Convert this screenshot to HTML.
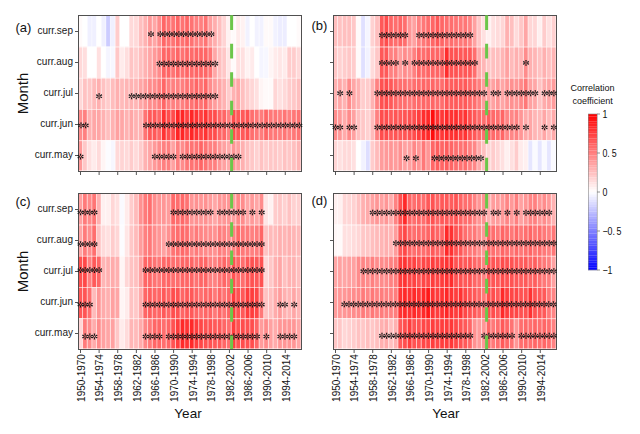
<!DOCTYPE html>
<html><head><meta charset="utf-8"><style>
html,body{margin:0;padding:0;background:#fff;width:640px;height:434px;overflow:hidden}
svg{display:block;font-family:"Liberation Sans",sans-serif}
</style></head><body>
<svg width="640" height="434" viewBox="0 0 640 434">
<rect x="0" y="0" width="640" height="434" fill="#fff"/>
<rect x="78.00" y="15.5" width="4.70" height="31.2" fill="#fffafa"/>
<rect x="82.65" y="15.5" width="4.70" height="31.2" fill="#ffffff"/>
<rect x="87.29" y="15.5" width="4.70" height="31.2" fill="#f0f0ff"/>
<rect x="91.94" y="15.5" width="4.70" height="31.2" fill="#f0f0ff"/>
<rect x="96.58" y="15.5" width="4.70" height="31.2" fill="#ffffff"/>
<rect x="101.23" y="15.5" width="4.70" height="31.2" fill="#f0f0ff"/>
<rect x="105.88" y="15.5" width="4.70" height="31.2" fill="#ccccff"/>
<rect x="110.52" y="15.5" width="4.70" height="31.2" fill="#f0f0ff"/>
<rect x="115.17" y="15.5" width="4.70" height="31.2" fill="#ffcccc"/>
<rect x="119.81" y="15.5" width="4.70" height="31.2" fill="#ffffff"/>
<rect x="124.46" y="15.5" width="4.70" height="31.2" fill="#ffffff"/>
<rect x="129.10" y="15.5" width="4.70" height="31.2" fill="#ffd9d9"/>
<rect x="133.75" y="15.5" width="4.70" height="31.2" fill="#ffd9d9"/>
<rect x="138.40" y="15.5" width="4.70" height="31.2" fill="#ffbfbf"/>
<rect x="143.04" y="15.5" width="4.70" height="31.2" fill="#ffb2b2"/>
<rect x="147.69" y="15.5" width="4.70" height="31.2" fill="#ff9999"/>
<rect x="152.33" y="15.5" width="4.70" height="31.2" fill="#ffa6a6"/>
<rect x="156.98" y="15.5" width="4.70" height="31.2" fill="#ff8c8c"/>
<rect x="161.62" y="15.5" width="4.70" height="31.2" fill="#ff6666"/>
<rect x="166.27" y="15.5" width="4.70" height="31.2" fill="#ff7373"/>
<rect x="170.92" y="15.5" width="4.70" height="31.2" fill="#ff7373"/>
<rect x="175.56" y="15.5" width="4.70" height="31.2" fill="#ff6666"/>
<rect x="180.21" y="15.5" width="4.70" height="31.2" fill="#ff7373"/>
<rect x="184.85" y="15.5" width="4.70" height="31.2" fill="#ff6666"/>
<rect x="189.50" y="15.5" width="4.70" height="31.2" fill="#ff7373"/>
<rect x="194.15" y="15.5" width="4.70" height="31.2" fill="#ff8080"/>
<rect x="198.79" y="15.5" width="4.70" height="31.2" fill="#ff8080"/>
<rect x="203.44" y="15.5" width="4.70" height="31.2" fill="#ff7373"/>
<rect x="208.08" y="15.5" width="4.70" height="31.2" fill="#ff9e9e"/>
<rect x="212.73" y="15.5" width="4.70" height="31.2" fill="#ffadad"/>
<rect x="217.38" y="15.5" width="4.70" height="31.2" fill="#ffbfbf"/>
<rect x="222.02" y="15.5" width="4.70" height="31.2" fill="#ffd4d4"/>
<rect x="226.67" y="15.5" width="4.70" height="31.2" fill="#fff2f2"/>
<rect x="231.31" y="15.5" width="4.70" height="31.2" fill="#fffafa"/>
<rect x="235.96" y="15.5" width="4.70" height="31.2" fill="#ffebeb"/>
<rect x="240.60" y="15.5" width="4.70" height="31.2" fill="#fff2f2"/>
<rect x="245.25" y="15.5" width="4.70" height="31.2" fill="#f2f2ff"/>
<rect x="249.90" y="15.5" width="4.70" height="31.2" fill="#ffffff"/>
<rect x="254.54" y="15.5" width="4.70" height="31.2" fill="#f2f2ff"/>
<rect x="259.19" y="15.5" width="4.70" height="31.2" fill="#f2f2ff"/>
<rect x="263.83" y="15.5" width="4.70" height="31.2" fill="#fffafa"/>
<rect x="268.48" y="15.5" width="4.70" height="31.2" fill="#fffafa"/>
<rect x="273.12" y="15.5" width="4.70" height="31.2" fill="#f2f2ff"/>
<rect x="277.77" y="15.5" width="4.70" height="31.2" fill="#ededff"/>
<rect x="282.42" y="15.5" width="4.70" height="31.2" fill="#ededff"/>
<rect x="287.06" y="15.5" width="4.70" height="31.2" fill="#ffffff"/>
<rect x="291.71" y="15.5" width="4.70" height="31.2" fill="#ffffff"/>
<rect x="296.35" y="15.5" width="4.70" height="31.2" fill="#fffafa"/>
<rect x="78.00" y="46.7" width="4.70" height="31.2" fill="#ffd9d9"/>
<rect x="82.65" y="46.7" width="4.70" height="31.2" fill="#ffdede"/>
<rect x="87.29" y="46.7" width="4.70" height="31.2" fill="#ffffff"/>
<rect x="91.94" y="46.7" width="4.70" height="31.2" fill="#ffffff"/>
<rect x="96.58" y="46.7" width="4.70" height="31.2" fill="#ffe0e0"/>
<rect x="101.23" y="46.7" width="4.70" height="31.2" fill="#ffffff"/>
<rect x="105.88" y="46.7" width="4.70" height="31.2" fill="#f5f5ff"/>
<rect x="110.52" y="46.7" width="4.70" height="31.2" fill="#f7f7ff"/>
<rect x="115.17" y="46.7" width="4.70" height="31.2" fill="#ffc7c7"/>
<rect x="119.81" y="46.7" width="4.70" height="31.2" fill="#ffebeb"/>
<rect x="124.46" y="46.7" width="4.70" height="31.2" fill="#ffdede"/>
<rect x="129.10" y="46.7" width="4.70" height="31.2" fill="#ffc4c4"/>
<rect x="133.75" y="46.7" width="4.70" height="31.2" fill="#ffcccc"/>
<rect x="138.40" y="46.7" width="4.70" height="31.2" fill="#ffbfbf"/>
<rect x="143.04" y="46.7" width="4.70" height="31.2" fill="#ffb2b2"/>
<rect x="147.69" y="46.7" width="4.70" height="31.2" fill="#ffa6a6"/>
<rect x="152.33" y="46.7" width="4.70" height="31.2" fill="#ff9999"/>
<rect x="156.98" y="46.7" width="4.70" height="31.2" fill="#ff8c8c"/>
<rect x="161.62" y="46.7" width="4.70" height="31.2" fill="#ff6666"/>
<rect x="166.27" y="46.7" width="4.70" height="31.2" fill="#ff6666"/>
<rect x="170.92" y="46.7" width="4.70" height="31.2" fill="#ff7373"/>
<rect x="175.56" y="46.7" width="4.70" height="31.2" fill="#ff6666"/>
<rect x="180.21" y="46.7" width="4.70" height="31.2" fill="#ff7373"/>
<rect x="184.85" y="46.7" width="4.70" height="31.2" fill="#ff6666"/>
<rect x="189.50" y="46.7" width="4.70" height="31.2" fill="#ff6b6b"/>
<rect x="194.15" y="46.7" width="4.70" height="31.2" fill="#ff6666"/>
<rect x="198.79" y="46.7" width="4.70" height="31.2" fill="#ff6666"/>
<rect x="203.44" y="46.7" width="4.70" height="31.2" fill="#ff6666"/>
<rect x="208.08" y="46.7" width="4.70" height="31.2" fill="#ff7575"/>
<rect x="212.73" y="46.7" width="4.70" height="31.2" fill="#ffa6a6"/>
<rect x="217.38" y="46.7" width="4.70" height="31.2" fill="#ffbfbf"/>
<rect x="222.02" y="46.7" width="4.70" height="31.2" fill="#ffc7c7"/>
<rect x="226.67" y="46.7" width="4.70" height="31.2" fill="#ffe6e6"/>
<rect x="231.31" y="46.7" width="4.70" height="31.2" fill="#fffafa"/>
<rect x="235.96" y="46.7" width="4.70" height="31.2" fill="#ffe0e0"/>
<rect x="240.60" y="46.7" width="4.70" height="31.2" fill="#ffe0e0"/>
<rect x="245.25" y="46.7" width="4.70" height="31.2" fill="#fff2f2"/>
<rect x="249.90" y="46.7" width="4.70" height="31.2" fill="#ffebeb"/>
<rect x="254.54" y="46.7" width="4.70" height="31.2" fill="#ffffff"/>
<rect x="259.19" y="46.7" width="4.70" height="31.2" fill="#f5f5ff"/>
<rect x="263.83" y="46.7" width="4.70" height="31.2" fill="#f7f7ff"/>
<rect x="268.48" y="46.7" width="4.70" height="31.2" fill="#fff5f5"/>
<rect x="273.12" y="46.7" width="4.70" height="31.2" fill="#ffebeb"/>
<rect x="277.77" y="46.7" width="4.70" height="31.2" fill="#ffe6e6"/>
<rect x="282.42" y="46.7" width="4.70" height="31.2" fill="#ffebeb"/>
<rect x="287.06" y="46.7" width="4.70" height="31.2" fill="#ffcccc"/>
<rect x="291.71" y="46.7" width="4.70" height="31.2" fill="#ffcccc"/>
<rect x="296.35" y="46.7" width="4.70" height="31.2" fill="#ffd9d9"/>
<rect x="78.00" y="77.9" width="4.70" height="31.2" fill="#ffd9d9"/>
<rect x="82.65" y="77.9" width="4.70" height="31.2" fill="#ffc2c2"/>
<rect x="87.29" y="77.9" width="4.70" height="31.2" fill="#ffc7c7"/>
<rect x="91.94" y="77.9" width="4.70" height="31.2" fill="#ffbaba"/>
<rect x="96.58" y="77.9" width="4.70" height="31.2" fill="#ffb0b0"/>
<rect x="101.23" y="77.9" width="4.70" height="31.2" fill="#ffc2c2"/>
<rect x="105.88" y="77.9" width="4.70" height="31.2" fill="#ffcccc"/>
<rect x="110.52" y="77.9" width="4.70" height="31.2" fill="#ffbdbd"/>
<rect x="115.17" y="77.9" width="4.70" height="31.2" fill="#ffb0b0"/>
<rect x="119.81" y="77.9" width="4.70" height="31.2" fill="#ffbaba"/>
<rect x="124.46" y="77.9" width="4.70" height="31.2" fill="#ffb5b5"/>
<rect x="129.10" y="77.9" width="4.70" height="31.2" fill="#ffb2b2"/>
<rect x="133.75" y="77.9" width="4.70" height="31.2" fill="#ffb5b5"/>
<rect x="138.40" y="77.9" width="4.70" height="31.2" fill="#ffa6a6"/>
<rect x="143.04" y="77.9" width="4.70" height="31.2" fill="#ff9c9c"/>
<rect x="147.69" y="77.9" width="4.70" height="31.2" fill="#ff8c8c"/>
<rect x="152.33" y="77.9" width="4.70" height="31.2" fill="#ff8c8c"/>
<rect x="156.98" y="77.9" width="4.70" height="31.2" fill="#ff8080"/>
<rect x="161.62" y="77.9" width="4.70" height="31.2" fill="#ff6666"/>
<rect x="166.27" y="77.9" width="4.70" height="31.2" fill="#ff8080"/>
<rect x="170.92" y="77.9" width="4.70" height="31.2" fill="#ff8080"/>
<rect x="175.56" y="77.9" width="4.70" height="31.2" fill="#ff8080"/>
<rect x="180.21" y="77.9" width="4.70" height="31.2" fill="#ff8080"/>
<rect x="184.85" y="77.9" width="4.70" height="31.2" fill="#ff7373"/>
<rect x="189.50" y="77.9" width="4.70" height="31.2" fill="#ff7373"/>
<rect x="194.15" y="77.9" width="4.70" height="31.2" fill="#ff6666"/>
<rect x="198.79" y="77.9" width="4.70" height="31.2" fill="#ff7373"/>
<rect x="203.44" y="77.9" width="4.70" height="31.2" fill="#ff6666"/>
<rect x="208.08" y="77.9" width="4.70" height="31.2" fill="#ff8c8c"/>
<rect x="212.73" y="77.9" width="4.70" height="31.2" fill="#ff9c9c"/>
<rect x="217.38" y="77.9" width="4.70" height="31.2" fill="#ffa6a6"/>
<rect x="222.02" y="77.9" width="4.70" height="31.2" fill="#ffb2b2"/>
<rect x="226.67" y="77.9" width="4.70" height="31.2" fill="#ffcccc"/>
<rect x="231.31" y="77.9" width="4.70" height="31.2" fill="#ffb2b2"/>
<rect x="235.96" y="77.9" width="4.70" height="31.2" fill="#ffa6a6"/>
<rect x="240.60" y="77.9" width="4.70" height="31.2" fill="#ffbfbf"/>
<rect x="245.25" y="77.9" width="4.70" height="31.2" fill="#ffcccc"/>
<rect x="249.90" y="77.9" width="4.70" height="31.2" fill="#ffd6d6"/>
<rect x="254.54" y="77.9" width="4.70" height="31.2" fill="#ffe0e0"/>
<rect x="259.19" y="77.9" width="4.70" height="31.2" fill="#fff5f5"/>
<rect x="263.83" y="77.9" width="4.70" height="31.2" fill="#fffafa"/>
<rect x="268.48" y="77.9" width="4.70" height="31.2" fill="#fffafa"/>
<rect x="273.12" y="77.9" width="4.70" height="31.2" fill="#ffd6d6"/>
<rect x="277.77" y="77.9" width="4.70" height="31.2" fill="#ffe0e0"/>
<rect x="282.42" y="77.9" width="4.70" height="31.2" fill="#ffd9d9"/>
<rect x="287.06" y="77.9" width="4.70" height="31.2" fill="#ffcccc"/>
<rect x="291.71" y="77.9" width="4.70" height="31.2" fill="#ffc7c7"/>
<rect x="296.35" y="77.9" width="4.70" height="31.2" fill="#ffbfbf"/>
<rect x="78.00" y="109.1" width="4.70" height="31.2" fill="#ff8c8c"/>
<rect x="82.65" y="109.1" width="4.70" height="31.2" fill="#ff8080"/>
<rect x="87.29" y="109.1" width="4.70" height="31.2" fill="#ffb2b2"/>
<rect x="91.94" y="109.1" width="4.70" height="31.2" fill="#ffa6a6"/>
<rect x="96.58" y="109.1" width="4.70" height="31.2" fill="#ffa6a6"/>
<rect x="101.23" y="109.1" width="4.70" height="31.2" fill="#ffb2b2"/>
<rect x="105.88" y="109.1" width="4.70" height="31.2" fill="#ffbfbf"/>
<rect x="110.52" y="109.1" width="4.70" height="31.2" fill="#ffb2b2"/>
<rect x="115.17" y="109.1" width="4.70" height="31.2" fill="#ffa1a1"/>
<rect x="119.81" y="109.1" width="4.70" height="31.2" fill="#ffa6a6"/>
<rect x="124.46" y="109.1" width="4.70" height="31.2" fill="#ffb2b2"/>
<rect x="129.10" y="109.1" width="4.70" height="31.2" fill="#ffa6a6"/>
<rect x="133.75" y="109.1" width="4.70" height="31.2" fill="#ffb2b2"/>
<rect x="138.40" y="109.1" width="4.70" height="31.2" fill="#ffb2b2"/>
<rect x="143.04" y="109.1" width="4.70" height="31.2" fill="#ff7373"/>
<rect x="147.69" y="109.1" width="4.70" height="31.2" fill="#ff5959"/>
<rect x="152.33" y="109.1" width="4.70" height="31.2" fill="#ff5959"/>
<rect x="156.98" y="109.1" width="4.70" height="31.2" fill="#ff6666"/>
<rect x="161.62" y="109.1" width="4.70" height="31.2" fill="#ff3333"/>
<rect x="166.27" y="109.1" width="4.70" height="31.2" fill="#ff4d4d"/>
<rect x="170.92" y="109.1" width="4.70" height="31.2" fill="#ff4d4d"/>
<rect x="175.56" y="109.1" width="4.70" height="31.2" fill="#ff2626"/>
<rect x="180.21" y="109.1" width="4.70" height="31.2" fill="#ff2626"/>
<rect x="184.85" y="109.1" width="4.70" height="31.2" fill="#ff4040"/>
<rect x="189.50" y="109.1" width="4.70" height="31.2" fill="#ff2626"/>
<rect x="194.15" y="109.1" width="4.70" height="31.2" fill="#ff3333"/>
<rect x="198.79" y="109.1" width="4.70" height="31.2" fill="#ff4040"/>
<rect x="203.44" y="109.1" width="4.70" height="31.2" fill="#ff3333"/>
<rect x="208.08" y="109.1" width="4.70" height="31.2" fill="#ff4d4d"/>
<rect x="212.73" y="109.1" width="4.70" height="31.2" fill="#ff4d4d"/>
<rect x="217.38" y="109.1" width="4.70" height="31.2" fill="#ff6666"/>
<rect x="222.02" y="109.1" width="4.70" height="31.2" fill="#ff6666"/>
<rect x="226.67" y="109.1" width="4.70" height="31.2" fill="#ff8080"/>
<rect x="231.31" y="109.1" width="4.70" height="31.2" fill="#ff4d4d"/>
<rect x="235.96" y="109.1" width="4.70" height="31.2" fill="#ff5959"/>
<rect x="240.60" y="109.1" width="4.70" height="31.2" fill="#ff5959"/>
<rect x="245.25" y="109.1" width="4.70" height="31.2" fill="#ff5252"/>
<rect x="249.90" y="109.1" width="4.70" height="31.2" fill="#ff6e6e"/>
<rect x="254.54" y="109.1" width="4.70" height="31.2" fill="#ff7878"/>
<rect x="259.19" y="109.1" width="4.70" height="31.2" fill="#ff7d7d"/>
<rect x="263.83" y="109.1" width="4.70" height="31.2" fill="#ff6666"/>
<rect x="268.48" y="109.1" width="4.70" height="31.2" fill="#ff7878"/>
<rect x="273.12" y="109.1" width="4.70" height="31.2" fill="#ff7878"/>
<rect x="277.77" y="109.1" width="4.70" height="31.2" fill="#ff7d7d"/>
<rect x="282.42" y="109.1" width="4.70" height="31.2" fill="#ff7575"/>
<rect x="287.06" y="109.1" width="4.70" height="31.2" fill="#ff8080"/>
<rect x="291.71" y="109.1" width="4.70" height="31.2" fill="#ff7878"/>
<rect x="296.35" y="109.1" width="4.70" height="31.2" fill="#ff7373"/>
<rect x="78.00" y="140.3" width="4.70" height="31.2" fill="#ff9999"/>
<rect x="82.65" y="140.3" width="4.70" height="31.2" fill="#ffc7c7"/>
<rect x="87.29" y="140.3" width="4.70" height="31.2" fill="#ffe0e0"/>
<rect x="91.94" y="140.3" width="4.70" height="31.2" fill="#ffebeb"/>
<rect x="96.58" y="140.3" width="4.70" height="31.2" fill="#ffdbdb"/>
<rect x="101.23" y="140.3" width="4.70" height="31.2" fill="#fff5f5"/>
<rect x="105.88" y="140.3" width="4.70" height="31.2" fill="#fcfcff"/>
<rect x="110.52" y="140.3" width="4.70" height="31.2" fill="#f7f7ff"/>
<rect x="115.17" y="140.3" width="4.70" height="31.2" fill="#ffd9d9"/>
<rect x="119.81" y="140.3" width="4.70" height="31.2" fill="#ffd4d4"/>
<rect x="124.46" y="140.3" width="4.70" height="31.2" fill="#ffd9d9"/>
<rect x="129.10" y="140.3" width="4.70" height="31.2" fill="#ffcccc"/>
<rect x="133.75" y="140.3" width="4.70" height="31.2" fill="#ffd9d9"/>
<rect x="138.40" y="140.3" width="4.70" height="31.2" fill="#ffcccc"/>
<rect x="143.04" y="140.3" width="4.70" height="31.2" fill="#ffb2b2"/>
<rect x="147.69" y="140.3" width="4.70" height="31.2" fill="#ffa6a6"/>
<rect x="152.33" y="140.3" width="4.70" height="31.2" fill="#ff9999"/>
<rect x="156.98" y="140.3" width="4.70" height="31.2" fill="#ff8c8c"/>
<rect x="161.62" y="140.3" width="4.70" height="31.2" fill="#ff8080"/>
<rect x="166.27" y="140.3" width="4.70" height="31.2" fill="#ff8080"/>
<rect x="170.92" y="140.3" width="4.70" height="31.2" fill="#ffa1a1"/>
<rect x="175.56" y="140.3" width="4.70" height="31.2" fill="#ff8080"/>
<rect x="180.21" y="140.3" width="4.70" height="31.2" fill="#ff8c8c"/>
<rect x="184.85" y="140.3" width="4.70" height="31.2" fill="#ff7878"/>
<rect x="189.50" y="140.3" width="4.70" height="31.2" fill="#ff7373"/>
<rect x="194.15" y="140.3" width="4.70" height="31.2" fill="#ff7373"/>
<rect x="198.79" y="140.3" width="4.70" height="31.2" fill="#ff6666"/>
<rect x="203.44" y="140.3" width="4.70" height="31.2" fill="#ff7373"/>
<rect x="208.08" y="140.3" width="4.70" height="31.2" fill="#ff8080"/>
<rect x="212.73" y="140.3" width="4.70" height="31.2" fill="#ff8080"/>
<rect x="217.38" y="140.3" width="4.70" height="31.2" fill="#ff9696"/>
<rect x="222.02" y="140.3" width="4.70" height="31.2" fill="#ffa1a1"/>
<rect x="226.67" y="140.3" width="4.70" height="31.2" fill="#ffabab"/>
<rect x="231.31" y="140.3" width="4.70" height="31.2" fill="#ff9696"/>
<rect x="235.96" y="140.3" width="4.70" height="31.2" fill="#ffa1a1"/>
<rect x="240.60" y="140.3" width="4.70" height="31.2" fill="#ffb0b0"/>
<rect x="245.25" y="140.3" width="4.70" height="31.2" fill="#ffbfbf"/>
<rect x="249.90" y="140.3" width="4.70" height="31.2" fill="#ffc7c7"/>
<rect x="254.54" y="140.3" width="4.70" height="31.2" fill="#ffd1d1"/>
<rect x="259.19" y="140.3" width="4.70" height="31.2" fill="#ffc2c2"/>
<rect x="263.83" y="140.3" width="4.70" height="31.2" fill="#ffcccc"/>
<rect x="268.48" y="140.3" width="4.70" height="31.2" fill="#ffc7c7"/>
<rect x="273.12" y="140.3" width="4.70" height="31.2" fill="#ffc7c7"/>
<rect x="277.77" y="140.3" width="4.70" height="31.2" fill="#ffcccc"/>
<rect x="282.42" y="140.3" width="4.70" height="31.2" fill="#ffc2c2"/>
<rect x="287.06" y="140.3" width="4.70" height="31.2" fill="#ffc7c7"/>
<rect x="291.71" y="140.3" width="4.70" height="31.2" fill="#ffbfbf"/>
<rect x="296.35" y="140.3" width="4.70" height="31.2" fill="#ffb5b5"/>
<path d="M82.55 16 V171 M87.19 16 V171 M91.84 16 V171 M96.48 16 V171 M101.13 16 V171 M105.78 16 V171 M110.42 16 V171 M115.07 16 V171 M119.71 16 V171 M124.36 16 V171 M129.00 16 V171 M133.65 16 V171 M138.30 16 V171 M142.94 16 V171 M147.59 16 V171 M152.23 16 V171 M156.88 16 V171 M161.53 16 V171 M166.17 16 V171 M170.82 16 V171 M175.46 16 V171 M180.11 16 V171 M184.75 16 V171 M189.40 16 V171 M194.05 16 V171 M198.69 16 V171 M203.34 16 V171 M207.98 16 V171 M212.63 16 V171 M217.28 16 V171 M221.92 16 V171 M226.57 16 V171 M231.21 16 V171 M235.86 16 V171 M240.50 16 V171 M245.15 16 V171 M249.80 16 V171 M254.44 16 V171 M259.09 16 V171 M263.73 16 V171 M268.38 16 V171 M273.02 16 V171 M277.67 16 V171 M282.32 16 V171 M286.96 16 V171 M291.61 16 V171 M296.25 16 V171 M300.90 16 V171 M78 47.10 H301 M78 78.30 H301 M78 109.50 H301 M78 140.70 H301 M78 170.6 H301" stroke="#fff" stroke-opacity="0.62" stroke-width="0.9" fill="none"/>
<rect x="78.5" y="15.5" width="223" height="156" fill="none" stroke="#505050" stroke-width="1.0"/>
<path d="M75.0 31.5 H78.0 M75.0 62.5 H78.0 M75.0 93.5 H78.0 M75.0 124.5 H78.0 M75.0 155.5 H78.0 M80.50 172 V175 M99.12 172 V175 M117.73 172 V175 M136.35 172 V175 M154.96 172 V175 M173.58 172 V175 M192.20 172 V175 M210.81 172 V175 M229.43 172 V175 M248.04 172 V175 M266.66 172 V175 M285.28 172 V175" stroke="#555" stroke-width="1" fill="none"/>
<text x="73.0" y="34.0" text-anchor="end" font-size="10" fill="#1a1a1a">curr.sep</text>
<text x="73.0" y="65.0" text-anchor="end" font-size="10" fill="#1a1a1a">curr.aug</text>
<text x="73.0" y="96.0" text-anchor="end" font-size="10" fill="#1a1a1a">curr.jul</text>
<text x="73.0" y="127.0" text-anchor="end" font-size="10" fill="#1a1a1a">curr.jun</text>
<text x="73.0" y="158.0" text-anchor="end" font-size="10" fill="#1a1a1a">curr.may</text>
<text x="15.4" y="32.3" font-size="13" fill="#111">(a)</text>
<rect x="333.00" y="15.5" width="4.70" height="31.2" fill="#ffbfbf"/>
<rect x="337.65" y="15.5" width="4.70" height="31.2" fill="#ffc2c2"/>
<rect x="342.29" y="15.5" width="4.70" height="31.2" fill="#ffbfbf"/>
<rect x="346.94" y="15.5" width="4.70" height="31.2" fill="#ffbfbf"/>
<rect x="351.58" y="15.5" width="4.70" height="31.2" fill="#ffc7c7"/>
<rect x="356.23" y="15.5" width="4.70" height="31.2" fill="#fffafa"/>
<rect x="360.88" y="15.5" width="4.70" height="31.2" fill="#e0e0ff"/>
<rect x="365.52" y="15.5" width="4.70" height="31.2" fill="#f5f5ff"/>
<rect x="370.17" y="15.5" width="4.70" height="31.2" fill="#ffd1d1"/>
<rect x="374.81" y="15.5" width="4.70" height="31.2" fill="#ffbfbf"/>
<rect x="379.46" y="15.5" width="4.70" height="31.2" fill="#ff5959"/>
<rect x="384.10" y="15.5" width="4.70" height="31.2" fill="#ff4d4d"/>
<rect x="388.75" y="15.5" width="4.70" height="31.2" fill="#ff6666"/>
<rect x="393.40" y="15.5" width="4.70" height="31.2" fill="#ff6e6e"/>
<rect x="398.04" y="15.5" width="4.70" height="31.2" fill="#ff6666"/>
<rect x="402.69" y="15.5" width="4.70" height="31.2" fill="#ff6e6e"/>
<rect x="407.33" y="15.5" width="4.70" height="31.2" fill="#ff9696"/>
<rect x="411.98" y="15.5" width="4.70" height="31.2" fill="#ffa1a1"/>
<rect x="416.62" y="15.5" width="4.70" height="31.2" fill="#ff8282"/>
<rect x="421.27" y="15.5" width="4.70" height="31.2" fill="#ff7878"/>
<rect x="425.92" y="15.5" width="4.70" height="31.2" fill="#ff6e6e"/>
<rect x="430.56" y="15.5" width="4.70" height="31.2" fill="#ff6666"/>
<rect x="435.21" y="15.5" width="4.70" height="31.2" fill="#ff5959"/>
<rect x="439.85" y="15.5" width="4.70" height="31.2" fill="#ff6666"/>
<rect x="444.50" y="15.5" width="4.70" height="31.2" fill="#ff6e6e"/>
<rect x="449.15" y="15.5" width="4.70" height="31.2" fill="#ff6e6e"/>
<rect x="453.79" y="15.5" width="4.70" height="31.2" fill="#ff7373"/>
<rect x="458.44" y="15.5" width="4.70" height="31.2" fill="#ff7878"/>
<rect x="463.08" y="15.5" width="4.70" height="31.2" fill="#ff7575"/>
<rect x="467.73" y="15.5" width="4.70" height="31.2" fill="#ff8282"/>
<rect x="472.38" y="15.5" width="4.70" height="31.2" fill="#ffa1a1"/>
<rect x="477.02" y="15.5" width="4.70" height="31.2" fill="#ffc7c7"/>
<rect x="481.67" y="15.5" width="4.70" height="31.2" fill="#ffe0e0"/>
<rect x="486.31" y="15.5" width="4.70" height="31.2" fill="#fff0f0"/>
<rect x="490.96" y="15.5" width="4.70" height="31.2" fill="#ffe0e0"/>
<rect x="495.60" y="15.5" width="4.70" height="31.2" fill="#ffdbdb"/>
<rect x="500.25" y="15.5" width="4.70" height="31.2" fill="#ffd6d6"/>
<rect x="504.90" y="15.5" width="4.70" height="31.2" fill="#ffb0b0"/>
<rect x="509.54" y="15.5" width="4.70" height="31.2" fill="#ffbfbf"/>
<rect x="514.19" y="15.5" width="4.70" height="31.2" fill="#ffdbdb"/>
<rect x="518.83" y="15.5" width="4.70" height="31.2" fill="#ffc7c7"/>
<rect x="523.48" y="15.5" width="4.70" height="31.2" fill="#ffa6a6"/>
<rect x="528.12" y="15.5" width="4.70" height="31.2" fill="#ffd6d6"/>
<rect x="532.77" y="15.5" width="4.70" height="31.2" fill="#ffd6d6"/>
<rect x="537.42" y="15.5" width="4.70" height="31.2" fill="#fff0f0"/>
<rect x="542.06" y="15.5" width="4.70" height="31.2" fill="#ffcccc"/>
<rect x="546.71" y="15.5" width="4.70" height="31.2" fill="#ffe0e0"/>
<rect x="551.35" y="15.5" width="4.70" height="31.2" fill="#ffd1d1"/>
<rect x="333.00" y="46.7" width="4.70" height="31.2" fill="#ffc7c7"/>
<rect x="337.65" y="46.7" width="4.70" height="31.2" fill="#ffd1d1"/>
<rect x="342.29" y="46.7" width="4.70" height="31.2" fill="#ffcccc"/>
<rect x="346.94" y="46.7" width="4.70" height="31.2" fill="#ffc7c7"/>
<rect x="351.58" y="46.7" width="4.70" height="31.2" fill="#ffcccc"/>
<rect x="356.23" y="46.7" width="4.70" height="31.2" fill="#fffafa"/>
<rect x="360.88" y="46.7" width="4.70" height="31.2" fill="#e0e0ff"/>
<rect x="365.52" y="46.7" width="4.70" height="31.2" fill="#f2f2ff"/>
<rect x="370.17" y="46.7" width="4.70" height="31.2" fill="#ffdbdb"/>
<rect x="374.81" y="46.7" width="4.70" height="31.2" fill="#ffc7c7"/>
<rect x="379.46" y="46.7" width="4.70" height="31.2" fill="#ff5959"/>
<rect x="384.10" y="46.7" width="4.70" height="31.2" fill="#ff5959"/>
<rect x="388.75" y="46.7" width="4.70" height="31.2" fill="#ff8080"/>
<rect x="393.40" y="46.7" width="4.70" height="31.2" fill="#ff8080"/>
<rect x="398.04" y="46.7" width="4.70" height="31.2" fill="#ff9c9c"/>
<rect x="402.69" y="46.7" width="4.70" height="31.2" fill="#ff8c8c"/>
<rect x="407.33" y="46.7" width="4.70" height="31.2" fill="#ff9696"/>
<rect x="411.98" y="46.7" width="4.70" height="31.2" fill="#ff8080"/>
<rect x="416.62" y="46.7" width="4.70" height="31.2" fill="#ff6666"/>
<rect x="421.27" y="46.7" width="4.70" height="31.2" fill="#ff6e6e"/>
<rect x="425.92" y="46.7" width="4.70" height="31.2" fill="#ff6666"/>
<rect x="430.56" y="46.7" width="4.70" height="31.2" fill="#ff6666"/>
<rect x="435.21" y="46.7" width="4.70" height="31.2" fill="#ff6666"/>
<rect x="439.85" y="46.7" width="4.70" height="31.2" fill="#ff6666"/>
<rect x="444.50" y="46.7" width="4.70" height="31.2" fill="#ff2e2e"/>
<rect x="449.15" y="46.7" width="4.70" height="31.2" fill="#ff5454"/>
<rect x="453.79" y="46.7" width="4.70" height="31.2" fill="#ff5252"/>
<rect x="458.44" y="46.7" width="4.70" height="31.2" fill="#ff5959"/>
<rect x="463.08" y="46.7" width="4.70" height="31.2" fill="#ff5757"/>
<rect x="467.73" y="46.7" width="4.70" height="31.2" fill="#ff5959"/>
<rect x="472.38" y="46.7" width="4.70" height="31.2" fill="#ff6e6e"/>
<rect x="477.02" y="46.7" width="4.70" height="31.2" fill="#ffabab"/>
<rect x="481.67" y="46.7" width="4.70" height="31.2" fill="#ffb5b5"/>
<rect x="486.31" y="46.7" width="4.70" height="31.2" fill="#ffc7c7"/>
<rect x="490.96" y="46.7" width="4.70" height="31.2" fill="#ffbfbf"/>
<rect x="495.60" y="46.7" width="4.70" height="31.2" fill="#ffbfbf"/>
<rect x="500.25" y="46.7" width="4.70" height="31.2" fill="#ffb5b5"/>
<rect x="504.90" y="46.7" width="4.70" height="31.2" fill="#ffa1a1"/>
<rect x="509.54" y="46.7" width="4.70" height="31.2" fill="#ffbaba"/>
<rect x="514.19" y="46.7" width="4.70" height="31.2" fill="#ffb0b0"/>
<rect x="518.83" y="46.7" width="4.70" height="31.2" fill="#ffb5b5"/>
<rect x="523.48" y="46.7" width="4.70" height="31.2" fill="#ff8c8c"/>
<rect x="528.12" y="46.7" width="4.70" height="31.2" fill="#ffb0b0"/>
<rect x="532.77" y="46.7" width="4.70" height="31.2" fill="#ffb5b5"/>
<rect x="537.42" y="46.7" width="4.70" height="31.2" fill="#ffc2c2"/>
<rect x="542.06" y="46.7" width="4.70" height="31.2" fill="#ffb0b0"/>
<rect x="546.71" y="46.7" width="4.70" height="31.2" fill="#ffbfbf"/>
<rect x="551.35" y="46.7" width="4.70" height="31.2" fill="#ffb5b5"/>
<rect x="333.00" y="77.9" width="4.70" height="31.2" fill="#ffb0b0"/>
<rect x="337.65" y="77.9" width="4.70" height="31.2" fill="#ffa6a6"/>
<rect x="342.29" y="77.9" width="4.70" height="31.2" fill="#ffb2b2"/>
<rect x="346.94" y="77.9" width="4.70" height="31.2" fill="#ff8c8c"/>
<rect x="351.58" y="77.9" width="4.70" height="31.2" fill="#ffa6a6"/>
<rect x="356.23" y="77.9" width="4.70" height="31.2" fill="#ffb2b2"/>
<rect x="360.88" y="77.9" width="4.70" height="31.2" fill="#ffcccc"/>
<rect x="365.52" y="77.9" width="4.70" height="31.2" fill="#ffcccc"/>
<rect x="370.17" y="77.9" width="4.70" height="31.2" fill="#ffb2b2"/>
<rect x="374.81" y="77.9" width="4.70" height="31.2" fill="#ff8282"/>
<rect x="379.46" y="77.9" width="4.70" height="31.2" fill="#ff5252"/>
<rect x="384.10" y="77.9" width="4.70" height="31.2" fill="#ff4d4d"/>
<rect x="388.75" y="77.9" width="4.70" height="31.2" fill="#ff5959"/>
<rect x="393.40" y="77.9" width="4.70" height="31.2" fill="#ff6666"/>
<rect x="398.04" y="77.9" width="4.70" height="31.2" fill="#ff6e6e"/>
<rect x="402.69" y="77.9" width="4.70" height="31.2" fill="#ff6e6e"/>
<rect x="407.33" y="77.9" width="4.70" height="31.2" fill="#ff7878"/>
<rect x="411.98" y="77.9" width="4.70" height="31.2" fill="#ff6e6e"/>
<rect x="416.62" y="77.9" width="4.70" height="31.2" fill="#ff6969"/>
<rect x="421.27" y="77.9" width="4.70" height="31.2" fill="#ff6666"/>
<rect x="425.92" y="77.9" width="4.70" height="31.2" fill="#ff6969"/>
<rect x="430.56" y="77.9" width="4.70" height="31.2" fill="#ff6666"/>
<rect x="435.21" y="77.9" width="4.70" height="31.2" fill="#ff6e6e"/>
<rect x="439.85" y="77.9" width="4.70" height="31.2" fill="#ff6e6e"/>
<rect x="444.50" y="77.9" width="4.70" height="31.2" fill="#ff5959"/>
<rect x="449.15" y="77.9" width="4.70" height="31.2" fill="#ff5e5e"/>
<rect x="453.79" y="77.9" width="4.70" height="31.2" fill="#ff5959"/>
<rect x="458.44" y="77.9" width="4.70" height="31.2" fill="#ff5e5e"/>
<rect x="463.08" y="77.9" width="4.70" height="31.2" fill="#ff5959"/>
<rect x="467.73" y="77.9" width="4.70" height="31.2" fill="#ff6666"/>
<rect x="472.38" y="77.9" width="4.70" height="31.2" fill="#ff6e6e"/>
<rect x="477.02" y="77.9" width="4.70" height="31.2" fill="#ff8080"/>
<rect x="481.67" y="77.9" width="4.70" height="31.2" fill="#ff9c9c"/>
<rect x="486.31" y="77.9" width="4.70" height="31.2" fill="#ffa1a1"/>
<rect x="490.96" y="77.9" width="4.70" height="31.2" fill="#ffa1a1"/>
<rect x="495.60" y="77.9" width="4.70" height="31.2" fill="#ff9696"/>
<rect x="500.25" y="77.9" width="4.70" height="31.2" fill="#ffa6a6"/>
<rect x="504.90" y="77.9" width="4.70" height="31.2" fill="#ff9696"/>
<rect x="509.54" y="77.9" width="4.70" height="31.2" fill="#ff9191"/>
<rect x="514.19" y="77.9" width="4.70" height="31.2" fill="#ff9696"/>
<rect x="518.83" y="77.9" width="4.70" height="31.2" fill="#ff8a8a"/>
<rect x="523.48" y="77.9" width="4.70" height="31.2" fill="#ff7878"/>
<rect x="528.12" y="77.9" width="4.70" height="31.2" fill="#ffa1a1"/>
<rect x="532.77" y="77.9" width="4.70" height="31.2" fill="#ffa6a6"/>
<rect x="537.42" y="77.9" width="4.70" height="31.2" fill="#ffc2c2"/>
<rect x="542.06" y="77.9" width="4.70" height="31.2" fill="#ffabab"/>
<rect x="546.71" y="77.9" width="4.70" height="31.2" fill="#ffa6a6"/>
<rect x="551.35" y="77.9" width="4.70" height="31.2" fill="#ff9c9c"/>
<rect x="333.00" y="109.1" width="4.70" height="31.2" fill="#ff8c8c"/>
<rect x="337.65" y="109.1" width="4.70" height="31.2" fill="#ff9999"/>
<rect x="342.29" y="109.1" width="4.70" height="31.2" fill="#ffabab"/>
<rect x="346.94" y="109.1" width="4.70" height="31.2" fill="#ff8c8c"/>
<rect x="351.58" y="109.1" width="4.70" height="31.2" fill="#ffa1a1"/>
<rect x="356.23" y="109.1" width="4.70" height="31.2" fill="#ffbfbf"/>
<rect x="360.88" y="109.1" width="4.70" height="31.2" fill="#ffc7c7"/>
<rect x="365.52" y="109.1" width="4.70" height="31.2" fill="#ffd1d1"/>
<rect x="370.17" y="109.1" width="4.70" height="31.2" fill="#ffbaba"/>
<rect x="374.81" y="109.1" width="4.70" height="31.2" fill="#ff8080"/>
<rect x="379.46" y="109.1" width="4.70" height="31.2" fill="#ff4d4d"/>
<rect x="384.10" y="109.1" width="4.70" height="31.2" fill="#ff4d4d"/>
<rect x="388.75" y="109.1" width="4.70" height="31.2" fill="#ff5959"/>
<rect x="393.40" y="109.1" width="4.70" height="31.2" fill="#ff5454"/>
<rect x="398.04" y="109.1" width="4.70" height="31.2" fill="#ff5959"/>
<rect x="402.69" y="109.1" width="4.70" height="31.2" fill="#ff5454"/>
<rect x="407.33" y="109.1" width="4.70" height="31.2" fill="#ff5252"/>
<rect x="411.98" y="109.1" width="4.70" height="31.2" fill="#ff4d4d"/>
<rect x="416.62" y="109.1" width="4.70" height="31.2" fill="#ff3d3d"/>
<rect x="421.27" y="109.1" width="4.70" height="31.2" fill="#ff2e2e"/>
<rect x="425.92" y="109.1" width="4.70" height="31.2" fill="#ff2929"/>
<rect x="430.56" y="109.1" width="4.70" height="31.2" fill="#ff0d0d"/>
<rect x="435.21" y="109.1" width="4.70" height="31.2" fill="#ff3333"/>
<rect x="439.85" y="109.1" width="4.70" height="31.2" fill="#ff3838"/>
<rect x="444.50" y="109.1" width="4.70" height="31.2" fill="#ff2929"/>
<rect x="449.15" y="109.1" width="4.70" height="31.2" fill="#ff3333"/>
<rect x="453.79" y="109.1" width="4.70" height="31.2" fill="#ff2e2e"/>
<rect x="458.44" y="109.1" width="4.70" height="31.2" fill="#ff3d3d"/>
<rect x="463.08" y="109.1" width="4.70" height="31.2" fill="#ff3333"/>
<rect x="467.73" y="109.1" width="4.70" height="31.2" fill="#ff4d4d"/>
<rect x="472.38" y="109.1" width="4.70" height="31.2" fill="#ff5959"/>
<rect x="477.02" y="109.1" width="4.70" height="31.2" fill="#ff6969"/>
<rect x="481.67" y="109.1" width="4.70" height="31.2" fill="#ff6e6e"/>
<rect x="486.31" y="109.1" width="4.70" height="31.2" fill="#ff5e5e"/>
<rect x="490.96" y="109.1" width="4.70" height="31.2" fill="#ff6969"/>
<rect x="495.60" y="109.1" width="4.70" height="31.2" fill="#ff6e6e"/>
<rect x="500.25" y="109.1" width="4.70" height="31.2" fill="#ff6666"/>
<rect x="504.90" y="109.1" width="4.70" height="31.2" fill="#ff8585"/>
<rect x="509.54" y="109.1" width="4.70" height="31.2" fill="#ff8787"/>
<rect x="514.19" y="109.1" width="4.70" height="31.2" fill="#ff8282"/>
<rect x="518.83" y="109.1" width="4.70" height="31.2" fill="#ff9696"/>
<rect x="523.48" y="109.1" width="4.70" height="31.2" fill="#ffabab"/>
<rect x="528.12" y="109.1" width="4.70" height="31.2" fill="#ffa6a6"/>
<rect x="532.77" y="109.1" width="4.70" height="31.2" fill="#ffb5b5"/>
<rect x="537.42" y="109.1" width="4.70" height="31.2" fill="#ffbaba"/>
<rect x="542.06" y="109.1" width="4.70" height="31.2" fill="#ffa6a6"/>
<rect x="546.71" y="109.1" width="4.70" height="31.2" fill="#ffbaba"/>
<rect x="551.35" y="109.1" width="4.70" height="31.2" fill="#ffabab"/>
<rect x="333.00" y="140.3" width="4.70" height="31.2" fill="#ffd6d6"/>
<rect x="337.65" y="140.3" width="4.70" height="31.2" fill="#ffe0e0"/>
<rect x="342.29" y="140.3" width="4.70" height="31.2" fill="#ffd9d9"/>
<rect x="346.94" y="140.3" width="4.70" height="31.2" fill="#ffd9d9"/>
<rect x="351.58" y="140.3" width="4.70" height="31.2" fill="#ffe0e0"/>
<rect x="356.23" y="140.3" width="4.70" height="31.2" fill="#ffffff"/>
<rect x="360.88" y="140.3" width="4.70" height="31.2" fill="#f2f2ff"/>
<rect x="365.52" y="140.3" width="4.70" height="31.2" fill="#dedeff"/>
<rect x="370.17" y="140.3" width="4.70" height="31.2" fill="#ffcccc"/>
<rect x="374.81" y="140.3" width="4.70" height="31.2" fill="#ffbaba"/>
<rect x="379.46" y="140.3" width="4.70" height="31.2" fill="#ff9c9c"/>
<rect x="384.10" y="140.3" width="4.70" height="31.2" fill="#ff9999"/>
<rect x="388.75" y="140.3" width="4.70" height="31.2" fill="#ff9696"/>
<rect x="393.40" y="140.3" width="4.70" height="31.2" fill="#ff9c9c"/>
<rect x="398.04" y="140.3" width="4.70" height="31.2" fill="#ff9191"/>
<rect x="402.69" y="140.3" width="4.70" height="31.2" fill="#ffa1a1"/>
<rect x="407.33" y="140.3" width="4.70" height="31.2" fill="#ffa1a1"/>
<rect x="411.98" y="140.3" width="4.70" height="31.2" fill="#ff8787"/>
<rect x="416.62" y="140.3" width="4.70" height="31.2" fill="#ff9696"/>
<rect x="421.27" y="140.3" width="4.70" height="31.2" fill="#ff7878"/>
<rect x="425.92" y="140.3" width="4.70" height="31.2" fill="#ff9696"/>
<rect x="430.56" y="140.3" width="4.70" height="31.2" fill="#ff6666"/>
<rect x="435.21" y="140.3" width="4.70" height="31.2" fill="#ff5e5e"/>
<rect x="439.85" y="140.3" width="4.70" height="31.2" fill="#ff6666"/>
<rect x="444.50" y="140.3" width="4.70" height="31.2" fill="#ff5e5e"/>
<rect x="449.15" y="140.3" width="4.70" height="31.2" fill="#ff6666"/>
<rect x="453.79" y="140.3" width="4.70" height="31.2" fill="#ff6e6e"/>
<rect x="458.44" y="140.3" width="4.70" height="31.2" fill="#ff7373"/>
<rect x="463.08" y="140.3" width="4.70" height="31.2" fill="#ff6e6e"/>
<rect x="467.73" y="140.3" width="4.70" height="31.2" fill="#ff8080"/>
<rect x="472.38" y="140.3" width="4.70" height="31.2" fill="#ff8787"/>
<rect x="477.02" y="140.3" width="4.70" height="31.2" fill="#ffabab"/>
<rect x="481.67" y="140.3" width="4.70" height="31.2" fill="#ffbfbf"/>
<rect x="486.31" y="140.3" width="4.70" height="31.2" fill="#ffd6d6"/>
<rect x="490.96" y="140.3" width="4.70" height="31.2" fill="#ffcccc"/>
<rect x="495.60" y="140.3" width="4.70" height="31.2" fill="#ffd6d6"/>
<rect x="500.25" y="140.3" width="4.70" height="31.2" fill="#ffe0e0"/>
<rect x="504.90" y="140.3" width="4.70" height="31.2" fill="#fff0f0"/>
<rect x="509.54" y="140.3" width="4.70" height="31.2" fill="#ffe0e0"/>
<rect x="514.19" y="140.3" width="4.70" height="31.2" fill="#ffcccc"/>
<rect x="518.83" y="140.3" width="4.70" height="31.2" fill="#ffebeb"/>
<rect x="523.48" y="140.3" width="4.70" height="31.2" fill="#fff0f0"/>
<rect x="528.12" y="140.3" width="4.70" height="31.2" fill="#e6e6ff"/>
<rect x="532.77" y="140.3" width="4.70" height="31.2" fill="#fafaff"/>
<rect x="537.42" y="140.3" width="4.70" height="31.2" fill="#e6e6ff"/>
<rect x="542.06" y="140.3" width="4.70" height="31.2" fill="#fafaff"/>
<rect x="546.71" y="140.3" width="4.70" height="31.2" fill="#e6e6ff"/>
<rect x="551.35" y="140.3" width="4.70" height="31.2" fill="#fafaff"/>
<path d="M337.55 16 V171 M342.19 16 V171 M346.84 16 V171 M351.48 16 V171 M356.13 16 V171 M360.77 16 V171 M365.42 16 V171 M370.07 16 V171 M374.71 16 V171 M379.36 16 V171 M384.00 16 V171 M388.65 16 V171 M393.30 16 V171 M397.94 16 V171 M402.59 16 V171 M407.23 16 V171 M411.88 16 V171 M416.52 16 V171 M421.17 16 V171 M425.82 16 V171 M430.46 16 V171 M435.11 16 V171 M439.75 16 V171 M444.40 16 V171 M449.05 16 V171 M453.69 16 V171 M458.34 16 V171 M462.98 16 V171 M467.63 16 V171 M472.27 16 V171 M476.92 16 V171 M481.57 16 V171 M486.21 16 V171 M490.86 16 V171 M495.50 16 V171 M500.15 16 V171 M504.80 16 V171 M509.44 16 V171 M514.09 16 V171 M518.73 16 V171 M523.38 16 V171 M528.02 16 V171 M532.67 16 V171 M537.32 16 V171 M541.96 16 V171 M546.61 16 V171 M551.25 16 V171 M555.90 16 V171 M333 47.10 H556 M333 78.30 H556 M333 109.50 H556 M333 140.70 H556 M333 170.6 H556" stroke="#fff" stroke-opacity="0.62" stroke-width="0.9" fill="none"/>
<rect x="333.5" y="15.5" width="223" height="156" fill="none" stroke="#505050" stroke-width="1.0"/>
<path d="M330.0 31.5 H333.0 M330.0 62.5 H333.0 M330.0 93.5 H333.0 M330.0 124.5 H333.0 M330.0 155.5 H333.0 M335.50 172 V175 M354.12 172 V175 M372.73 172 V175 M391.35 172 V175 M409.96 172 V175 M428.58 172 V175 M447.20 172 V175 M465.81 172 V175 M484.43 172 V175 M503.04 172 V175 M521.66 172 V175 M540.28 172 V175" stroke="#555" stroke-width="1" fill="none"/>
<text x="311.4" y="30.0" font-size="13" fill="#111">(b)</text>
<rect x="78.00" y="193.5" width="4.70" height="31.2" fill="#ffa1a1"/>
<rect x="82.65" y="193.5" width="4.70" height="31.2" fill="#ff7a7a"/>
<rect x="87.29" y="193.5" width="4.70" height="31.2" fill="#ff8a8a"/>
<rect x="91.94" y="193.5" width="4.70" height="31.2" fill="#ff7575"/>
<rect x="96.58" y="193.5" width="4.70" height="31.2" fill="#ffb0b0"/>
<rect x="101.23" y="193.5" width="4.70" height="31.2" fill="#fff0f0"/>
<rect x="105.88" y="193.5" width="4.70" height="31.2" fill="#fff0f0"/>
<rect x="110.52" y="193.5" width="4.70" height="31.2" fill="#ffd6d6"/>
<rect x="115.17" y="193.5" width="4.70" height="31.2" fill="#ffe0e0"/>
<rect x="119.81" y="193.5" width="4.70" height="31.2" fill="#fafaff"/>
<rect x="124.46" y="193.5" width="4.70" height="31.2" fill="#ffebeb"/>
<rect x="129.10" y="193.5" width="4.70" height="31.2" fill="#ffcccc"/>
<rect x="133.75" y="193.5" width="4.70" height="31.2" fill="#ffbaba"/>
<rect x="138.40" y="193.5" width="4.70" height="31.2" fill="#ff9191"/>
<rect x="143.04" y="193.5" width="4.70" height="31.2" fill="#ff7a7a"/>
<rect x="147.69" y="193.5" width="4.70" height="31.2" fill="#ff6e6e"/>
<rect x="152.33" y="193.5" width="4.70" height="31.2" fill="#ff8c8c"/>
<rect x="156.98" y="193.5" width="4.70" height="31.2" fill="#ff9696"/>
<rect x="161.62" y="193.5" width="4.70" height="31.2" fill="#ff9696"/>
<rect x="166.27" y="193.5" width="4.70" height="31.2" fill="#ff9c9c"/>
<rect x="170.92" y="193.5" width="4.70" height="31.2" fill="#ff6969"/>
<rect x="175.56" y="193.5" width="4.70" height="31.2" fill="#ff6e6e"/>
<rect x="180.21" y="193.5" width="4.70" height="31.2" fill="#ff6969"/>
<rect x="184.85" y="193.5" width="4.70" height="31.2" fill="#ff7373"/>
<rect x="189.50" y="193.5" width="4.70" height="31.2" fill="#ff9696"/>
<rect x="194.15" y="193.5" width="4.70" height="31.2" fill="#ff9191"/>
<rect x="198.79" y="193.5" width="4.70" height="31.2" fill="#ff9696"/>
<rect x="203.44" y="193.5" width="4.70" height="31.2" fill="#ff9191"/>
<rect x="208.08" y="193.5" width="4.70" height="31.2" fill="#ff9c9c"/>
<rect x="212.73" y="193.5" width="4.70" height="31.2" fill="#ffa6a6"/>
<rect x="217.38" y="193.5" width="4.70" height="31.2" fill="#ff9696"/>
<rect x="222.02" y="193.5" width="4.70" height="31.2" fill="#ff9696"/>
<rect x="226.67" y="193.5" width="4.70" height="31.2" fill="#ff9696"/>
<rect x="231.31" y="193.5" width="4.70" height="31.2" fill="#ffa1a1"/>
<rect x="235.96" y="193.5" width="4.70" height="31.2" fill="#ff8787"/>
<rect x="240.60" y="193.5" width="4.70" height="31.2" fill="#ff8c8c"/>
<rect x="245.25" y="193.5" width="4.70" height="31.2" fill="#ffa6a6"/>
<rect x="249.90" y="193.5" width="4.70" height="31.2" fill="#ff9999"/>
<rect x="254.54" y="193.5" width="4.70" height="31.2" fill="#ffa6a6"/>
<rect x="259.19" y="193.5" width="4.70" height="31.2" fill="#ff8c8c"/>
<rect x="263.83" y="193.5" width="4.70" height="31.2" fill="#ffe6e6"/>
<rect x="268.48" y="193.5" width="4.70" height="31.2" fill="#fff2f2"/>
<rect x="273.12" y="193.5" width="4.70" height="31.2" fill="#ffcccc"/>
<rect x="277.77" y="193.5" width="4.70" height="31.2" fill="#ffc7c7"/>
<rect x="282.42" y="193.5" width="4.70" height="31.2" fill="#ffd1d1"/>
<rect x="287.06" y="193.5" width="4.70" height="31.2" fill="#ffc2c2"/>
<rect x="291.71" y="193.5" width="4.70" height="31.2" fill="#ffd1d1"/>
<rect x="296.35" y="193.5" width="4.70" height="31.2" fill="#ffd1d1"/>
<rect x="78.00" y="224.7" width="4.70" height="31.2" fill="#ffa6a6"/>
<rect x="82.65" y="224.7" width="4.70" height="31.2" fill="#ff7a7a"/>
<rect x="87.29" y="224.7" width="4.70" height="31.2" fill="#ff8f8f"/>
<rect x="91.94" y="224.7" width="4.70" height="31.2" fill="#ff6e6e"/>
<rect x="96.58" y="224.7" width="4.70" height="31.2" fill="#ffc2c2"/>
<rect x="101.23" y="224.7" width="4.70" height="31.2" fill="#ffdbdb"/>
<rect x="105.88" y="224.7" width="4.70" height="31.2" fill="#ffe0e0"/>
<rect x="110.52" y="224.7" width="4.70" height="31.2" fill="#ffcccc"/>
<rect x="115.17" y="224.7" width="4.70" height="31.2" fill="#ffd6d6"/>
<rect x="119.81" y="224.7" width="4.70" height="31.2" fill="#fcfcff"/>
<rect x="124.46" y="224.7" width="4.70" height="31.2" fill="#ffe6e6"/>
<rect x="129.10" y="224.7" width="4.70" height="31.2" fill="#ffc7c7"/>
<rect x="133.75" y="224.7" width="4.70" height="31.2" fill="#ffbaba"/>
<rect x="138.40" y="224.7" width="4.70" height="31.2" fill="#ff9c9c"/>
<rect x="143.04" y="224.7" width="4.70" height="31.2" fill="#ff8080"/>
<rect x="147.69" y="224.7" width="4.70" height="31.2" fill="#ff7878"/>
<rect x="152.33" y="224.7" width="4.70" height="31.2" fill="#ff8c8c"/>
<rect x="156.98" y="224.7" width="4.70" height="31.2" fill="#ff9696"/>
<rect x="161.62" y="224.7" width="4.70" height="31.2" fill="#ffa1a1"/>
<rect x="166.27" y="224.7" width="4.70" height="31.2" fill="#ff9191"/>
<rect x="170.92" y="224.7" width="4.70" height="31.2" fill="#ff7373"/>
<rect x="175.56" y="224.7" width="4.70" height="31.2" fill="#ff6e6e"/>
<rect x="180.21" y="224.7" width="4.70" height="31.2" fill="#ff6969"/>
<rect x="184.85" y="224.7" width="4.70" height="31.2" fill="#ff6e6e"/>
<rect x="189.50" y="224.7" width="4.70" height="31.2" fill="#ff8787"/>
<rect x="194.15" y="224.7" width="4.70" height="31.2" fill="#ff7a7a"/>
<rect x="198.79" y="224.7" width="4.70" height="31.2" fill="#ff8585"/>
<rect x="203.44" y="224.7" width="4.70" height="31.2" fill="#ff8a8a"/>
<rect x="208.08" y="224.7" width="4.70" height="31.2" fill="#ff8c8c"/>
<rect x="212.73" y="224.7" width="4.70" height="31.2" fill="#ff9191"/>
<rect x="217.38" y="224.7" width="4.70" height="31.2" fill="#ff7d7d"/>
<rect x="222.02" y="224.7" width="4.70" height="31.2" fill="#ff8282"/>
<rect x="226.67" y="224.7" width="4.70" height="31.2" fill="#ff8c8c"/>
<rect x="231.31" y="224.7" width="4.70" height="31.2" fill="#ff8282"/>
<rect x="235.96" y="224.7" width="4.70" height="31.2" fill="#ff6666"/>
<rect x="240.60" y="224.7" width="4.70" height="31.2" fill="#ff7878"/>
<rect x="245.25" y="224.7" width="4.70" height="31.2" fill="#ff7a7a"/>
<rect x="249.90" y="224.7" width="4.70" height="31.2" fill="#ff8080"/>
<rect x="254.54" y="224.7" width="4.70" height="31.2" fill="#ff7d7d"/>
<rect x="259.19" y="224.7" width="4.70" height="31.2" fill="#ff6666"/>
<rect x="263.83" y="224.7" width="4.70" height="31.2" fill="#ffc2c2"/>
<rect x="268.48" y="224.7" width="4.70" height="31.2" fill="#ffbaba"/>
<rect x="273.12" y="224.7" width="4.70" height="31.2" fill="#ffbaba"/>
<rect x="277.77" y="224.7" width="4.70" height="31.2" fill="#ffb0b0"/>
<rect x="282.42" y="224.7" width="4.70" height="31.2" fill="#ffb5b5"/>
<rect x="287.06" y="224.7" width="4.70" height="31.2" fill="#ffb0b0"/>
<rect x="291.71" y="224.7" width="4.70" height="31.2" fill="#ffb5b5"/>
<rect x="296.35" y="224.7" width="4.70" height="31.2" fill="#ffbaba"/>
<rect x="78.00" y="255.9" width="4.70" height="31.2" fill="#ff5252"/>
<rect x="82.65" y="255.9" width="4.70" height="31.2" fill="#ff4747"/>
<rect x="87.29" y="255.9" width="4.70" height="31.2" fill="#ff8080"/>
<rect x="91.94" y="255.9" width="4.70" height="31.2" fill="#ff5959"/>
<rect x="96.58" y="255.9" width="4.70" height="31.2" fill="#ff6666"/>
<rect x="101.23" y="255.9" width="4.70" height="31.2" fill="#ffb5b5"/>
<rect x="105.88" y="255.9" width="4.70" height="31.2" fill="#ffb0b0"/>
<rect x="110.52" y="255.9" width="4.70" height="31.2" fill="#ffabab"/>
<rect x="115.17" y="255.9" width="4.70" height="31.2" fill="#ffb0b0"/>
<rect x="119.81" y="255.9" width="4.70" height="31.2" fill="#fff5f5"/>
<rect x="124.46" y="255.9" width="4.70" height="31.2" fill="#ffd6d6"/>
<rect x="129.10" y="255.9" width="4.70" height="31.2" fill="#ffc2c2"/>
<rect x="133.75" y="255.9" width="4.70" height="31.2" fill="#ffbfbf"/>
<rect x="138.40" y="255.9" width="4.70" height="31.2" fill="#ffa1a1"/>
<rect x="143.04" y="255.9" width="4.70" height="31.2" fill="#ff6666"/>
<rect x="147.69" y="255.9" width="4.70" height="31.2" fill="#ff6666"/>
<rect x="152.33" y="255.9" width="4.70" height="31.2" fill="#ff7373"/>
<rect x="156.98" y="255.9" width="4.70" height="31.2" fill="#ff7878"/>
<rect x="161.62" y="255.9" width="4.70" height="31.2" fill="#ff6969"/>
<rect x="166.27" y="255.9" width="4.70" height="31.2" fill="#ff6666"/>
<rect x="170.92" y="255.9" width="4.70" height="31.2" fill="#ff6e6e"/>
<rect x="175.56" y="255.9" width="4.70" height="31.2" fill="#ff6e6e"/>
<rect x="180.21" y="255.9" width="4.70" height="31.2" fill="#ff6666"/>
<rect x="184.85" y="255.9" width="4.70" height="31.2" fill="#ff6666"/>
<rect x="189.50" y="255.9" width="4.70" height="31.2" fill="#ff6666"/>
<rect x="194.15" y="255.9" width="4.70" height="31.2" fill="#ff7373"/>
<rect x="198.79" y="255.9" width="4.70" height="31.2" fill="#ff6666"/>
<rect x="203.44" y="255.9" width="4.70" height="31.2" fill="#ff6666"/>
<rect x="208.08" y="255.9" width="4.70" height="31.2" fill="#ff8080"/>
<rect x="212.73" y="255.9" width="4.70" height="31.2" fill="#ff8282"/>
<rect x="217.38" y="255.9" width="4.70" height="31.2" fill="#ff7373"/>
<rect x="222.02" y="255.9" width="4.70" height="31.2" fill="#ff6666"/>
<rect x="226.67" y="255.9" width="4.70" height="31.2" fill="#ff7373"/>
<rect x="231.31" y="255.9" width="4.70" height="31.2" fill="#ff5252"/>
<rect x="235.96" y="255.9" width="4.70" height="31.2" fill="#ff6666"/>
<rect x="240.60" y="255.9" width="4.70" height="31.2" fill="#ff6e6e"/>
<rect x="245.25" y="255.9" width="4.70" height="31.2" fill="#ff5959"/>
<rect x="249.90" y="255.9" width="4.70" height="31.2" fill="#ff5252"/>
<rect x="254.54" y="255.9" width="4.70" height="31.2" fill="#ff5959"/>
<rect x="259.19" y="255.9" width="4.70" height="31.2" fill="#ff5252"/>
<rect x="263.83" y="255.9" width="4.70" height="31.2" fill="#ffd6d6"/>
<rect x="268.48" y="255.9" width="4.70" height="31.2" fill="#ffc7c7"/>
<rect x="273.12" y="255.9" width="4.70" height="31.2" fill="#ffb0b0"/>
<rect x="277.77" y="255.9" width="4.70" height="31.2" fill="#ffa6a6"/>
<rect x="282.42" y="255.9" width="4.70" height="31.2" fill="#ffbfbf"/>
<rect x="287.06" y="255.9" width="4.70" height="31.2" fill="#ffb2b2"/>
<rect x="291.71" y="255.9" width="4.70" height="31.2" fill="#ffb2b2"/>
<rect x="296.35" y="255.9" width="4.70" height="31.2" fill="#ffbfbf"/>
<rect x="78.00" y="287.1" width="4.70" height="31.2" fill="#ff5959"/>
<rect x="82.65" y="287.1" width="4.70" height="31.2" fill="#ff5454"/>
<rect x="87.29" y="287.1" width="4.70" height="31.2" fill="#ff6e6e"/>
<rect x="91.94" y="287.1" width="4.70" height="31.2" fill="#ffbaba"/>
<rect x="96.58" y="287.1" width="4.70" height="31.2" fill="#ff9696"/>
<rect x="101.23" y="287.1" width="4.70" height="31.2" fill="#ffabab"/>
<rect x="105.88" y="287.1" width="4.70" height="31.2" fill="#ffb0b0"/>
<rect x="110.52" y="287.1" width="4.70" height="31.2" fill="#ffa1a1"/>
<rect x="115.17" y="287.1" width="4.70" height="31.2" fill="#ffa6a6"/>
<rect x="119.81" y="287.1" width="4.70" height="31.2" fill="#fff5f5"/>
<rect x="124.46" y="287.1" width="4.70" height="31.2" fill="#ffebeb"/>
<rect x="129.10" y="287.1" width="4.70" height="31.2" fill="#ffc2c2"/>
<rect x="133.75" y="287.1" width="4.70" height="31.2" fill="#ffc7c7"/>
<rect x="138.40" y="287.1" width="4.70" height="31.2" fill="#ffabab"/>
<rect x="143.04" y="287.1" width="4.70" height="31.2" fill="#ff6666"/>
<rect x="147.69" y="287.1" width="4.70" height="31.2" fill="#ff5e5e"/>
<rect x="152.33" y="287.1" width="4.70" height="31.2" fill="#ff6666"/>
<rect x="156.98" y="287.1" width="4.70" height="31.2" fill="#ff6666"/>
<rect x="161.62" y="287.1" width="4.70" height="31.2" fill="#ff5959"/>
<rect x="166.27" y="287.1" width="4.70" height="31.2" fill="#ff6666"/>
<rect x="170.92" y="287.1" width="4.70" height="31.2" fill="#ff4d4d"/>
<rect x="175.56" y="287.1" width="4.70" height="31.2" fill="#ff5252"/>
<rect x="180.21" y="287.1" width="4.70" height="31.2" fill="#ff6666"/>
<rect x="184.85" y="287.1" width="4.70" height="31.2" fill="#ff5959"/>
<rect x="189.50" y="287.1" width="4.70" height="31.2" fill="#ff5959"/>
<rect x="194.15" y="287.1" width="4.70" height="31.2" fill="#ff6666"/>
<rect x="198.79" y="287.1" width="4.70" height="31.2" fill="#ff6e6e"/>
<rect x="203.44" y="287.1" width="4.70" height="31.2" fill="#ff6666"/>
<rect x="208.08" y="287.1" width="4.70" height="31.2" fill="#ff6666"/>
<rect x="212.73" y="287.1" width="4.70" height="31.2" fill="#ff7878"/>
<rect x="217.38" y="287.1" width="4.70" height="31.2" fill="#ff6666"/>
<rect x="222.02" y="287.1" width="4.70" height="31.2" fill="#ff7373"/>
<rect x="226.67" y="287.1" width="4.70" height="31.2" fill="#ff6666"/>
<rect x="231.31" y="287.1" width="4.70" height="31.2" fill="#ff3d3d"/>
<rect x="235.96" y="287.1" width="4.70" height="31.2" fill="#ff5252"/>
<rect x="240.60" y="287.1" width="4.70" height="31.2" fill="#ff5959"/>
<rect x="245.25" y="287.1" width="4.70" height="31.2" fill="#ff3d3d"/>
<rect x="249.90" y="287.1" width="4.70" height="31.2" fill="#ff3d3d"/>
<rect x="254.54" y="287.1" width="4.70" height="31.2" fill="#ff4747"/>
<rect x="259.19" y="287.1" width="4.70" height="31.2" fill="#ff7878"/>
<rect x="263.83" y="287.1" width="4.70" height="31.2" fill="#ffc2c2"/>
<rect x="268.48" y="287.1" width="4.70" height="31.2" fill="#ffbfbf"/>
<rect x="273.12" y="287.1" width="4.70" height="31.2" fill="#ffabab"/>
<rect x="277.77" y="287.1" width="4.70" height="31.2" fill="#ff9c9c"/>
<rect x="282.42" y="287.1" width="4.70" height="31.2" fill="#ffb0b0"/>
<rect x="287.06" y="287.1" width="4.70" height="31.2" fill="#ffb5b5"/>
<rect x="291.71" y="287.1" width="4.70" height="31.2" fill="#ffa6a6"/>
<rect x="296.35" y="287.1" width="4.70" height="31.2" fill="#ffb5b5"/>
<rect x="78.00" y="318.3" width="4.70" height="31.2" fill="#ffd6d6"/>
<rect x="82.65" y="318.3" width="4.70" height="31.2" fill="#ff7a7a"/>
<rect x="87.29" y="318.3" width="4.70" height="31.2" fill="#ff8c8c"/>
<rect x="91.94" y="318.3" width="4.70" height="31.2" fill="#ffabab"/>
<rect x="96.58" y="318.3" width="4.70" height="31.2" fill="#ff8c8c"/>
<rect x="101.23" y="318.3" width="4.70" height="31.2" fill="#ffa1a1"/>
<rect x="105.88" y="318.3" width="4.70" height="31.2" fill="#ffa6a6"/>
<rect x="110.52" y="318.3" width="4.70" height="31.2" fill="#ffa1a1"/>
<rect x="115.17" y="318.3" width="4.70" height="31.2" fill="#ffc7c7"/>
<rect x="119.81" y="318.3" width="4.70" height="31.2" fill="#ffebeb"/>
<rect x="124.46" y="318.3" width="4.70" height="31.2" fill="#ffdbdb"/>
<rect x="129.10" y="318.3" width="4.70" height="31.2" fill="#ffb5b5"/>
<rect x="133.75" y="318.3" width="4.70" height="31.2" fill="#ffbaba"/>
<rect x="138.40" y="318.3" width="4.70" height="31.2" fill="#ffabab"/>
<rect x="143.04" y="318.3" width="4.70" height="31.2" fill="#ff8787"/>
<rect x="147.69" y="318.3" width="4.70" height="31.2" fill="#ff7878"/>
<rect x="152.33" y="318.3" width="4.70" height="31.2" fill="#ff6666"/>
<rect x="156.98" y="318.3" width="4.70" height="31.2" fill="#ff6666"/>
<rect x="161.62" y="318.3" width="4.70" height="31.2" fill="#ff6e6e"/>
<rect x="166.27" y="318.3" width="4.70" height="31.2" fill="#ff6666"/>
<rect x="170.92" y="318.3" width="4.70" height="31.2" fill="#ff5252"/>
<rect x="175.56" y="318.3" width="4.70" height="31.2" fill="#ff3d3d"/>
<rect x="180.21" y="318.3" width="4.70" height="31.2" fill="#ff2929"/>
<rect x="184.85" y="318.3" width="4.70" height="31.2" fill="#ff3333"/>
<rect x="189.50" y="318.3" width="4.70" height="31.2" fill="#ff2929"/>
<rect x="194.15" y="318.3" width="4.70" height="31.2" fill="#ff3d3d"/>
<rect x="198.79" y="318.3" width="4.70" height="31.2" fill="#ff4747"/>
<rect x="203.44" y="318.3" width="4.70" height="31.2" fill="#ff5252"/>
<rect x="208.08" y="318.3" width="4.70" height="31.2" fill="#ff5252"/>
<rect x="212.73" y="318.3" width="4.70" height="31.2" fill="#ff5959"/>
<rect x="217.38" y="318.3" width="4.70" height="31.2" fill="#ff5959"/>
<rect x="222.02" y="318.3" width="4.70" height="31.2" fill="#ff6666"/>
<rect x="226.67" y="318.3" width="4.70" height="31.2" fill="#ff6e6e"/>
<rect x="231.31" y="318.3" width="4.70" height="31.2" fill="#ff3d3d"/>
<rect x="235.96" y="318.3" width="4.70" height="31.2" fill="#ff5252"/>
<rect x="240.60" y="318.3" width="4.70" height="31.2" fill="#ff4d4d"/>
<rect x="245.25" y="318.3" width="4.70" height="31.2" fill="#ff5252"/>
<rect x="249.90" y="318.3" width="4.70" height="31.2" fill="#ff4d4d"/>
<rect x="254.54" y="318.3" width="4.70" height="31.2" fill="#ff6666"/>
<rect x="259.19" y="318.3" width="4.70" height="31.2" fill="#ff9c9c"/>
<rect x="263.83" y="318.3" width="4.70" height="31.2" fill="#ff8c8c"/>
<rect x="268.48" y="318.3" width="4.70" height="31.2" fill="#ffa1a1"/>
<rect x="273.12" y="318.3" width="4.70" height="31.2" fill="#ffabab"/>
<rect x="277.77" y="318.3" width="4.70" height="31.2" fill="#ff9696"/>
<rect x="282.42" y="318.3" width="4.70" height="31.2" fill="#ff9696"/>
<rect x="287.06" y="318.3" width="4.70" height="31.2" fill="#ff9696"/>
<rect x="291.71" y="318.3" width="4.70" height="31.2" fill="#ff9696"/>
<rect x="296.35" y="318.3" width="4.70" height="31.2" fill="#ffa6a6"/>
<path d="M82.55 194 V349 M87.19 194 V349 M91.84 194 V349 M96.48 194 V349 M101.13 194 V349 M105.78 194 V349 M110.42 194 V349 M115.07 194 V349 M119.71 194 V349 M124.36 194 V349 M129.00 194 V349 M133.65 194 V349 M138.30 194 V349 M142.94 194 V349 M147.59 194 V349 M152.23 194 V349 M156.88 194 V349 M161.53 194 V349 M166.17 194 V349 M170.82 194 V349 M175.46 194 V349 M180.11 194 V349 M184.75 194 V349 M189.40 194 V349 M194.05 194 V349 M198.69 194 V349 M203.34 194 V349 M207.98 194 V349 M212.63 194 V349 M217.28 194 V349 M221.92 194 V349 M226.57 194 V349 M231.21 194 V349 M235.86 194 V349 M240.50 194 V349 M245.15 194 V349 M249.80 194 V349 M254.44 194 V349 M259.09 194 V349 M263.73 194 V349 M268.38 194 V349 M273.02 194 V349 M277.67 194 V349 M282.32 194 V349 M286.96 194 V349 M291.61 194 V349 M296.25 194 V349 M300.90 194 V349 M78 225.10 H301 M78 256.30 H301 M78 287.50 H301 M78 318.70 H301 M78 348.6 H301" stroke="#fff" stroke-opacity="0.62" stroke-width="0.9" fill="none"/>
<rect x="78.5" y="193.5" width="223" height="156" fill="none" stroke="#505050" stroke-width="1.0"/>
<path d="M75.0 209.5 H78.0 M75.0 240.5 H78.0 M75.0 271.5 H78.0 M75.0 302.5 H78.0 M75.0 333.5 H78.0 M80.50 350 V353 M99.12 350 V353 M117.73 350 V353 M136.35 350 V353 M154.96 350 V353 M173.58 350 V353 M192.20 350 V353 M210.81 350 V353 M229.43 350 V353 M248.04 350 V353 M266.66 350 V353 M285.28 350 V353" stroke="#555" stroke-width="1" fill="none"/>
<text x="73.0" y="212.0" text-anchor="end" font-size="10" fill="#1a1a1a">curr.sep</text>
<text x="73.0" y="243.0" text-anchor="end" font-size="10" fill="#1a1a1a">curr.aug</text>
<text x="73.0" y="274.0" text-anchor="end" font-size="10" fill="#1a1a1a">curr.jul</text>
<text x="73.0" y="305.0" text-anchor="end" font-size="10" fill="#1a1a1a">curr.jun</text>
<text x="73.0" y="336.0" text-anchor="end" font-size="10" fill="#1a1a1a">curr.may</text>
<text x="15.4" y="205.8" font-size="13" fill="#111">(c)</text>
<rect x="333.00" y="193.5" width="4.70" height="31.2" fill="#fff0f0"/>
<rect x="337.65" y="193.5" width="4.70" height="31.2" fill="#fff0f0"/>
<rect x="342.29" y="193.5" width="4.70" height="31.2" fill="#ffd6d6"/>
<rect x="346.94" y="193.5" width="4.70" height="31.2" fill="#ffd6d6"/>
<rect x="351.58" y="193.5" width="4.70" height="31.2" fill="#ffd1d1"/>
<rect x="356.23" y="193.5" width="4.70" height="31.2" fill="#ffc2c2"/>
<rect x="360.88" y="193.5" width="4.70" height="31.2" fill="#ffb0b0"/>
<rect x="365.52" y="193.5" width="4.70" height="31.2" fill="#ffabab"/>
<rect x="370.17" y="193.5" width="4.70" height="31.2" fill="#ffa1a1"/>
<rect x="374.81" y="193.5" width="4.70" height="31.2" fill="#ff9696"/>
<rect x="379.46" y="193.5" width="4.70" height="31.2" fill="#ffa1a1"/>
<rect x="384.10" y="193.5" width="4.70" height="31.2" fill="#ff9696"/>
<rect x="388.75" y="193.5" width="4.70" height="31.2" fill="#ffabab"/>
<rect x="393.40" y="193.5" width="4.70" height="31.2" fill="#ff8282"/>
<rect x="398.04" y="193.5" width="4.70" height="31.2" fill="#ff5252"/>
<rect x="402.69" y="193.5" width="4.70" height="31.2" fill="#ff2929"/>
<rect x="407.33" y="193.5" width="4.70" height="31.2" fill="#ff6666"/>
<rect x="411.98" y="193.5" width="4.70" height="31.2" fill="#ff6e6e"/>
<rect x="416.62" y="193.5" width="4.70" height="31.2" fill="#ff6666"/>
<rect x="421.27" y="193.5" width="4.70" height="31.2" fill="#ff6e6e"/>
<rect x="425.92" y="193.5" width="4.70" height="31.2" fill="#ff5959"/>
<rect x="430.56" y="193.5" width="4.70" height="31.2" fill="#ff5252"/>
<rect x="435.21" y="193.5" width="4.70" height="31.2" fill="#ff6666"/>
<rect x="439.85" y="193.5" width="4.70" height="31.2" fill="#ff5959"/>
<rect x="444.50" y="193.5" width="4.70" height="31.2" fill="#ff5959"/>
<rect x="449.15" y="193.5" width="4.70" height="31.2" fill="#ff5e5e"/>
<rect x="453.79" y="193.5" width="4.70" height="31.2" fill="#ff5454"/>
<rect x="458.44" y="193.5" width="4.70" height="31.2" fill="#ff6666"/>
<rect x="463.08" y="193.5" width="4.70" height="31.2" fill="#ff6e6e"/>
<rect x="467.73" y="193.5" width="4.70" height="31.2" fill="#ff6e6e"/>
<rect x="472.38" y="193.5" width="4.70" height="31.2" fill="#ff8282"/>
<rect x="477.02" y="193.5" width="4.70" height="31.2" fill="#ff9696"/>
<rect x="481.67" y="193.5" width="4.70" height="31.2" fill="#ff9191"/>
<rect x="486.31" y="193.5" width="4.70" height="31.2" fill="#ffb0b0"/>
<rect x="490.96" y="193.5" width="4.70" height="31.2" fill="#ff9c9c"/>
<rect x="495.60" y="193.5" width="4.70" height="31.2" fill="#ff9c9c"/>
<rect x="500.25" y="193.5" width="4.70" height="31.2" fill="#ff9999"/>
<rect x="504.90" y="193.5" width="4.70" height="31.2" fill="#ff8585"/>
<rect x="509.54" y="193.5" width="4.70" height="31.2" fill="#ff9999"/>
<rect x="514.19" y="193.5" width="4.70" height="31.2" fill="#ff8080"/>
<rect x="518.83" y="193.5" width="4.70" height="31.2" fill="#ffa1a1"/>
<rect x="523.48" y="193.5" width="4.70" height="31.2" fill="#ff9696"/>
<rect x="528.12" y="193.5" width="4.70" height="31.2" fill="#ff8585"/>
<rect x="532.77" y="193.5" width="4.70" height="31.2" fill="#ff8080"/>
<rect x="537.42" y="193.5" width="4.70" height="31.2" fill="#ff9696"/>
<rect x="542.06" y="193.5" width="4.70" height="31.2" fill="#ff8c8c"/>
<rect x="546.71" y="193.5" width="4.70" height="31.2" fill="#ff9999"/>
<rect x="551.35" y="193.5" width="4.70" height="31.2" fill="#ffb2b2"/>
<rect x="333.00" y="224.7" width="4.70" height="31.2" fill="#fff7f7"/>
<rect x="337.65" y="224.7" width="4.70" height="31.2" fill="#fffafa"/>
<rect x="342.29" y="224.7" width="4.70" height="31.2" fill="#ffe0e0"/>
<rect x="346.94" y="224.7" width="4.70" height="31.2" fill="#ffe0e0"/>
<rect x="351.58" y="224.7" width="4.70" height="31.2" fill="#ffdbdb"/>
<rect x="356.23" y="224.7" width="4.70" height="31.2" fill="#ffd6d6"/>
<rect x="360.88" y="224.7" width="4.70" height="31.2" fill="#ffc7c7"/>
<rect x="365.52" y="224.7" width="4.70" height="31.2" fill="#ffc7c7"/>
<rect x="370.17" y="224.7" width="4.70" height="31.2" fill="#ffbfbf"/>
<rect x="374.81" y="224.7" width="4.70" height="31.2" fill="#ffbaba"/>
<rect x="379.46" y="224.7" width="4.70" height="31.2" fill="#ffb5b5"/>
<rect x="384.10" y="224.7" width="4.70" height="31.2" fill="#ffb0b0"/>
<rect x="388.75" y="224.7" width="4.70" height="31.2" fill="#ffb5b5"/>
<rect x="393.40" y="224.7" width="4.70" height="31.2" fill="#ff9c9c"/>
<rect x="398.04" y="224.7" width="4.70" height="31.2" fill="#ff5959"/>
<rect x="402.69" y="224.7" width="4.70" height="31.2" fill="#ff4747"/>
<rect x="407.33" y="224.7" width="4.70" height="31.2" fill="#ff6666"/>
<rect x="411.98" y="224.7" width="4.70" height="31.2" fill="#ff6e6e"/>
<rect x="416.62" y="224.7" width="4.70" height="31.2" fill="#ff6969"/>
<rect x="421.27" y="224.7" width="4.70" height="31.2" fill="#ff6e6e"/>
<rect x="425.92" y="224.7" width="4.70" height="31.2" fill="#ff6666"/>
<rect x="430.56" y="224.7" width="4.70" height="31.2" fill="#ff5959"/>
<rect x="435.21" y="224.7" width="4.70" height="31.2" fill="#ff6666"/>
<rect x="439.85" y="224.7" width="4.70" height="31.2" fill="#ff6666"/>
<rect x="444.50" y="224.7" width="4.70" height="31.2" fill="#ff2929"/>
<rect x="449.15" y="224.7" width="4.70" height="31.2" fill="#ff3333"/>
<rect x="453.79" y="224.7" width="4.70" height="31.2" fill="#ff5252"/>
<rect x="458.44" y="224.7" width="4.70" height="31.2" fill="#ff5959"/>
<rect x="463.08" y="224.7" width="4.70" height="31.2" fill="#ff6e6e"/>
<rect x="467.73" y="224.7" width="4.70" height="31.2" fill="#ff7878"/>
<rect x="472.38" y="224.7" width="4.70" height="31.2" fill="#ff7878"/>
<rect x="477.02" y="224.7" width="4.70" height="31.2" fill="#ff8c8c"/>
<rect x="481.67" y="224.7" width="4.70" height="31.2" fill="#ff9696"/>
<rect x="486.31" y="224.7" width="4.70" height="31.2" fill="#ff6666"/>
<rect x="490.96" y="224.7" width="4.70" height="31.2" fill="#ff6e6e"/>
<rect x="495.60" y="224.7" width="4.70" height="31.2" fill="#ff7878"/>
<rect x="500.25" y="224.7" width="4.70" height="31.2" fill="#ff6666"/>
<rect x="504.90" y="224.7" width="4.70" height="31.2" fill="#ff6e6e"/>
<rect x="509.54" y="224.7" width="4.70" height="31.2" fill="#ff7878"/>
<rect x="514.19" y="224.7" width="4.70" height="31.2" fill="#ff6969"/>
<rect x="518.83" y="224.7" width="4.70" height="31.2" fill="#ff7878"/>
<rect x="523.48" y="224.7" width="4.70" height="31.2" fill="#ff6e6e"/>
<rect x="528.12" y="224.7" width="4.70" height="31.2" fill="#ff6666"/>
<rect x="532.77" y="224.7" width="4.70" height="31.2" fill="#ff7373"/>
<rect x="537.42" y="224.7" width="4.70" height="31.2" fill="#ff6e6e"/>
<rect x="542.06" y="224.7" width="4.70" height="31.2" fill="#ff7878"/>
<rect x="546.71" y="224.7" width="4.70" height="31.2" fill="#ff8080"/>
<rect x="551.35" y="224.7" width="4.70" height="31.2" fill="#ff7878"/>
<rect x="333.00" y="255.9" width="4.70" height="31.2" fill="#ffa6a6"/>
<rect x="337.65" y="255.9" width="4.70" height="31.2" fill="#ffa1a1"/>
<rect x="342.29" y="255.9" width="4.70" height="31.2" fill="#ffa6a6"/>
<rect x="346.94" y="255.9" width="4.70" height="31.2" fill="#ffa1a1"/>
<rect x="351.58" y="255.9" width="4.70" height="31.2" fill="#ffa1a1"/>
<rect x="356.23" y="255.9" width="4.70" height="31.2" fill="#ff8c8c"/>
<rect x="360.88" y="255.9" width="4.70" height="31.2" fill="#ff8585"/>
<rect x="365.52" y="255.9" width="4.70" height="31.2" fill="#ff8c8c"/>
<rect x="370.17" y="255.9" width="4.70" height="31.2" fill="#ff8080"/>
<rect x="374.81" y="255.9" width="4.70" height="31.2" fill="#ff8c8c"/>
<rect x="379.46" y="255.9" width="4.70" height="31.2" fill="#ff8c8c"/>
<rect x="384.10" y="255.9" width="4.70" height="31.2" fill="#ff8c8c"/>
<rect x="388.75" y="255.9" width="4.70" height="31.2" fill="#ff8282"/>
<rect x="393.40" y="255.9" width="4.70" height="31.2" fill="#ff7d7d"/>
<rect x="398.04" y="255.9" width="4.70" height="31.2" fill="#ff3d3d"/>
<rect x="402.69" y="255.9" width="4.70" height="31.2" fill="#ff3333"/>
<rect x="407.33" y="255.9" width="4.70" height="31.2" fill="#ff4747"/>
<rect x="411.98" y="255.9" width="4.70" height="31.2" fill="#ff4242"/>
<rect x="416.62" y="255.9" width="4.70" height="31.2" fill="#ff5252"/>
<rect x="421.27" y="255.9" width="4.70" height="31.2" fill="#ff4747"/>
<rect x="425.92" y="255.9" width="4.70" height="31.2" fill="#ff4747"/>
<rect x="430.56" y="255.9" width="4.70" height="31.2" fill="#ff3d3d"/>
<rect x="435.21" y="255.9" width="4.70" height="31.2" fill="#ff4747"/>
<rect x="439.85" y="255.9" width="4.70" height="31.2" fill="#ff3d3d"/>
<rect x="444.50" y="255.9" width="4.70" height="31.2" fill="#ff3333"/>
<rect x="449.15" y="255.9" width="4.70" height="31.2" fill="#ff2e2e"/>
<rect x="453.79" y="255.9" width="4.70" height="31.2" fill="#ff5252"/>
<rect x="458.44" y="255.9" width="4.70" height="31.2" fill="#ff5252"/>
<rect x="463.08" y="255.9" width="4.70" height="31.2" fill="#ff5959"/>
<rect x="467.73" y="255.9" width="4.70" height="31.2" fill="#ff5454"/>
<rect x="472.38" y="255.9" width="4.70" height="31.2" fill="#ff6666"/>
<rect x="477.02" y="255.9" width="4.70" height="31.2" fill="#ff6e6e"/>
<rect x="481.67" y="255.9" width="4.70" height="31.2" fill="#ff8282"/>
<rect x="486.31" y="255.9" width="4.70" height="31.2" fill="#ff5252"/>
<rect x="490.96" y="255.9" width="4.70" height="31.2" fill="#ff5454"/>
<rect x="495.60" y="255.9" width="4.70" height="31.2" fill="#ff5959"/>
<rect x="500.25" y="255.9" width="4.70" height="31.2" fill="#ff4d4d"/>
<rect x="504.90" y="255.9" width="4.70" height="31.2" fill="#ff5252"/>
<rect x="509.54" y="255.9" width="4.70" height="31.2" fill="#ff5454"/>
<rect x="514.19" y="255.9" width="4.70" height="31.2" fill="#ff5959"/>
<rect x="518.83" y="255.9" width="4.70" height="31.2" fill="#ff5e5e"/>
<rect x="523.48" y="255.9" width="4.70" height="31.2" fill="#ff5959"/>
<rect x="528.12" y="255.9" width="4.70" height="31.2" fill="#ff6666"/>
<rect x="532.77" y="255.9" width="4.70" height="31.2" fill="#ff5e5e"/>
<rect x="537.42" y="255.9" width="4.70" height="31.2" fill="#ff6e6e"/>
<rect x="542.06" y="255.9" width="4.70" height="31.2" fill="#ff7878"/>
<rect x="546.71" y="255.9" width="4.70" height="31.2" fill="#ff8080"/>
<rect x="551.35" y="255.9" width="4.70" height="31.2" fill="#ffa1a1"/>
<rect x="333.00" y="287.1" width="4.70" height="31.2" fill="#ff9c9c"/>
<rect x="337.65" y="287.1" width="4.70" height="31.2" fill="#ff9696"/>
<rect x="342.29" y="287.1" width="4.70" height="31.2" fill="#ff9696"/>
<rect x="346.94" y="287.1" width="4.70" height="31.2" fill="#ff9191"/>
<rect x="351.58" y="287.1" width="4.70" height="31.2" fill="#ff8c8c"/>
<rect x="356.23" y="287.1" width="4.70" height="31.2" fill="#ff8a8a"/>
<rect x="360.88" y="287.1" width="4.70" height="31.2" fill="#ff7a7a"/>
<rect x="365.52" y="287.1" width="4.70" height="31.2" fill="#ff8585"/>
<rect x="370.17" y="287.1" width="4.70" height="31.2" fill="#ff7878"/>
<rect x="374.81" y="287.1" width="4.70" height="31.2" fill="#ff8282"/>
<rect x="379.46" y="287.1" width="4.70" height="31.2" fill="#ff7d7d"/>
<rect x="384.10" y="287.1" width="4.70" height="31.2" fill="#ff8282"/>
<rect x="388.75" y="287.1" width="4.70" height="31.2" fill="#ff8282"/>
<rect x="393.40" y="287.1" width="4.70" height="31.2" fill="#ff7d7d"/>
<rect x="398.04" y="287.1" width="4.70" height="31.2" fill="#ff3333"/>
<rect x="402.69" y="287.1" width="4.70" height="31.2" fill="#ff2929"/>
<rect x="407.33" y="287.1" width="4.70" height="31.2" fill="#ff3333"/>
<rect x="411.98" y="287.1" width="4.70" height="31.2" fill="#ff2929"/>
<rect x="416.62" y="287.1" width="4.70" height="31.2" fill="#ff3333"/>
<rect x="421.27" y="287.1" width="4.70" height="31.2" fill="#ff2929"/>
<rect x="425.92" y="287.1" width="4.70" height="31.2" fill="#ff1919"/>
<rect x="430.56" y="287.1" width="4.70" height="31.2" fill="#ff3333"/>
<rect x="435.21" y="287.1" width="4.70" height="31.2" fill="#ff3d3d"/>
<rect x="439.85" y="287.1" width="4.70" height="31.2" fill="#ff3333"/>
<rect x="444.50" y="287.1" width="4.70" height="31.2" fill="#ff2626"/>
<rect x="449.15" y="287.1" width="4.70" height="31.2" fill="#ff3333"/>
<rect x="453.79" y="287.1" width="4.70" height="31.2" fill="#ff3d3d"/>
<rect x="458.44" y="287.1" width="4.70" height="31.2" fill="#ff3333"/>
<rect x="463.08" y="287.1" width="4.70" height="31.2" fill="#ff4747"/>
<rect x="467.73" y="287.1" width="4.70" height="31.2" fill="#ff5252"/>
<rect x="472.38" y="287.1" width="4.70" height="31.2" fill="#ff5959"/>
<rect x="477.02" y="287.1" width="4.70" height="31.2" fill="#ff6666"/>
<rect x="481.67" y="287.1" width="4.70" height="31.2" fill="#ff7878"/>
<rect x="486.31" y="287.1" width="4.70" height="31.2" fill="#ff4d4d"/>
<rect x="490.96" y="287.1" width="4.70" height="31.2" fill="#ff4d4d"/>
<rect x="495.60" y="287.1" width="4.70" height="31.2" fill="#ff5959"/>
<rect x="500.25" y="287.1" width="4.70" height="31.2" fill="#ff2929"/>
<rect x="504.90" y="287.1" width="4.70" height="31.2" fill="#ff3d3d"/>
<rect x="509.54" y="287.1" width="4.70" height="31.2" fill="#ff4747"/>
<rect x="514.19" y="287.1" width="4.70" height="31.2" fill="#ff4747"/>
<rect x="518.83" y="287.1" width="4.70" height="31.2" fill="#ff5252"/>
<rect x="523.48" y="287.1" width="4.70" height="31.2" fill="#ff5252"/>
<rect x="528.12" y="287.1" width="4.70" height="31.2" fill="#ff3333"/>
<rect x="532.77" y="287.1" width="4.70" height="31.2" fill="#ff5252"/>
<rect x="537.42" y="287.1" width="4.70" height="31.2" fill="#ff5959"/>
<rect x="542.06" y="287.1" width="4.70" height="31.2" fill="#ff5959"/>
<rect x="546.71" y="287.1" width="4.70" height="31.2" fill="#ff7878"/>
<rect x="551.35" y="287.1" width="4.70" height="31.2" fill="#ff8585"/>
<rect x="333.00" y="318.3" width="4.70" height="31.2" fill="#ffc7c7"/>
<rect x="337.65" y="318.3" width="4.70" height="31.2" fill="#ffc7c7"/>
<rect x="342.29" y="318.3" width="4.70" height="31.2" fill="#ffd6d6"/>
<rect x="346.94" y="318.3" width="4.70" height="31.2" fill="#ffd1d1"/>
<rect x="351.58" y="318.3" width="4.70" height="31.2" fill="#ffcccc"/>
<rect x="356.23" y="318.3" width="4.70" height="31.2" fill="#ffc2c2"/>
<rect x="360.88" y="318.3" width="4.70" height="31.2" fill="#ffc7c7"/>
<rect x="365.52" y="318.3" width="4.70" height="31.2" fill="#ffbfbf"/>
<rect x="370.17" y="318.3" width="4.70" height="31.2" fill="#ffc7c7"/>
<rect x="374.81" y="318.3" width="4.70" height="31.2" fill="#ffbfbf"/>
<rect x="379.46" y="318.3" width="4.70" height="31.2" fill="#ffb0b0"/>
<rect x="384.10" y="318.3" width="4.70" height="31.2" fill="#ffabab"/>
<rect x="388.75" y="318.3" width="4.70" height="31.2" fill="#ffbfbf"/>
<rect x="393.40" y="318.3" width="4.70" height="31.2" fill="#ffb0b0"/>
<rect x="398.04" y="318.3" width="4.70" height="31.2" fill="#ff5959"/>
<rect x="402.69" y="318.3" width="4.70" height="31.2" fill="#ff4d4d"/>
<rect x="407.33" y="318.3" width="4.70" height="31.2" fill="#ff3d3d"/>
<rect x="411.98" y="318.3" width="4.70" height="31.2" fill="#ff5252"/>
<rect x="416.62" y="318.3" width="4.70" height="31.2" fill="#ff5252"/>
<rect x="421.27" y="318.3" width="4.70" height="31.2" fill="#ff4747"/>
<rect x="425.92" y="318.3" width="4.70" height="31.2" fill="#ff4747"/>
<rect x="430.56" y="318.3" width="4.70" height="31.2" fill="#ff3d3d"/>
<rect x="435.21" y="318.3" width="4.70" height="31.2" fill="#ff4747"/>
<rect x="439.85" y="318.3" width="4.70" height="31.2" fill="#ff3d3d"/>
<rect x="444.50" y="318.3" width="4.70" height="31.2" fill="#ff3d3d"/>
<rect x="449.15" y="318.3" width="4.70" height="31.2" fill="#ff3838"/>
<rect x="453.79" y="318.3" width="4.70" height="31.2" fill="#ff4747"/>
<rect x="458.44" y="318.3" width="4.70" height="31.2" fill="#ff5252"/>
<rect x="463.08" y="318.3" width="4.70" height="31.2" fill="#ff5959"/>
<rect x="467.73" y="318.3" width="4.70" height="31.2" fill="#ff6666"/>
<rect x="472.38" y="318.3" width="4.70" height="31.2" fill="#ff9191"/>
<rect x="477.02" y="318.3" width="4.70" height="31.2" fill="#ff9c9c"/>
<rect x="481.67" y="318.3" width="4.70" height="31.2" fill="#ff9696"/>
<rect x="486.31" y="318.3" width="4.70" height="31.2" fill="#ff6666"/>
<rect x="490.96" y="318.3" width="4.70" height="31.2" fill="#ff7878"/>
<rect x="495.60" y="318.3" width="4.70" height="31.2" fill="#ff6e6e"/>
<rect x="500.25" y="318.3" width="4.70" height="31.2" fill="#ff5959"/>
<rect x="504.90" y="318.3" width="4.70" height="31.2" fill="#ff6666"/>
<rect x="509.54" y="318.3" width="4.70" height="31.2" fill="#ff7373"/>
<rect x="514.19" y="318.3" width="4.70" height="31.2" fill="#ff9696"/>
<rect x="518.83" y="318.3" width="4.70" height="31.2" fill="#ff6e6e"/>
<rect x="523.48" y="318.3" width="4.70" height="31.2" fill="#ff6969"/>
<rect x="528.12" y="318.3" width="4.70" height="31.2" fill="#ff6e6e"/>
<rect x="532.77" y="318.3" width="4.70" height="31.2" fill="#ff6666"/>
<rect x="537.42" y="318.3" width="4.70" height="31.2" fill="#ff6e6e"/>
<rect x="542.06" y="318.3" width="4.70" height="31.2" fill="#ff6666"/>
<rect x="546.71" y="318.3" width="4.70" height="31.2" fill="#ff6e6e"/>
<rect x="551.35" y="318.3" width="4.70" height="31.2" fill="#ff8282"/>
<path d="M337.55 194 V349 M342.19 194 V349 M346.84 194 V349 M351.48 194 V349 M356.13 194 V349 M360.77 194 V349 M365.42 194 V349 M370.07 194 V349 M374.71 194 V349 M379.36 194 V349 M384.00 194 V349 M388.65 194 V349 M393.30 194 V349 M397.94 194 V349 M402.59 194 V349 M407.23 194 V349 M411.88 194 V349 M416.52 194 V349 M421.17 194 V349 M425.82 194 V349 M430.46 194 V349 M435.11 194 V349 M439.75 194 V349 M444.40 194 V349 M449.05 194 V349 M453.69 194 V349 M458.34 194 V349 M462.98 194 V349 M467.63 194 V349 M472.27 194 V349 M476.92 194 V349 M481.57 194 V349 M486.21 194 V349 M490.86 194 V349 M495.50 194 V349 M500.15 194 V349 M504.80 194 V349 M509.44 194 V349 M514.09 194 V349 M518.73 194 V349 M523.38 194 V349 M528.02 194 V349 M532.67 194 V349 M537.32 194 V349 M541.96 194 V349 M546.61 194 V349 M551.25 194 V349 M555.90 194 V349 M333 225.10 H556 M333 256.30 H556 M333 287.50 H556 M333 318.70 H556 M333 348.6 H556" stroke="#fff" stroke-opacity="0.62" stroke-width="0.9" fill="none"/>
<rect x="333.5" y="193.5" width="223" height="156" fill="none" stroke="#505050" stroke-width="1.0"/>
<path d="M330.0 209.5 H333.0 M330.0 240.5 H333.0 M330.0 271.5 H333.0 M330.0 302.5 H333.0 M330.0 333.5 H333.0 M335.50 350 V353 M354.12 350 V353 M372.73 350 V353 M391.35 350 V353 M409.96 350 V353 M428.58 350 V353 M447.20 350 V353 M465.81 350 V353 M484.43 350 V353 M503.04 350 V353 M521.66 350 V353 M540.28 350 V353" stroke="#555" stroke-width="1" fill="none"/>
<text x="311.4" y="204.7" font-size="13" fill="#111">(d)</text>
<path d="M151.26 33.60L151.81 31.15L150.21 31.15L150.76 33.60Z M150.76 34.60L150.21 37.05L151.81 37.05L151.26 34.60Z M150.68 33.65L148.57 31.98L147.85 33.42L150.45 34.10Z M151.57 34.10L154.17 33.42L153.45 31.98L151.35 33.65Z M150.45 34.10L147.85 34.78L148.57 36.22L150.68 34.55Z M151.35 34.55L153.45 36.22L154.17 34.78L151.57 34.10Z M160.55 33.60L161.10 31.15L159.50 31.15L160.05 33.60Z M160.05 34.60L159.50 37.05L161.10 37.05L160.55 34.60Z M159.97 33.65L157.86 31.98L157.14 33.42L159.74 34.10Z M160.86 34.10L163.46 33.42L162.74 31.98L160.64 33.65Z M159.74 34.10L157.14 34.78L157.86 36.22L159.97 34.55Z M160.64 34.55L162.74 36.22L163.46 34.78L160.86 34.10Z M165.20 33.60L165.75 31.15L164.15 31.15L164.70 33.60Z M164.70 34.60L164.15 37.05L165.75 37.05L165.20 34.60Z M164.61 33.65L162.51 31.98L161.79 33.42L164.39 34.10Z M165.51 34.10L168.11 33.42L167.39 31.98L165.28 33.65Z M164.39 34.10L161.79 34.78L162.51 36.22L164.61 34.55Z M165.28 34.55L167.39 36.22L168.11 34.78L165.51 34.10Z M169.84 33.60L170.39 31.15L168.79 31.15L169.34 33.60Z M169.34 34.60L168.79 37.05L170.39 37.05L169.84 34.60Z M169.26 33.65L167.15 31.98L166.44 33.42L169.03 34.10Z M170.15 34.10L172.75 33.42L172.04 31.98L169.93 33.65Z M169.03 34.10L166.44 34.78L167.15 36.22L169.26 34.55Z M169.93 34.55L172.04 36.22L172.75 34.78L170.15 34.10Z M174.49 33.60L175.04 31.15L173.44 31.15L173.99 33.60Z M173.99 34.60L173.44 37.05L175.04 37.05L174.49 34.60Z M173.90 33.65L171.80 31.98L171.08 33.42L173.68 34.10Z M174.80 34.10L177.40 33.42L176.68 31.98L174.57 33.65Z M173.68 34.10L171.08 34.78L171.80 36.22L173.90 34.55Z M174.57 34.55L176.68 36.22L177.40 34.78L174.80 34.10Z M179.14 33.60L179.69 31.15L178.09 31.15L178.64 33.60Z M178.64 34.60L178.09 37.05L179.69 37.05L179.14 34.60Z M178.55 33.65L176.44 31.98L175.73 33.42L178.33 34.10Z M179.44 34.10L182.04 33.42L181.33 31.98L179.22 33.65Z M178.33 34.10L175.73 34.78L176.44 36.22L178.55 34.55Z M179.22 34.55L181.33 36.22L182.04 34.78L179.44 34.10Z M183.78 33.60L184.33 31.15L182.73 31.15L183.28 33.60Z M183.28 34.60L182.73 37.05L184.33 37.05L183.78 34.60Z M183.20 33.65L181.09 31.98L180.37 33.42L182.97 34.10Z M184.09 34.10L186.69 33.42L185.97 31.98L183.87 33.65Z M182.97 34.10L180.37 34.78L181.09 36.22L183.20 34.55Z M183.87 34.55L185.97 36.22L186.69 34.78L184.09 34.10Z M188.43 33.60L188.98 31.15L187.38 31.15L187.93 33.60Z M187.93 34.60L187.38 37.05L188.98 37.05L188.43 34.60Z M187.84 33.65L185.73 31.98L185.02 33.42L187.62 34.10Z M188.74 34.10L191.33 33.42L190.62 31.98L188.51 33.65Z M187.62 34.10L185.02 34.78L185.73 36.22L187.84 34.55Z M188.51 34.55L190.62 36.22L191.33 34.78L188.74 34.10Z M193.07 33.60L193.62 31.15L192.02 31.15L192.57 33.60Z M192.57 34.60L192.02 37.05L193.62 37.05L193.07 34.60Z M192.49 33.65L190.38 31.98L189.67 33.42L192.26 34.10Z M193.38 34.10L195.98 33.42L195.27 31.98L193.16 33.65Z M192.26 34.10L189.67 34.78L190.38 36.22L192.49 34.55Z M193.16 34.55L195.27 36.22L195.98 34.78L193.38 34.10Z M197.72 33.60L198.27 31.15L196.67 31.15L197.22 33.60Z M197.22 34.60L196.67 37.05L198.27 37.05L197.72 34.60Z M197.13 33.65L195.03 31.98L194.31 33.42L196.91 34.10Z M198.03 34.10L200.63 33.42L199.91 31.98L197.80 33.65Z M196.91 34.10L194.31 34.78L195.03 36.22L197.13 34.55Z M197.80 34.55L199.91 36.22L200.63 34.78L198.03 34.10Z M202.36 33.60L202.91 31.15L201.31 31.15L201.86 33.60Z M201.86 34.60L201.31 37.05L202.91 37.05L202.36 34.60Z M201.78 33.65L199.67 31.98L198.96 33.42L201.56 34.10Z M202.67 34.10L205.27 33.42L204.56 31.98L202.45 33.65Z M201.56 34.10L198.96 34.78L199.67 36.22L201.78 34.55Z M202.45 34.55L204.56 36.22L205.27 34.78L202.67 34.10Z M207.01 33.60L207.56 31.15L205.96 31.15L206.51 33.60Z M206.51 34.60L205.96 37.05L207.56 37.05L207.01 34.60Z M206.43 33.65L204.32 31.98L203.60 33.42L206.20 34.10Z M207.32 34.10L209.92 33.42L209.20 31.98L207.10 33.65Z M206.20 34.10L203.60 34.78L204.32 36.22L206.43 34.55Z M207.10 34.55L209.20 36.22L209.92 34.78L207.32 34.10Z M211.66 33.60L212.21 31.15L210.61 31.15L211.16 33.60Z M211.16 34.60L210.61 37.05L212.21 37.05L211.66 34.60Z M211.07 33.65L208.96 31.98L208.25 33.42L210.85 34.10Z M211.97 34.10L214.56 33.42L213.85 31.98L211.74 33.65Z M210.85 34.10L208.25 34.78L208.96 36.22L211.07 34.55Z M211.74 34.55L213.85 36.22L214.56 34.78L211.97 34.10Z M159.75 63.20L160.30 60.75L158.70 60.75L159.25 63.20Z M159.25 64.20L158.70 66.65L160.30 66.65L159.75 64.20Z M159.17 63.25L157.06 61.58L156.34 63.02L158.94 63.70Z M160.06 63.70L162.66 63.02L161.94 61.58L159.84 63.25Z M158.94 63.70L156.34 64.38L157.06 65.82L159.17 64.15Z M159.84 64.15L161.94 65.82L162.66 64.38L160.06 63.70Z M164.40 63.20L164.95 60.75L163.35 60.75L163.90 63.20Z M163.90 64.20L163.35 66.65L164.95 66.65L164.40 64.20Z M163.81 63.25L161.71 61.58L160.99 63.02L163.59 63.70Z M164.71 63.70L167.31 63.02L166.59 61.58L164.48 63.25Z M163.59 63.70L160.99 64.38L161.71 65.82L163.81 64.15Z M164.48 64.15L166.59 65.82L167.31 64.38L164.71 63.70Z M169.04 63.20L169.59 60.75L167.99 60.75L168.54 63.20Z M168.54 64.20L167.99 66.65L169.59 66.65L169.04 64.20Z M168.46 63.25L166.35 61.58L165.64 63.02L168.23 63.70Z M169.35 63.70L171.95 63.02L171.24 61.58L169.13 63.25Z M168.23 63.70L165.64 64.38L166.35 65.82L168.46 64.15Z M169.13 64.15L171.24 65.82L171.95 64.38L169.35 63.70Z M173.69 63.20L174.24 60.75L172.64 60.75L173.19 63.20Z M173.19 64.20L172.64 66.65L174.24 66.65L173.69 64.20Z M173.10 63.25L171.00 61.58L170.28 63.02L172.88 63.70Z M174.00 63.70L176.60 63.02L175.88 61.58L173.77 63.25Z M172.88 63.70L170.28 64.38L171.00 65.82L173.10 64.15Z M173.77 64.15L175.88 65.82L176.60 64.38L174.00 63.70Z M178.34 63.20L178.89 60.75L177.29 60.75L177.84 63.20Z M177.84 64.20L177.29 66.65L178.89 66.65L178.34 64.20Z M177.75 63.25L175.64 61.58L174.93 63.02L177.53 63.70Z M178.64 63.70L181.24 63.02L180.53 61.58L178.42 63.25Z M177.53 63.70L174.93 64.38L175.64 65.82L177.75 64.15Z M178.42 64.15L180.53 65.82L181.24 64.38L178.64 63.70Z M182.98 63.20L183.53 60.75L181.93 60.75L182.48 63.20Z M182.48 64.20L181.93 66.65L183.53 66.65L182.98 64.20Z M182.40 63.25L180.29 61.58L179.57 63.02L182.17 63.70Z M183.29 63.70L185.89 63.02L185.17 61.58L183.07 63.25Z M182.17 63.70L179.57 64.38L180.29 65.82L182.40 64.15Z M183.07 64.15L185.17 65.82L185.89 64.38L183.29 63.70Z M187.63 63.20L188.18 60.75L186.58 60.75L187.13 63.20Z M187.13 64.20L186.58 66.65L188.18 66.65L187.63 64.20Z M187.04 63.25L184.93 61.58L184.22 63.02L186.82 63.70Z M187.94 63.70L190.53 63.02L189.82 61.58L187.71 63.25Z M186.82 63.70L184.22 64.38L184.93 65.82L187.04 64.15Z M187.71 64.15L189.82 65.82L190.53 64.38L187.94 63.70Z M192.27 63.20L192.82 60.75L191.22 60.75L191.77 63.20Z M191.77 64.20L191.22 66.65L192.82 66.65L192.27 64.20Z M191.69 63.25L189.58 61.58L188.87 63.02L191.46 63.70Z M192.58 63.70L195.18 63.02L194.47 61.58L192.36 63.25Z M191.46 63.70L188.87 64.38L189.58 65.82L191.69 64.15Z M192.36 64.15L194.47 65.82L195.18 64.38L192.58 63.70Z M196.92 63.20L197.47 60.75L195.87 60.75L196.42 63.20Z M196.42 64.20L195.87 66.65L197.47 66.65L196.92 64.20Z M196.33 63.25L194.23 61.58L193.51 63.02L196.11 63.70Z M197.23 63.70L199.83 63.02L199.11 61.58L197.00 63.25Z M196.11 63.70L193.51 64.38L194.23 65.82L196.33 64.15Z M197.00 64.15L199.11 65.82L199.83 64.38L197.23 63.70Z M201.56 63.20L202.11 60.75L200.51 60.75L201.06 63.20Z M201.06 64.20L200.51 66.65L202.11 66.65L201.56 64.20Z M200.98 63.25L198.87 61.58L198.16 63.02L200.76 63.70Z M201.87 63.70L204.47 63.02L203.76 61.58L201.65 63.25Z M200.76 63.70L198.16 64.38L198.87 65.82L200.98 64.15Z M201.65 64.15L203.76 65.82L204.47 64.38L201.87 63.70Z M206.21 63.20L206.76 60.75L205.16 60.75L205.71 63.20Z M205.71 64.20L205.16 66.65L206.76 66.65L206.21 64.20Z M205.63 63.25L203.52 61.58L202.80 63.02L205.40 63.70Z M206.52 63.70L209.12 63.02L208.40 61.58L206.30 63.25Z M205.40 63.70L202.80 64.38L203.52 65.82L205.63 64.15Z M206.30 64.15L208.40 65.82L209.12 64.38L206.52 63.70Z M210.86 63.20L211.41 60.75L209.81 60.75L210.36 63.20Z M210.36 64.20L209.81 66.65L211.41 66.65L210.86 64.20Z M210.27 63.25L208.16 61.58L207.45 63.02L210.05 63.70Z M211.17 63.70L213.76 63.02L213.05 61.58L210.94 63.25Z M210.05 63.70L207.45 64.38L208.16 65.82L210.27 64.15Z M210.94 64.15L213.05 65.82L213.76 64.38L211.17 63.70Z M215.50 63.20L216.05 60.75L214.45 60.75L215.00 63.20Z M215.00 64.20L214.45 66.65L216.05 66.65L215.50 64.20Z M214.92 63.25L212.81 61.58L212.09 63.02L214.69 63.70Z M215.81 63.70L218.41 63.02L217.69 61.58L215.59 63.25Z M214.69 63.70L212.09 64.38L212.81 65.82L214.92 64.15Z M215.59 64.15L217.69 65.82L218.41 64.38L215.81 63.70Z M99.36 95.70L99.91 93.25L98.31 93.25L98.86 95.70Z M98.86 96.70L98.31 99.15L99.91 99.15L99.36 96.70Z M98.77 95.75L96.66 94.08L95.95 95.52L98.55 96.20Z M99.67 96.20L102.26 95.52L101.55 94.08L99.44 95.75Z M98.55 96.20L95.95 96.88L96.66 98.32L98.77 96.65Z M99.44 96.65L101.55 98.32L102.26 96.88L99.67 96.20Z M131.88 95.70L132.43 93.25L130.83 93.25L131.38 95.70Z M131.38 96.70L130.83 99.15L132.43 99.15L131.88 96.70Z M131.29 95.75L129.18 94.08L128.47 95.52L131.07 96.20Z M132.19 96.20L134.78 95.52L134.07 94.08L131.96 95.75Z M131.07 96.20L128.47 96.88L129.18 98.32L131.29 96.65Z M131.96 96.65L134.07 98.32L134.78 96.88L132.19 96.20Z M136.52 95.70L137.07 93.25L135.47 93.25L136.02 95.70Z M136.02 96.70L135.47 99.15L137.07 99.15L136.52 96.70Z M135.94 95.75L133.83 94.08L133.12 95.52L135.71 96.20Z M136.83 96.20L139.43 95.52L138.72 94.08L136.61 95.75Z M135.71 96.20L133.12 96.88L133.83 98.32L135.94 96.65Z M136.61 96.65L138.72 98.32L139.43 96.88L136.83 96.20Z M141.17 95.70L141.72 93.25L140.12 93.25L140.67 95.70Z M140.67 96.70L140.12 99.15L141.72 99.15L141.17 96.70Z M140.58 95.75L138.48 94.08L137.76 95.52L140.36 96.20Z M141.48 96.20L144.08 95.52L143.36 94.08L141.25 95.75Z M140.36 96.20L137.76 96.88L138.48 98.32L140.58 96.65Z M141.25 96.65L143.36 98.32L144.08 96.88L141.48 96.20Z M145.81 95.70L146.36 93.25L144.76 93.25L145.31 95.70Z M145.31 96.70L144.76 99.15L146.36 99.15L145.81 96.70Z M145.23 95.75L143.12 94.08L142.41 95.52L145.01 96.20Z M146.12 96.20L148.72 95.52L148.01 94.08L145.90 95.75Z M145.01 96.20L142.41 96.88L143.12 98.32L145.23 96.65Z M145.90 96.65L148.01 98.32L148.72 96.88L146.12 96.20Z M150.46 95.70L151.01 93.25L149.41 93.25L149.96 95.70Z M149.96 96.70L149.41 99.15L151.01 99.15L150.46 96.70Z M149.88 95.75L147.77 94.08L147.05 95.52L149.65 96.20Z M150.77 96.20L153.37 95.52L152.65 94.08L150.55 95.75Z M149.65 96.20L147.05 96.88L147.77 98.32L149.88 96.65Z M150.55 96.65L152.65 98.32L153.37 96.88L150.77 96.20Z M155.11 95.70L155.66 93.25L154.06 93.25L154.61 95.70Z M154.61 96.70L154.06 99.15L155.66 99.15L155.11 96.70Z M154.52 95.75L152.41 94.08L151.70 95.52L154.30 96.20Z M155.42 96.20L158.01 95.52L157.30 94.08L155.19 95.75Z M154.30 96.20L151.70 96.88L152.41 98.32L154.52 96.65Z M155.19 96.65L157.30 98.32L158.01 96.88L155.42 96.20Z M159.75 95.70L160.30 93.25L158.70 93.25L159.25 95.70Z M159.25 96.70L158.70 99.15L160.30 99.15L159.75 96.70Z M159.17 95.75L157.06 94.08L156.34 95.52L158.94 96.20Z M160.06 96.20L162.66 95.52L161.94 94.08L159.84 95.75Z M158.94 96.20L156.34 96.88L157.06 98.32L159.17 96.65Z M159.84 96.65L161.94 98.32L162.66 96.88L160.06 96.20Z M164.40 95.70L164.95 93.25L163.35 93.25L163.90 95.70Z M163.90 96.70L163.35 99.15L164.95 99.15L164.40 96.70Z M163.81 95.75L161.71 94.08L160.99 95.52L163.59 96.20Z M164.71 96.20L167.31 95.52L166.59 94.08L164.48 95.75Z M163.59 96.20L160.99 96.88L161.71 98.32L163.81 96.65Z M164.48 96.65L166.59 98.32L167.31 96.88L164.71 96.20Z M169.04 95.70L169.59 93.25L167.99 93.25L168.54 95.70Z M168.54 96.70L167.99 99.15L169.59 99.15L169.04 96.70Z M168.46 95.75L166.35 94.08L165.64 95.52L168.23 96.20Z M169.35 96.20L171.95 95.52L171.24 94.08L169.13 95.75Z M168.23 96.20L165.64 96.88L166.35 98.32L168.46 96.65Z M169.13 96.65L171.24 98.32L171.95 96.88L169.35 96.20Z M173.69 95.70L174.24 93.25L172.64 93.25L173.19 95.70Z M173.19 96.70L172.64 99.15L174.24 99.15L173.69 96.70Z M173.10 95.75L171.00 94.08L170.28 95.52L172.88 96.20Z M174.00 96.20L176.60 95.52L175.88 94.08L173.77 95.75Z M172.88 96.20L170.28 96.88L171.00 98.32L173.10 96.65Z M173.77 96.65L175.88 98.32L176.60 96.88L174.00 96.20Z M178.34 95.70L178.89 93.25L177.29 93.25L177.84 95.70Z M177.84 96.70L177.29 99.15L178.89 99.15L178.34 96.70Z M177.75 95.75L175.64 94.08L174.93 95.52L177.53 96.20Z M178.64 96.20L181.24 95.52L180.53 94.08L178.42 95.75Z M177.53 96.20L174.93 96.88L175.64 98.32L177.75 96.65Z M178.42 96.65L180.53 98.32L181.24 96.88L178.64 96.20Z M182.98 95.70L183.53 93.25L181.93 93.25L182.48 95.70Z M182.48 96.70L181.93 99.15L183.53 99.15L182.98 96.70Z M182.40 95.75L180.29 94.08L179.57 95.52L182.17 96.20Z M183.29 96.20L185.89 95.52L185.17 94.08L183.07 95.75Z M182.17 96.20L179.57 96.88L180.29 98.32L182.40 96.65Z M183.07 96.65L185.17 98.32L185.89 96.88L183.29 96.20Z M187.63 95.70L188.18 93.25L186.58 93.25L187.13 95.70Z M187.13 96.70L186.58 99.15L188.18 99.15L187.63 96.70Z M187.04 95.75L184.93 94.08L184.22 95.52L186.82 96.20Z M187.94 96.20L190.53 95.52L189.82 94.08L187.71 95.75Z M186.82 96.20L184.22 96.88L184.93 98.32L187.04 96.65Z M187.71 96.65L189.82 98.32L190.53 96.88L187.94 96.20Z M192.27 95.70L192.82 93.25L191.22 93.25L191.77 95.70Z M191.77 96.70L191.22 99.15L192.82 99.15L192.27 96.70Z M191.69 95.75L189.58 94.08L188.87 95.52L191.46 96.20Z M192.58 96.20L195.18 95.52L194.47 94.08L192.36 95.75Z M191.46 96.20L188.87 96.88L189.58 98.32L191.69 96.65Z M192.36 96.65L194.47 98.32L195.18 96.88L192.58 96.20Z M196.92 95.70L197.47 93.25L195.87 93.25L196.42 95.70Z M196.42 96.70L195.87 99.15L197.47 99.15L196.92 96.70Z M196.33 95.75L194.23 94.08L193.51 95.52L196.11 96.20Z M197.23 96.20L199.83 95.52L199.11 94.08L197.00 95.75Z M196.11 96.20L193.51 96.88L194.23 98.32L196.33 96.65Z M197.00 96.65L199.11 98.32L199.83 96.88L197.23 96.20Z M201.56 95.70L202.11 93.25L200.51 93.25L201.06 95.70Z M201.06 96.70L200.51 99.15L202.11 99.15L201.56 96.70Z M200.98 95.75L198.87 94.08L198.16 95.52L200.76 96.20Z M201.87 96.20L204.47 95.52L203.76 94.08L201.65 95.75Z M200.76 96.20L198.16 96.88L198.87 98.32L200.98 96.65Z M201.65 96.65L203.76 98.32L204.47 96.88L201.87 96.20Z M206.21 95.70L206.76 93.25L205.16 93.25L205.71 95.70Z M205.71 96.70L205.16 99.15L206.76 99.15L206.21 96.70Z M205.63 95.75L203.52 94.08L202.80 95.52L205.40 96.20Z M206.52 96.20L209.12 95.52L208.40 94.08L206.30 95.75Z M205.40 96.20L202.80 96.88L203.52 98.32L205.63 96.65Z M206.30 96.65L208.40 98.32L209.12 96.88L206.52 96.20Z M210.86 95.70L211.41 93.25L209.81 93.25L210.36 95.70Z M210.36 96.70L209.81 99.15L211.41 99.15L210.86 96.70Z M210.27 95.75L208.16 94.08L207.45 95.52L210.05 96.20Z M211.17 96.20L213.76 95.52L213.05 94.08L210.94 95.75Z M210.05 96.20L207.45 96.88L208.16 98.32L210.27 96.65Z M210.94 96.65L213.05 98.32L213.76 96.88L211.17 96.20Z M215.50 95.70L216.05 93.25L214.45 93.25L215.00 95.70Z M215.00 96.70L214.45 99.15L216.05 99.15L215.50 96.70Z M214.92 95.75L212.81 94.08L212.09 95.52L214.69 96.20Z M215.81 96.20L218.41 95.52L217.69 94.08L215.59 95.75Z M214.69 96.20L212.09 96.88L212.81 98.32L214.92 96.65Z M215.59 96.65L217.69 98.32L218.41 96.88L215.81 96.20Z M81.27 124.90L81.82 122.45L80.22 122.45L80.77 124.90Z M80.77 125.90L80.22 128.35L81.82 128.35L81.27 125.90Z M80.69 124.95L78.58 123.28L77.87 124.72L80.46 125.40Z M81.58 125.40L84.18 124.72L83.47 123.28L81.36 124.95Z M80.46 125.40L77.87 126.08L78.58 127.52L80.69 125.85Z M81.36 125.85L83.47 127.52L84.18 126.08L81.58 125.40Z M85.92 124.90L86.47 122.45L84.87 122.45L85.42 124.90Z M85.42 125.90L84.87 128.35L86.47 128.35L85.92 125.90Z M85.33 124.95L83.23 123.28L82.51 124.72L85.11 125.40Z M86.23 125.40L88.83 124.72L88.11 123.28L86.00 124.95Z M85.11 125.40L82.51 126.08L83.23 127.52L85.33 125.85Z M86.00 125.85L88.11 127.52L88.83 126.08L86.23 125.40Z M146.31 124.90L146.86 122.45L145.26 122.45L145.81 124.90Z M145.81 125.90L145.26 128.35L146.86 128.35L146.31 125.90Z M145.73 124.95L143.62 123.28L142.91 124.72L145.51 125.40Z M146.62 125.40L149.22 124.72L148.51 123.28L146.40 124.95Z M145.51 125.40L142.91 126.08L143.62 127.52L145.73 125.85Z M146.40 125.85L148.51 127.52L149.22 126.08L146.62 125.40Z M150.96 124.90L151.51 122.45L149.91 122.45L150.46 124.90Z M150.46 125.90L149.91 128.35L151.51 128.35L150.96 125.90Z M150.38 124.95L148.27 123.28L147.55 124.72L150.15 125.40Z M151.27 125.40L153.87 124.72L153.15 123.28L151.05 124.95Z M150.15 125.40L147.55 126.08L148.27 127.52L150.38 125.85Z M151.05 125.85L153.15 127.52L153.87 126.08L151.27 125.40Z M155.61 124.90L156.16 122.45L154.56 122.45L155.11 124.90Z M155.11 125.90L154.56 128.35L156.16 128.35L155.61 125.90Z M155.02 124.95L152.91 123.28L152.20 124.72L154.80 125.40Z M155.92 125.40L158.51 124.72L157.80 123.28L155.69 124.95Z M154.80 125.40L152.20 126.08L152.91 127.52L155.02 125.85Z M155.69 125.85L157.80 127.52L158.51 126.08L155.92 125.40Z M160.25 124.90L160.80 122.45L159.20 122.45L159.75 124.90Z M159.75 125.90L159.20 128.35L160.80 128.35L160.25 125.90Z M159.67 124.95L157.56 123.28L156.84 124.72L159.44 125.40Z M160.56 125.40L163.16 124.72L162.44 123.28L160.34 124.95Z M159.44 125.40L156.84 126.08L157.56 127.52L159.67 125.85Z M160.34 125.85L162.44 127.52L163.16 126.08L160.56 125.40Z M164.90 124.90L165.45 122.45L163.85 122.45L164.40 124.90Z M164.40 125.90L163.85 128.35L165.45 128.35L164.90 125.90Z M164.31 124.95L162.21 123.28L161.49 124.72L164.09 125.40Z M165.21 125.40L167.81 124.72L167.09 123.28L164.98 124.95Z M164.09 125.40L161.49 126.08L162.21 127.52L164.31 125.85Z M164.98 125.85L167.09 127.52L167.81 126.08L165.21 125.40Z M169.54 124.90L170.09 122.45L168.49 122.45L169.04 124.90Z M169.04 125.90L168.49 128.35L170.09 128.35L169.54 125.90Z M168.96 124.95L166.85 123.28L166.14 124.72L168.73 125.40Z M169.85 125.40L172.45 124.72L171.74 123.28L169.63 124.95Z M168.73 125.40L166.14 126.08L166.85 127.52L168.96 125.85Z M169.63 125.85L171.74 127.52L172.45 126.08L169.85 125.40Z M174.19 124.90L174.74 122.45L173.14 122.45L173.69 124.90Z M173.69 125.90L173.14 128.35L174.74 128.35L174.19 125.90Z M173.60 124.95L171.50 123.28L170.78 124.72L173.38 125.40Z M174.50 125.40L177.10 124.72L176.38 123.28L174.27 124.95Z M173.38 125.40L170.78 126.08L171.50 127.52L173.60 125.85Z M174.27 125.85L176.38 127.52L177.10 126.08L174.50 125.40Z M178.84 124.90L179.39 122.45L177.79 122.45L178.34 124.90Z M178.34 125.90L177.79 128.35L179.39 128.35L178.84 125.90Z M178.25 124.95L176.14 123.28L175.43 124.72L178.03 125.40Z M179.14 125.40L181.74 124.72L181.03 123.28L178.92 124.95Z M178.03 125.40L175.43 126.08L176.14 127.52L178.25 125.85Z M178.92 125.85L181.03 127.52L181.74 126.08L179.14 125.40Z M183.48 124.90L184.03 122.45L182.43 122.45L182.98 124.90Z M182.98 125.90L182.43 128.35L184.03 128.35L183.48 125.90Z M182.90 124.95L180.79 123.28L180.07 124.72L182.67 125.40Z M183.79 125.40L186.39 124.72L185.67 123.28L183.57 124.95Z M182.67 125.40L180.07 126.08L180.79 127.52L182.90 125.85Z M183.57 125.85L185.67 127.52L186.39 126.08L183.79 125.40Z M188.13 124.90L188.68 122.45L187.08 122.45L187.63 124.90Z M187.63 125.90L187.08 128.35L188.68 128.35L188.13 125.90Z M187.54 124.95L185.43 123.28L184.72 124.72L187.32 125.40Z M188.44 125.40L191.03 124.72L190.32 123.28L188.21 124.95Z M187.32 125.40L184.72 126.08L185.43 127.52L187.54 125.85Z M188.21 125.85L190.32 127.52L191.03 126.08L188.44 125.40Z M192.77 124.90L193.32 122.45L191.72 122.45L192.27 124.90Z M192.27 125.90L191.72 128.35L193.32 128.35L192.77 125.90Z M192.19 124.95L190.08 123.28L189.37 124.72L191.96 125.40Z M193.08 125.40L195.68 124.72L194.97 123.28L192.86 124.95Z M191.96 125.40L189.37 126.08L190.08 127.52L192.19 125.85Z M192.86 125.85L194.97 127.52L195.68 126.08L193.08 125.40Z M197.42 124.90L197.97 122.45L196.37 122.45L196.92 124.90Z M196.92 125.90L196.37 128.35L197.97 128.35L197.42 125.90Z M196.83 124.95L194.73 123.28L194.01 124.72L196.61 125.40Z M197.73 125.40L200.33 124.72L199.61 123.28L197.50 124.95Z M196.61 125.40L194.01 126.08L194.73 127.52L196.83 125.85Z M197.50 125.85L199.61 127.52L200.33 126.08L197.73 125.40Z M202.06 124.90L202.61 122.45L201.01 122.45L201.56 124.90Z M201.56 125.90L201.01 128.35L202.61 128.35L202.06 125.90Z M201.48 124.95L199.37 123.28L198.66 124.72L201.26 125.40Z M202.37 125.40L204.97 124.72L204.26 123.28L202.15 124.95Z M201.26 125.40L198.66 126.08L199.37 127.52L201.48 125.85Z M202.15 125.85L204.26 127.52L204.97 126.08L202.37 125.40Z M206.71 124.90L207.26 122.45L205.66 122.45L206.21 124.90Z M206.21 125.90L205.66 128.35L207.26 128.35L206.71 125.90Z M206.13 124.95L204.02 123.28L203.30 124.72L205.90 125.40Z M207.02 125.40L209.62 124.72L208.90 123.28L206.80 124.95Z M205.90 125.40L203.30 126.08L204.02 127.52L206.13 125.85Z M206.80 125.85L208.90 127.52L209.62 126.08L207.02 125.40Z M211.36 124.90L211.91 122.45L210.31 122.45L210.86 124.90Z M210.86 125.90L210.31 128.35L211.91 128.35L211.36 125.90Z M210.77 124.95L208.66 123.28L207.95 124.72L210.55 125.40Z M211.67 125.40L214.26 124.72L213.55 123.28L211.44 124.95Z M210.55 125.40L207.95 126.08L208.66 127.52L210.77 125.85Z M211.44 125.85L213.55 127.52L214.26 126.08L211.67 125.40Z M216.00 124.90L216.55 122.45L214.95 122.45L215.50 124.90Z M215.50 125.90L214.95 128.35L216.55 128.35L216.00 125.90Z M215.42 124.95L213.31 123.28L212.59 124.72L215.19 125.40Z M216.31 125.40L218.91 124.72L218.19 123.28L216.09 124.95Z M215.19 125.40L212.59 126.08L213.31 127.52L215.42 125.85Z M216.09 125.85L218.19 127.52L218.91 126.08L216.31 125.40Z M220.65 124.90L221.20 122.45L219.60 122.45L220.15 124.90Z M220.15 125.90L219.60 128.35L221.20 128.35L220.65 125.90Z M220.06 124.95L217.96 123.28L217.24 124.72L219.84 125.40Z M220.96 125.40L223.56 124.72L222.84 123.28L220.73 124.95Z M219.84 125.40L217.24 126.08L217.96 127.52L220.06 125.85Z M220.73 125.85L222.84 127.52L223.56 126.08L220.96 125.40Z M225.29 124.90L225.84 122.45L224.24 122.45L224.79 124.90Z M224.79 125.90L224.24 128.35L225.84 128.35L225.29 125.90Z M224.71 124.95L222.60 123.28L221.89 124.72L224.48 125.40Z M225.60 125.40L228.20 124.72L227.49 123.28L225.38 124.95Z M224.48 125.40L221.89 126.08L222.60 127.52L224.71 125.85Z M225.38 125.85L227.49 127.52L228.20 126.08L225.60 125.40Z M229.94 124.90L230.49 122.45L228.89 122.45L229.44 124.90Z M229.44 125.90L228.89 128.35L230.49 128.35L229.94 125.90Z M229.35 124.95L227.25 123.28L226.53 124.72L229.13 125.40Z M230.25 125.40L232.85 124.72L232.13 123.28L230.02 124.95Z M229.13 125.40L226.53 126.08L227.25 127.52L229.35 125.85Z M230.02 125.85L232.13 127.52L232.85 126.08L230.25 125.40Z M234.59 124.90L235.14 122.45L233.54 122.45L234.09 124.90Z M234.09 125.90L233.54 128.35L235.14 128.35L234.59 125.90Z M234.00 124.95L231.89 123.28L231.18 124.72L233.78 125.40Z M234.89 125.40L237.49 124.72L236.78 123.28L234.67 124.95Z M233.78 125.40L231.18 126.08L231.89 127.52L234.00 125.85Z M234.67 125.85L236.78 127.52L237.49 126.08L234.89 125.40Z M239.23 124.90L239.78 122.45L238.18 122.45L238.73 124.90Z M238.73 125.90L238.18 128.35L239.78 128.35L239.23 125.90Z M238.65 124.95L236.54 123.28L235.82 124.72L238.42 125.40Z M239.54 125.40L242.14 124.72L241.42 123.28L239.32 124.95Z M238.42 125.40L235.82 126.08L236.54 127.52L238.65 125.85Z M239.32 125.85L241.42 127.52L242.14 126.08L239.54 125.40Z M243.88 124.90L244.43 122.45L242.83 122.45L243.38 124.90Z M243.38 125.90L242.83 128.35L244.43 128.35L243.88 125.90Z M243.29 124.95L241.18 123.28L240.47 124.72L243.07 125.40Z M244.19 125.40L246.78 124.72L246.07 123.28L243.96 124.95Z M243.07 125.40L240.47 126.08L241.18 127.52L243.29 125.85Z M243.96 125.85L246.07 127.52L246.78 126.08L244.19 125.40Z M248.52 124.90L249.07 122.45L247.47 122.45L248.02 124.90Z M248.02 125.90L247.47 128.35L249.07 128.35L248.52 125.90Z M247.94 124.95L245.83 123.28L245.12 124.72L247.71 125.40Z M248.83 125.40L251.43 124.72L250.72 123.28L248.61 124.95Z M247.71 125.40L245.12 126.08L245.83 127.52L247.94 125.85Z M248.61 125.85L250.72 127.52L251.43 126.08L248.83 125.40Z M253.17 124.90L253.72 122.45L252.12 122.45L252.67 124.90Z M252.67 125.90L252.12 128.35L253.72 128.35L253.17 125.90Z M252.58 124.95L250.48 123.28L249.76 124.72L252.36 125.40Z M253.48 125.40L256.08 124.72L255.36 123.28L253.25 124.95Z M252.36 125.40L249.76 126.08L250.48 127.52L252.58 125.85Z M253.25 125.85L255.36 127.52L256.08 126.08L253.48 125.40Z M257.81 124.90L258.36 122.45L256.76 122.45L257.31 124.90Z M257.31 125.90L256.76 128.35L258.36 128.35L257.81 125.90Z M257.23 124.95L255.12 123.28L254.41 124.72L257.01 125.40Z M258.12 125.40L260.72 124.72L260.01 123.28L257.90 124.95Z M257.01 125.40L254.41 126.08L255.12 127.52L257.23 125.85Z M257.90 125.85L260.01 127.52L260.72 126.08L258.12 125.40Z M262.46 124.90L263.01 122.45L261.41 122.45L261.96 124.90Z M261.96 125.90L261.41 128.35L263.01 128.35L262.46 125.90Z M261.88 124.95L259.77 123.28L259.05 124.72L261.65 125.40Z M262.77 125.40L265.37 124.72L264.65 123.28L262.55 124.95Z M261.65 125.40L259.05 126.08L259.77 127.52L261.88 125.85Z M262.55 125.85L264.65 127.52L265.37 126.08L262.77 125.40Z M267.11 124.90L267.66 122.45L266.06 122.45L266.61 124.90Z M266.61 125.90L266.06 128.35L267.66 128.35L267.11 125.90Z M266.52 124.95L264.41 123.28L263.70 124.72L266.30 125.40Z M267.42 125.40L270.01 124.72L269.30 123.28L267.19 124.95Z M266.30 125.40L263.70 126.08L264.41 127.52L266.52 125.85Z M267.19 125.85L269.30 127.52L270.01 126.08L267.42 125.40Z M271.75 124.90L272.30 122.45L270.70 122.45L271.25 124.90Z M271.25 125.90L270.70 128.35L272.30 128.35L271.75 125.90Z M271.17 124.95L269.06 123.28L268.34 124.72L270.94 125.40Z M272.06 125.40L274.66 124.72L273.94 123.28L271.84 124.95Z M270.94 125.40L268.34 126.08L269.06 127.52L271.17 125.85Z M271.84 125.85L273.94 127.52L274.66 126.08L272.06 125.40Z M276.40 124.90L276.95 122.45L275.35 122.45L275.90 124.90Z M275.90 125.90L275.35 128.35L276.95 128.35L276.40 125.90Z M275.81 124.95L273.71 123.28L272.99 124.72L275.59 125.40Z M276.71 125.40L279.31 124.72L278.59 123.28L276.48 124.95Z M275.59 125.40L272.99 126.08L273.71 127.52L275.81 125.85Z M276.48 125.85L278.59 127.52L279.31 126.08L276.71 125.40Z M281.04 124.90L281.59 122.45L279.99 122.45L280.54 124.90Z M280.54 125.90L279.99 128.35L281.59 128.35L281.04 125.90Z M280.46 124.95L278.35 123.28L277.64 124.72L280.23 125.40Z M281.35 125.40L283.95 124.72L283.24 123.28L281.13 124.95Z M280.23 125.40L277.64 126.08L278.35 127.52L280.46 125.85Z M281.13 125.85L283.24 127.52L283.95 126.08L281.35 125.40Z M285.69 124.90L286.24 122.45L284.64 122.45L285.19 124.90Z M285.19 125.90L284.64 128.35L286.24 128.35L285.69 125.90Z M285.10 124.95L283.00 123.28L282.28 124.72L284.88 125.40Z M286.00 125.40L288.60 124.72L287.88 123.28L285.77 124.95Z M284.88 125.40L282.28 126.08L283.00 127.52L285.10 125.85Z M285.77 125.85L287.88 127.52L288.60 126.08L286.00 125.40Z M290.34 124.90L290.89 122.45L289.29 122.45L289.84 124.90Z M289.84 125.90L289.29 128.35L290.89 128.35L290.34 125.90Z M289.75 124.95L287.64 123.28L286.93 124.72L289.53 125.40Z M290.64 125.40L293.24 124.72L292.53 123.28L290.42 124.95Z M289.53 125.40L286.93 126.08L287.64 127.52L289.75 125.85Z M290.42 125.85L292.53 127.52L293.24 126.08L290.64 125.40Z M294.98 124.90L295.53 122.45L293.93 122.45L294.48 124.90Z M294.48 125.90L293.93 128.35L295.53 128.35L294.98 125.90Z M294.40 124.95L292.29 123.28L291.57 124.72L294.17 125.40Z M295.29 125.40L297.89 124.72L297.17 123.28L295.07 124.95Z M294.17 125.40L291.57 126.08L292.29 127.52L294.40 125.85Z M295.07 125.85L297.17 127.52L297.89 126.08L295.29 125.40Z M299.63 124.90L300.18 122.45L298.58 122.45L299.13 124.90Z M299.13 125.90L298.58 128.35L300.18 128.35L299.63 125.90Z M299.04 124.95L296.93 123.28L296.22 124.72L298.82 125.40Z M299.94 125.40L302.53 124.72L301.82 123.28L299.71 124.95Z M298.82 125.40L296.22 126.08L296.93 127.52L299.04 125.85Z M299.71 125.85L301.82 127.52L302.53 126.08L299.94 125.40Z M80.77 156.10L81.32 153.65L79.72 153.65L80.27 156.10Z M80.27 157.10L79.72 159.55L81.32 159.55L80.77 157.10Z M80.19 156.15L78.08 154.48L77.37 155.92L79.96 156.60Z M81.08 156.60L83.68 155.92L82.97 154.48L80.86 156.15Z M79.96 156.60L77.37 157.28L78.08 158.72L80.19 157.05Z M80.86 157.05L82.97 158.72L83.68 157.28L81.08 156.60Z M155.11 156.10L155.66 153.65L154.06 153.65L154.61 156.10Z M154.61 157.10L154.06 159.55L155.66 159.55L155.11 157.10Z M154.52 156.15L152.41 154.48L151.70 155.92L154.30 156.60Z M155.42 156.60L158.01 155.92L157.30 154.48L155.19 156.15Z M154.30 156.60L151.70 157.28L152.41 158.72L154.52 157.05Z M155.19 157.05L157.30 158.72L158.01 157.28L155.42 156.60Z M159.75 156.10L160.30 153.65L158.70 153.65L159.25 156.10Z M159.25 157.10L158.70 159.55L160.30 159.55L159.75 157.10Z M159.17 156.15L157.06 154.48L156.34 155.92L158.94 156.60Z M160.06 156.60L162.66 155.92L161.94 154.48L159.84 156.15Z M158.94 156.60L156.34 157.28L157.06 158.72L159.17 157.05Z M159.84 157.05L161.94 158.72L162.66 157.28L160.06 156.60Z M164.40 156.10L164.95 153.65L163.35 153.65L163.90 156.10Z M163.90 157.10L163.35 159.55L164.95 159.55L164.40 157.10Z M163.81 156.15L161.71 154.48L160.99 155.92L163.59 156.60Z M164.71 156.60L167.31 155.92L166.59 154.48L164.48 156.15Z M163.59 156.60L160.99 157.28L161.71 158.72L163.81 157.05Z M164.48 157.05L166.59 158.72L167.31 157.28L164.71 156.60Z M169.04 156.10L169.59 153.65L167.99 153.65L168.54 156.10Z M168.54 157.10L167.99 159.55L169.59 159.55L169.04 157.10Z M168.46 156.15L166.35 154.48L165.64 155.92L168.23 156.60Z M169.35 156.60L171.95 155.92L171.24 154.48L169.13 156.15Z M168.23 156.60L165.64 157.28L166.35 158.72L168.46 157.05Z M169.13 157.05L171.24 158.72L171.95 157.28L169.35 156.60Z M173.69 156.10L174.24 153.65L172.64 153.65L173.19 156.10Z M173.19 157.10L172.64 159.55L174.24 159.55L173.69 157.10Z M173.10 156.15L171.00 154.48L170.28 155.92L172.88 156.60Z M174.00 156.60L176.60 155.92L175.88 154.48L173.77 156.15Z M172.88 156.60L170.28 157.28L171.00 158.72L173.10 157.05Z M173.77 157.05L175.88 158.72L176.60 157.28L174.00 156.60Z M182.98 156.10L183.53 153.65L181.93 153.65L182.48 156.10Z M182.48 157.10L181.93 159.55L183.53 159.55L182.98 157.10Z M182.40 156.15L180.29 154.48L179.57 155.92L182.17 156.60Z M183.29 156.60L185.89 155.92L185.17 154.48L183.07 156.15Z M182.17 156.60L179.57 157.28L180.29 158.72L182.40 157.05Z M183.07 157.05L185.17 158.72L185.89 157.28L183.29 156.60Z M187.63 156.10L188.18 153.65L186.58 153.65L187.13 156.10Z M187.13 157.10L186.58 159.55L188.18 159.55L187.63 157.10Z M187.04 156.15L184.93 154.48L184.22 155.92L186.82 156.60Z M187.94 156.60L190.53 155.92L189.82 154.48L187.71 156.15Z M186.82 156.60L184.22 157.28L184.93 158.72L187.04 157.05Z M187.71 157.05L189.82 158.72L190.53 157.28L187.94 156.60Z M192.27 156.10L192.82 153.65L191.22 153.65L191.77 156.10Z M191.77 157.10L191.22 159.55L192.82 159.55L192.27 157.10Z M191.69 156.15L189.58 154.48L188.87 155.92L191.46 156.60Z M192.58 156.60L195.18 155.92L194.47 154.48L192.36 156.15Z M191.46 156.60L188.87 157.28L189.58 158.72L191.69 157.05Z M192.36 157.05L194.47 158.72L195.18 157.28L192.58 156.60Z M196.92 156.10L197.47 153.65L195.87 153.65L196.42 156.10Z M196.42 157.10L195.87 159.55L197.47 159.55L196.92 157.10Z M196.33 156.15L194.23 154.48L193.51 155.92L196.11 156.60Z M197.23 156.60L199.83 155.92L199.11 154.48L197.00 156.15Z M196.11 156.60L193.51 157.28L194.23 158.72L196.33 157.05Z M197.00 157.05L199.11 158.72L199.83 157.28L197.23 156.60Z M201.56 156.10L202.11 153.65L200.51 153.65L201.06 156.10Z M201.06 157.10L200.51 159.55L202.11 159.55L201.56 157.10Z M200.98 156.15L198.87 154.48L198.16 155.92L200.76 156.60Z M201.87 156.60L204.47 155.92L203.76 154.48L201.65 156.15Z M200.76 156.60L198.16 157.28L198.87 158.72L200.98 157.05Z M201.65 157.05L203.76 158.72L204.47 157.28L201.87 156.60Z M206.21 156.10L206.76 153.65L205.16 153.65L205.71 156.10Z M205.71 157.10L205.16 159.55L206.76 159.55L206.21 157.10Z M205.63 156.15L203.52 154.48L202.80 155.92L205.40 156.60Z M206.52 156.60L209.12 155.92L208.40 154.48L206.30 156.15Z M205.40 156.60L202.80 157.28L203.52 158.72L205.63 157.05Z M206.30 157.05L208.40 158.72L209.12 157.28L206.52 156.60Z M210.86 156.10L211.41 153.65L209.81 153.65L210.36 156.10Z M210.36 157.10L209.81 159.55L211.41 159.55L210.86 157.10Z M210.27 156.15L208.16 154.48L207.45 155.92L210.05 156.60Z M211.17 156.60L213.76 155.92L213.05 154.48L210.94 156.15Z M210.05 156.60L207.45 157.28L208.16 158.72L210.27 157.05Z M210.94 157.05L213.05 158.72L213.76 157.28L211.17 156.60Z M215.50 156.10L216.05 153.65L214.45 153.65L215.00 156.10Z M215.00 157.10L214.45 159.55L216.05 159.55L215.50 157.10Z M214.92 156.15L212.81 154.48L212.09 155.92L214.69 156.60Z M215.81 156.60L218.41 155.92L217.69 154.48L215.59 156.15Z M214.69 156.60L212.09 157.28L212.81 158.72L214.92 157.05Z M215.59 157.05L217.69 158.72L218.41 157.28L215.81 156.60Z M220.15 156.10L220.70 153.65L219.10 153.65L219.65 156.10Z M219.65 157.10L219.10 159.55L220.70 159.55L220.15 157.10Z M219.56 156.15L217.46 154.48L216.74 155.92L219.34 156.60Z M220.46 156.60L223.06 155.92L222.34 154.48L220.23 156.15Z M219.34 156.60L216.74 157.28L217.46 158.72L219.56 157.05Z M220.23 157.05L222.34 158.72L223.06 157.28L220.46 156.60Z M224.79 156.10L225.34 153.65L223.74 153.65L224.29 156.10Z M224.29 157.10L223.74 159.55L225.34 159.55L224.79 157.10Z M224.21 156.15L222.10 154.48L221.39 155.92L223.98 156.60Z M225.10 156.60L227.70 155.92L226.99 154.48L224.88 156.15Z M223.98 156.60L221.39 157.28L222.10 158.72L224.21 157.05Z M224.88 157.05L226.99 158.72L227.70 157.28L225.10 156.60Z M229.44 156.10L229.99 153.65L228.39 153.65L228.94 156.10Z M228.94 157.10L228.39 159.55L229.99 159.55L229.44 157.10Z M228.85 156.15L226.75 154.48L226.03 155.92L228.63 156.60Z M229.75 156.60L232.35 155.92L231.63 154.48L229.52 156.15Z M228.63 156.60L226.03 157.28L226.75 158.72L228.85 157.05Z M229.52 157.05L231.63 158.72L232.35 157.28L229.75 156.60Z M234.09 156.10L234.64 153.65L233.04 153.65L233.59 156.10Z M233.59 157.10L233.04 159.55L234.64 159.55L234.09 157.10Z M233.50 156.15L231.39 154.48L230.68 155.92L233.28 156.60Z M234.39 156.60L236.99 155.92L236.28 154.48L234.17 156.15Z M233.28 156.60L230.68 157.28L231.39 158.72L233.50 157.05Z M234.17 157.05L236.28 158.72L236.99 157.28L234.39 156.60Z M238.73 156.10L239.28 153.65L237.68 153.65L238.23 156.10Z M238.23 157.10L237.68 159.55L239.28 159.55L238.73 157.10Z M238.15 156.15L236.04 154.48L235.32 155.92L237.92 156.60Z M239.04 156.60L241.64 155.92L240.92 154.48L238.82 156.15Z M237.92 156.60L235.32 157.28L236.04 158.72L238.15 157.05Z M238.82 157.05L240.92 158.72L241.64 157.28L239.04 156.60Z M382.23 34.70L382.78 32.25L381.18 32.25L381.73 34.70Z M381.73 35.70L381.18 38.15L382.78 38.15L382.23 35.70Z M381.65 34.75L379.54 33.08L378.82 34.52L381.42 35.20Z M382.54 35.20L385.14 34.52L384.42 33.08L382.32 34.75Z M381.42 35.20L378.82 35.88L379.54 37.32L381.65 35.65Z M382.32 35.65L384.42 37.32L385.14 35.88L382.54 35.20Z M386.88 34.70L387.43 32.25L385.83 32.25L386.38 34.70Z M386.38 35.70L385.83 38.15L387.43 38.15L386.88 35.70Z M386.29 34.75L384.18 33.08L383.47 34.52L386.07 35.20Z M387.19 35.20L389.78 34.52L389.07 33.08L386.96 34.75Z M386.07 35.20L383.47 35.88L384.18 37.32L386.29 35.65Z M386.96 35.65L389.07 37.32L389.78 35.88L387.19 35.20Z M391.52 34.70L392.07 32.25L390.47 32.25L391.02 34.70Z M391.02 35.70L390.47 38.15L392.07 38.15L391.52 35.70Z M390.94 34.75L388.83 33.08L388.12 34.52L390.71 35.20Z M391.83 35.20L394.43 34.52L393.72 33.08L391.61 34.75Z M390.71 35.20L388.12 35.88L388.83 37.32L390.94 35.65Z M391.61 35.65L393.72 37.32L394.43 35.88L391.83 35.20Z M396.17 34.70L396.72 32.25L395.12 32.25L395.67 34.70Z M395.67 35.70L395.12 38.15L396.72 38.15L396.17 35.70Z M395.58 34.75L393.48 33.08L392.76 34.52L395.36 35.20Z M396.48 35.20L399.08 34.52L398.36 33.08L396.25 34.75Z M395.36 35.20L392.76 35.88L393.48 37.32L395.58 35.65Z M396.25 35.65L398.36 37.32L399.08 35.88L396.48 35.20Z M400.81 34.70L401.36 32.25L399.76 32.25L400.31 34.70Z M400.31 35.70L399.76 38.15L401.36 38.15L400.81 35.70Z M400.23 34.75L398.12 33.08L397.41 34.52L400.01 35.20Z M401.12 35.20L403.72 34.52L403.01 33.08L400.90 34.75Z M400.01 35.20L397.41 35.88L398.12 37.32L400.23 35.65Z M400.90 35.65L403.01 37.32L403.72 35.88L401.12 35.20Z M405.46 34.70L406.01 32.25L404.41 32.25L404.96 34.70Z M404.96 35.70L404.41 38.15L406.01 38.15L405.46 35.70Z M404.88 34.75L402.77 33.08L402.05 34.52L404.65 35.20Z M405.77 35.20L408.37 34.52L407.65 33.08L405.55 34.75Z M404.65 35.20L402.05 35.88L402.77 37.32L404.88 35.65Z M405.55 35.65L407.65 37.32L408.37 35.88L405.77 35.20Z M419.40 34.70L419.95 32.25L418.35 32.25L418.90 34.70Z M418.90 35.70L418.35 38.15L419.95 38.15L419.40 35.70Z M418.81 34.75L416.71 33.08L415.99 34.52L418.59 35.20Z M419.71 35.20L422.31 34.52L421.59 33.08L419.48 34.75Z M418.59 35.20L415.99 35.88L416.71 37.32L418.81 35.65Z M419.48 35.65L421.59 37.32L422.31 35.88L419.71 35.20Z M424.04 34.70L424.59 32.25L422.99 32.25L423.54 34.70Z M423.54 35.70L422.99 38.15L424.59 38.15L424.04 35.70Z M423.46 34.75L421.35 33.08L420.64 34.52L423.23 35.20Z M424.35 35.20L426.95 34.52L426.24 33.08L424.13 34.75Z M423.23 35.20L420.64 35.88L421.35 37.32L423.46 35.65Z M424.13 35.65L426.24 37.32L426.95 35.88L424.35 35.20Z M428.69 34.70L429.24 32.25L427.64 32.25L428.19 34.70Z M428.19 35.70L427.64 38.15L429.24 38.15L428.69 35.70Z M428.10 34.75L426.00 33.08L425.28 34.52L427.88 35.20Z M429.00 35.20L431.60 34.52L430.88 33.08L428.77 34.75Z M427.88 35.20L425.28 35.88L426.00 37.32L428.10 35.65Z M428.77 35.65L430.88 37.32L431.60 35.88L429.00 35.20Z M433.34 34.70L433.89 32.25L432.29 32.25L432.84 34.70Z M432.84 35.70L432.29 38.15L433.89 38.15L433.34 35.70Z M432.75 34.75L430.64 33.08L429.93 34.52L432.53 35.20Z M433.64 35.20L436.24 34.52L435.53 33.08L433.42 34.75Z M432.53 35.20L429.93 35.88L430.64 37.32L432.75 35.65Z M433.42 35.65L435.53 37.32L436.24 35.88L433.64 35.20Z M437.98 34.70L438.53 32.25L436.93 32.25L437.48 34.70Z M437.48 35.70L436.93 38.15L438.53 38.15L437.98 35.70Z M437.40 34.75L435.29 33.08L434.57 34.52L437.17 35.20Z M438.29 35.20L440.89 34.52L440.17 33.08L438.07 34.75Z M437.17 35.20L434.57 35.88L435.29 37.32L437.40 35.65Z M438.07 35.65L440.17 37.32L440.89 35.88L438.29 35.20Z M442.63 34.70L443.18 32.25L441.58 32.25L442.13 34.70Z M442.13 35.70L441.58 38.15L443.18 38.15L442.63 35.70Z M442.04 34.75L439.93 33.08L439.22 34.52L441.82 35.20Z M442.94 35.20L445.53 34.52L444.82 33.08L442.71 34.75Z M441.82 35.20L439.22 35.88L439.93 37.32L442.04 35.65Z M442.71 35.65L444.82 37.32L445.53 35.88L442.94 35.20Z M447.27 34.70L447.82 32.25L446.22 32.25L446.77 34.70Z M446.77 35.70L446.22 38.15L447.82 38.15L447.27 35.70Z M446.69 34.75L444.58 33.08L443.87 34.52L446.46 35.20Z M447.58 35.20L450.18 34.52L449.47 33.08L447.36 34.75Z M446.46 35.20L443.87 35.88L444.58 37.32L446.69 35.65Z M447.36 35.65L449.47 37.32L450.18 35.88L447.58 35.20Z M451.92 34.70L452.47 32.25L450.87 32.25L451.42 34.70Z M451.42 35.70L450.87 38.15L452.47 38.15L451.92 35.70Z M451.33 34.75L449.23 33.08L448.51 34.52L451.11 35.20Z M452.23 35.20L454.83 34.52L454.11 33.08L452.00 34.75Z M451.11 35.20L448.51 35.88L449.23 37.32L451.33 35.65Z M452.00 35.65L454.11 37.32L454.83 35.88L452.23 35.20Z M456.56 34.70L457.11 32.25L455.51 32.25L456.06 34.70Z M456.06 35.70L455.51 38.15L457.11 38.15L456.56 35.70Z M455.98 34.75L453.87 33.08L453.16 34.52L455.76 35.20Z M456.87 35.20L459.47 34.52L458.76 33.08L456.65 34.75Z M455.76 35.20L453.16 35.88L453.87 37.32L455.98 35.65Z M456.65 35.65L458.76 37.32L459.47 35.88L456.87 35.20Z M461.21 34.70L461.76 32.25L460.16 32.25L460.71 34.70Z M460.71 35.70L460.16 38.15L461.76 38.15L461.21 35.70Z M460.63 34.75L458.52 33.08L457.80 34.52L460.40 35.20Z M461.52 35.20L464.12 34.52L463.40 33.08L461.30 34.75Z M460.40 35.20L457.80 35.88L458.52 37.32L460.63 35.65Z M461.30 35.65L463.40 37.32L464.12 35.88L461.52 35.20Z M465.86 34.70L466.41 32.25L464.81 32.25L465.36 34.70Z M465.36 35.70L464.81 38.15L466.41 38.15L465.86 35.70Z M465.27 34.75L463.16 33.08L462.45 34.52L465.05 35.20Z M466.17 35.20L468.76 34.52L468.05 33.08L465.94 34.75Z M465.05 35.20L462.45 35.88L463.16 37.32L465.27 35.65Z M465.94 35.65L468.05 37.32L468.76 35.88L466.17 35.20Z M470.50 34.70L471.05 32.25L469.45 32.25L470.00 34.70Z M470.00 35.70L469.45 38.15L471.05 38.15L470.50 35.70Z M469.92 34.75L467.81 33.08L467.09 34.52L469.69 35.20Z M470.81 35.20L473.41 34.52L472.69 33.08L470.59 34.75Z M469.69 35.20L467.09 35.88L467.81 37.32L469.92 35.65Z M470.59 35.65L472.69 37.32L473.41 35.88L470.81 35.20Z M382.23 62.40L382.78 59.95L381.18 59.95L381.73 62.40Z M381.73 63.40L381.18 65.85L382.78 65.85L382.23 63.40Z M381.65 62.45L379.54 60.78L378.82 62.22L381.42 62.90Z M382.54 62.90L385.14 62.22L384.42 60.78L382.32 62.45Z M381.42 62.90L378.82 63.58L379.54 65.02L381.65 63.35Z M382.32 63.35L384.42 65.02L385.14 63.58L382.54 62.90Z M386.88 62.40L387.43 59.95L385.83 59.95L386.38 62.40Z M386.38 63.40L385.83 65.85L387.43 65.85L386.88 63.40Z M386.29 62.45L384.18 60.78L383.47 62.22L386.07 62.90Z M387.19 62.90L389.78 62.22L389.07 60.78L386.96 62.45Z M386.07 62.90L383.47 63.58L384.18 65.02L386.29 63.35Z M386.96 63.35L389.07 65.02L389.78 63.58L387.19 62.90Z M391.52 62.40L392.07 59.95L390.47 59.95L391.02 62.40Z M391.02 63.40L390.47 65.85L392.07 65.85L391.52 63.40Z M390.94 62.45L388.83 60.78L388.12 62.22L390.71 62.90Z M391.83 62.90L394.43 62.22L393.72 60.78L391.61 62.45Z M390.71 62.90L388.12 63.58L388.83 65.02L390.94 63.35Z M391.61 63.35L393.72 65.02L394.43 63.58L391.83 62.90Z M396.17 62.40L396.72 59.95L395.12 59.95L395.67 62.40Z M395.67 63.40L395.12 65.85L396.72 65.85L396.17 63.40Z M395.58 62.45L393.48 60.78L392.76 62.22L395.36 62.90Z M396.48 62.90L399.08 62.22L398.36 60.78L396.25 62.45Z M395.36 62.90L392.76 63.58L393.48 65.02L395.58 63.35Z M396.25 63.35L398.36 65.02L399.08 63.58L396.48 62.90Z M405.46 62.40L406.01 59.95L404.41 59.95L404.96 62.40Z M404.96 63.40L404.41 65.85L406.01 65.85L405.46 63.40Z M404.88 62.45L402.77 60.78L402.05 62.22L404.65 62.90Z M405.77 62.90L408.37 62.22L407.65 60.78L405.55 62.45Z M404.65 62.90L402.05 63.58L402.77 65.02L404.88 63.35Z M405.55 63.35L407.65 65.02L408.37 63.58L405.77 62.90Z M414.75 62.40L415.30 59.95L413.70 59.95L414.25 62.40Z M414.25 63.40L413.70 65.85L415.30 65.85L414.75 63.40Z M414.17 62.45L412.06 60.78L411.34 62.22L413.94 62.90Z M415.06 62.90L417.66 62.22L416.94 60.78L414.84 62.45Z M413.94 62.90L411.34 63.58L412.06 65.02L414.17 63.35Z M414.84 63.35L416.94 65.02L417.66 63.58L415.06 62.90Z M419.40 62.40L419.95 59.95L418.35 59.95L418.90 62.40Z M418.90 63.40L418.35 65.85L419.95 65.85L419.40 63.40Z M418.81 62.45L416.71 60.78L415.99 62.22L418.59 62.90Z M419.71 62.90L422.31 62.22L421.59 60.78L419.48 62.45Z M418.59 62.90L415.99 63.58L416.71 65.02L418.81 63.35Z M419.48 63.35L421.59 65.02L422.31 63.58L419.71 62.90Z M424.04 62.40L424.59 59.95L422.99 59.95L423.54 62.40Z M423.54 63.40L422.99 65.85L424.59 65.85L424.04 63.40Z M423.46 62.45L421.35 60.78L420.64 62.22L423.23 62.90Z M424.35 62.90L426.95 62.22L426.24 60.78L424.13 62.45Z M423.23 62.90L420.64 63.58L421.35 65.02L423.46 63.35Z M424.13 63.35L426.24 65.02L426.95 63.58L424.35 62.90Z M428.69 62.40L429.24 59.95L427.64 59.95L428.19 62.40Z M428.19 63.40L427.64 65.85L429.24 65.85L428.69 63.40Z M428.10 62.45L426.00 60.78L425.28 62.22L427.88 62.90Z M429.00 62.90L431.60 62.22L430.88 60.78L428.77 62.45Z M427.88 62.90L425.28 63.58L426.00 65.02L428.10 63.35Z M428.77 63.35L430.88 65.02L431.60 63.58L429.00 62.90Z M433.34 62.40L433.89 59.95L432.29 59.95L432.84 62.40Z M432.84 63.40L432.29 65.85L433.89 65.85L433.34 63.40Z M432.75 62.45L430.64 60.78L429.93 62.22L432.53 62.90Z M433.64 62.90L436.24 62.22L435.53 60.78L433.42 62.45Z M432.53 62.90L429.93 63.58L430.64 65.02L432.75 63.35Z M433.42 63.35L435.53 65.02L436.24 63.58L433.64 62.90Z M437.98 62.40L438.53 59.95L436.93 59.95L437.48 62.40Z M437.48 63.40L436.93 65.85L438.53 65.85L437.98 63.40Z M437.40 62.45L435.29 60.78L434.57 62.22L437.17 62.90Z M438.29 62.90L440.89 62.22L440.17 60.78L438.07 62.45Z M437.17 62.90L434.57 63.58L435.29 65.02L437.40 63.35Z M438.07 63.35L440.17 65.02L440.89 63.58L438.29 62.90Z M442.63 62.40L443.18 59.95L441.58 59.95L442.13 62.40Z M442.13 63.40L441.58 65.85L443.18 65.85L442.63 63.40Z M442.04 62.45L439.93 60.78L439.22 62.22L441.82 62.90Z M442.94 62.90L445.53 62.22L444.82 60.78L442.71 62.45Z M441.82 62.90L439.22 63.58L439.93 65.02L442.04 63.35Z M442.71 63.35L444.82 65.02L445.53 63.58L442.94 62.90Z M447.27 62.40L447.82 59.95L446.22 59.95L446.77 62.40Z M446.77 63.40L446.22 65.85L447.82 65.85L447.27 63.40Z M446.69 62.45L444.58 60.78L443.87 62.22L446.46 62.90Z M447.58 62.90L450.18 62.22L449.47 60.78L447.36 62.45Z M446.46 62.90L443.87 63.58L444.58 65.02L446.69 63.35Z M447.36 63.35L449.47 65.02L450.18 63.58L447.58 62.90Z M451.92 62.40L452.47 59.95L450.87 59.95L451.42 62.40Z M451.42 63.40L450.87 65.85L452.47 65.85L451.92 63.40Z M451.33 62.45L449.23 60.78L448.51 62.22L451.11 62.90Z M452.23 62.90L454.83 62.22L454.11 60.78L452.00 62.45Z M451.11 62.90L448.51 63.58L449.23 65.02L451.33 63.35Z M452.00 63.35L454.11 65.02L454.83 63.58L452.23 62.90Z M456.56 62.40L457.11 59.95L455.51 59.95L456.06 62.40Z M456.06 63.40L455.51 65.85L457.11 65.85L456.56 63.40Z M455.98 62.45L453.87 60.78L453.16 62.22L455.76 62.90Z M456.87 62.90L459.47 62.22L458.76 60.78L456.65 62.45Z M455.76 62.90L453.16 63.58L453.87 65.02L455.98 63.35Z M456.65 63.35L458.76 65.02L459.47 63.58L456.87 62.90Z M461.21 62.40L461.76 59.95L460.16 59.95L460.71 62.40Z M460.71 63.40L460.16 65.85L461.76 65.85L461.21 63.40Z M460.63 62.45L458.52 60.78L457.80 62.22L460.40 62.90Z M461.52 62.90L464.12 62.22L463.40 60.78L461.30 62.45Z M460.40 62.90L457.80 63.58L458.52 65.02L460.63 63.35Z M461.30 63.35L463.40 65.02L464.12 63.58L461.52 62.90Z M465.86 62.40L466.41 59.95L464.81 59.95L465.36 62.40Z M465.36 63.40L464.81 65.85L466.41 65.85L465.86 63.40Z M465.27 62.45L463.16 60.78L462.45 62.22L465.05 62.90Z M466.17 62.90L468.76 62.22L468.05 60.78L465.94 62.45Z M465.05 62.90L462.45 63.58L463.16 65.02L465.27 63.35Z M465.94 63.35L468.05 65.02L468.76 63.58L466.17 62.90Z M470.50 62.40L471.05 59.95L469.45 59.95L470.00 62.40Z M470.00 63.40L469.45 65.85L471.05 65.85L470.50 63.40Z M469.92 62.45L467.81 60.78L467.09 62.22L469.69 62.90Z M470.81 62.90L473.41 62.22L472.69 60.78L470.59 62.45Z M469.69 62.90L467.09 63.58L467.81 65.02L469.92 63.35Z M470.59 63.35L472.69 65.02L473.41 63.58L470.81 62.90Z M475.15 62.40L475.70 59.95L474.10 59.95L474.65 62.40Z M474.65 63.40L474.10 65.85L475.70 65.85L475.15 63.40Z M474.56 62.45L472.46 60.78L471.74 62.22L474.34 62.90Z M475.46 62.90L478.06 62.22L477.34 60.78L475.23 62.45Z M474.34 62.90L471.74 63.58L472.46 65.02L474.56 63.35Z M475.23 63.35L477.34 65.02L478.06 63.58L475.46 62.90Z M526.25 62.40L526.80 59.95L525.20 59.95L525.75 62.40Z M525.75 63.40L525.20 65.85L526.80 65.85L526.25 63.40Z M525.67 62.45L523.56 60.78L522.84 62.22L525.44 62.90Z M526.56 62.90L529.16 62.22L528.44 60.78L526.34 62.45Z M525.44 62.90L522.84 63.58L523.56 65.02L525.67 63.35Z M526.34 63.35L528.44 65.02L529.16 63.58L526.56 62.90Z M340.42 92.70L340.97 90.25L339.37 90.25L339.92 92.70Z M339.92 93.70L339.37 96.15L340.97 96.15L340.42 93.70Z M339.83 92.75L337.73 91.08L337.01 92.52L339.61 93.20Z M340.73 93.20L343.33 92.52L342.61 91.08L340.50 92.75Z M339.61 93.20L337.01 93.88L337.73 95.32L339.83 93.65Z M340.50 93.65L342.61 95.32L343.33 93.88L340.73 93.20Z M349.71 92.70L350.26 90.25L348.66 90.25L349.21 92.70Z M349.21 93.70L348.66 96.15L350.26 96.15L349.71 93.70Z M349.13 92.75L347.02 91.08L346.30 92.52L348.90 93.20Z M350.02 93.20L352.62 92.52L351.90 91.08L349.80 92.75Z M348.90 93.20L346.30 93.88L347.02 95.32L349.13 93.65Z M349.80 93.65L351.90 95.32L352.62 93.88L350.02 93.20Z M377.59 92.70L378.14 90.25L376.54 90.25L377.09 92.70Z M377.09 93.70L376.54 96.15L378.14 96.15L377.59 93.70Z M377.00 92.75L374.89 91.08L374.18 92.52L376.78 93.20Z M377.89 93.20L380.49 92.52L379.78 91.08L377.67 92.75Z M376.78 93.20L374.18 93.88L374.89 95.32L377.00 93.65Z M377.67 93.65L379.78 95.32L380.49 93.88L377.89 93.20Z M382.23 92.70L382.78 90.25L381.18 90.25L381.73 92.70Z M381.73 93.70L381.18 96.15L382.78 96.15L382.23 93.70Z M381.65 92.75L379.54 91.08L378.82 92.52L381.42 93.20Z M382.54 93.20L385.14 92.52L384.42 91.08L382.32 92.75Z M381.42 93.20L378.82 93.88L379.54 95.32L381.65 93.65Z M382.32 93.65L384.42 95.32L385.14 93.88L382.54 93.20Z M386.88 92.70L387.43 90.25L385.83 90.25L386.38 92.70Z M386.38 93.70L385.83 96.15L387.43 96.15L386.88 93.70Z M386.29 92.75L384.18 91.08L383.47 92.52L386.07 93.20Z M387.19 93.20L389.78 92.52L389.07 91.08L386.96 92.75Z M386.07 93.20L383.47 93.88L384.18 95.32L386.29 93.65Z M386.96 93.65L389.07 95.32L389.78 93.88L387.19 93.20Z M391.52 92.70L392.07 90.25L390.47 90.25L391.02 92.70Z M391.02 93.70L390.47 96.15L392.07 96.15L391.52 93.70Z M390.94 92.75L388.83 91.08L388.12 92.52L390.71 93.20Z M391.83 93.20L394.43 92.52L393.72 91.08L391.61 92.75Z M390.71 93.20L388.12 93.88L388.83 95.32L390.94 93.65Z M391.61 93.65L393.72 95.32L394.43 93.88L391.83 93.20Z M396.17 92.70L396.72 90.25L395.12 90.25L395.67 92.70Z M395.67 93.70L395.12 96.15L396.72 96.15L396.17 93.70Z M395.58 92.75L393.48 91.08L392.76 92.52L395.36 93.20Z M396.48 93.20L399.08 92.52L398.36 91.08L396.25 92.75Z M395.36 93.20L392.76 93.88L393.48 95.32L395.58 93.65Z M396.25 93.65L398.36 95.32L399.08 93.88L396.48 93.20Z M400.81 92.70L401.36 90.25L399.76 90.25L400.31 92.70Z M400.31 93.70L399.76 96.15L401.36 96.15L400.81 93.70Z M400.23 92.75L398.12 91.08L397.41 92.52L400.01 93.20Z M401.12 93.20L403.72 92.52L403.01 91.08L400.90 92.75Z M400.01 93.20L397.41 93.88L398.12 95.32L400.23 93.65Z M400.90 93.65L403.01 95.32L403.72 93.88L401.12 93.20Z M405.46 92.70L406.01 90.25L404.41 90.25L404.96 92.70Z M404.96 93.70L404.41 96.15L406.01 96.15L405.46 93.70Z M404.88 92.75L402.77 91.08L402.05 92.52L404.65 93.20Z M405.77 93.20L408.37 92.52L407.65 91.08L405.55 92.75Z M404.65 93.20L402.05 93.88L402.77 95.32L404.88 93.65Z M405.55 93.65L407.65 95.32L408.37 93.88L405.77 93.20Z M410.11 92.70L410.66 90.25L409.06 90.25L409.61 92.70Z M409.61 93.70L409.06 96.15L410.66 96.15L410.11 93.70Z M409.52 92.75L407.41 91.08L406.70 92.52L409.30 93.20Z M410.42 93.20L413.01 92.52L412.30 91.08L410.19 92.75Z M409.30 93.20L406.70 93.88L407.41 95.32L409.52 93.65Z M410.19 93.65L412.30 95.32L413.01 93.88L410.42 93.20Z M414.75 92.70L415.30 90.25L413.70 90.25L414.25 92.70Z M414.25 93.70L413.70 96.15L415.30 96.15L414.75 93.70Z M414.17 92.75L412.06 91.08L411.34 92.52L413.94 93.20Z M415.06 93.20L417.66 92.52L416.94 91.08L414.84 92.75Z M413.94 93.20L411.34 93.88L412.06 95.32L414.17 93.65Z M414.84 93.65L416.94 95.32L417.66 93.88L415.06 93.20Z M419.40 92.70L419.95 90.25L418.35 90.25L418.90 92.70Z M418.90 93.70L418.35 96.15L419.95 96.15L419.40 93.70Z M418.81 92.75L416.71 91.08L415.99 92.52L418.59 93.20Z M419.71 93.20L422.31 92.52L421.59 91.08L419.48 92.75Z M418.59 93.20L415.99 93.88L416.71 95.32L418.81 93.65Z M419.48 93.65L421.59 95.32L422.31 93.88L419.71 93.20Z M424.04 92.70L424.59 90.25L422.99 90.25L423.54 92.70Z M423.54 93.70L422.99 96.15L424.59 96.15L424.04 93.70Z M423.46 92.75L421.35 91.08L420.64 92.52L423.23 93.20Z M424.35 93.20L426.95 92.52L426.24 91.08L424.13 92.75Z M423.23 93.20L420.64 93.88L421.35 95.32L423.46 93.65Z M424.13 93.65L426.24 95.32L426.95 93.88L424.35 93.20Z M428.69 92.70L429.24 90.25L427.64 90.25L428.19 92.70Z M428.19 93.70L427.64 96.15L429.24 96.15L428.69 93.70Z M428.10 92.75L426.00 91.08L425.28 92.52L427.88 93.20Z M429.00 93.20L431.60 92.52L430.88 91.08L428.77 92.75Z M427.88 93.20L425.28 93.88L426.00 95.32L428.10 93.65Z M428.77 93.65L430.88 95.32L431.60 93.88L429.00 93.20Z M433.34 92.70L433.89 90.25L432.29 90.25L432.84 92.70Z M432.84 93.70L432.29 96.15L433.89 96.15L433.34 93.70Z M432.75 92.75L430.64 91.08L429.93 92.52L432.53 93.20Z M433.64 93.20L436.24 92.52L435.53 91.08L433.42 92.75Z M432.53 93.20L429.93 93.88L430.64 95.32L432.75 93.65Z M433.42 93.65L435.53 95.32L436.24 93.88L433.64 93.20Z M437.98 92.70L438.53 90.25L436.93 90.25L437.48 92.70Z M437.48 93.70L436.93 96.15L438.53 96.15L437.98 93.70Z M437.40 92.75L435.29 91.08L434.57 92.52L437.17 93.20Z M438.29 93.20L440.89 92.52L440.17 91.08L438.07 92.75Z M437.17 93.20L434.57 93.88L435.29 95.32L437.40 93.65Z M438.07 93.65L440.17 95.32L440.89 93.88L438.29 93.20Z M442.63 92.70L443.18 90.25L441.58 90.25L442.13 92.70Z M442.13 93.70L441.58 96.15L443.18 96.15L442.63 93.70Z M442.04 92.75L439.93 91.08L439.22 92.52L441.82 93.20Z M442.94 93.20L445.53 92.52L444.82 91.08L442.71 92.75Z M441.82 93.20L439.22 93.88L439.93 95.32L442.04 93.65Z M442.71 93.65L444.82 95.32L445.53 93.88L442.94 93.20Z M447.27 92.70L447.82 90.25L446.22 90.25L446.77 92.70Z M446.77 93.70L446.22 96.15L447.82 96.15L447.27 93.70Z M446.69 92.75L444.58 91.08L443.87 92.52L446.46 93.20Z M447.58 93.20L450.18 92.52L449.47 91.08L447.36 92.75Z M446.46 93.20L443.87 93.88L444.58 95.32L446.69 93.65Z M447.36 93.65L449.47 95.32L450.18 93.88L447.58 93.20Z M451.92 92.70L452.47 90.25L450.87 90.25L451.42 92.70Z M451.42 93.70L450.87 96.15L452.47 96.15L451.92 93.70Z M451.33 92.75L449.23 91.08L448.51 92.52L451.11 93.20Z M452.23 93.20L454.83 92.52L454.11 91.08L452.00 92.75Z M451.11 93.20L448.51 93.88L449.23 95.32L451.33 93.65Z M452.00 93.65L454.11 95.32L454.83 93.88L452.23 93.20Z M456.56 92.70L457.11 90.25L455.51 90.25L456.06 92.70Z M456.06 93.70L455.51 96.15L457.11 96.15L456.56 93.70Z M455.98 92.75L453.87 91.08L453.16 92.52L455.76 93.20Z M456.87 93.20L459.47 92.52L458.76 91.08L456.65 92.75Z M455.76 93.20L453.16 93.88L453.87 95.32L455.98 93.65Z M456.65 93.65L458.76 95.32L459.47 93.88L456.87 93.20Z M461.21 92.70L461.76 90.25L460.16 90.25L460.71 92.70Z M460.71 93.70L460.16 96.15L461.76 96.15L461.21 93.70Z M460.63 92.75L458.52 91.08L457.80 92.52L460.40 93.20Z M461.52 93.20L464.12 92.52L463.40 91.08L461.30 92.75Z M460.40 93.20L457.80 93.88L458.52 95.32L460.63 93.65Z M461.30 93.65L463.40 95.32L464.12 93.88L461.52 93.20Z M465.86 92.70L466.41 90.25L464.81 90.25L465.36 92.70Z M465.36 93.70L464.81 96.15L466.41 96.15L465.86 93.70Z M465.27 92.75L463.16 91.08L462.45 92.52L465.05 93.20Z M466.17 93.20L468.76 92.52L468.05 91.08L465.94 92.75Z M465.05 93.20L462.45 93.88L463.16 95.32L465.27 93.65Z M465.94 93.65L468.05 95.32L468.76 93.88L466.17 93.20Z M470.50 92.70L471.05 90.25L469.45 90.25L470.00 92.70Z M470.00 93.70L469.45 96.15L471.05 96.15L470.50 93.70Z M469.92 92.75L467.81 91.08L467.09 92.52L469.69 93.20Z M470.81 93.20L473.41 92.52L472.69 91.08L470.59 92.75Z M469.69 93.20L467.09 93.88L467.81 95.32L469.92 93.65Z M470.59 93.65L472.69 95.32L473.41 93.88L470.81 93.20Z M475.15 92.70L475.70 90.25L474.10 90.25L474.65 92.70Z M474.65 93.70L474.10 96.15L475.70 96.15L475.15 93.70Z M474.56 92.75L472.46 91.08L471.74 92.52L474.34 93.20Z M475.46 93.20L478.06 92.52L477.34 91.08L475.23 92.75Z M474.34 93.20L471.74 93.88L472.46 95.32L474.56 93.65Z M475.23 93.65L477.34 95.32L478.06 93.88L475.46 93.20Z M479.79 92.70L480.34 90.25L478.74 90.25L479.29 92.70Z M479.29 93.70L478.74 96.15L480.34 96.15L479.79 93.70Z M479.21 92.75L477.10 91.08L476.39 92.52L478.98 93.20Z M480.10 93.20L482.70 92.52L481.99 91.08L479.88 92.75Z M478.98 93.20L476.39 93.88L477.10 95.32L479.21 93.65Z M479.88 93.65L481.99 95.32L482.70 93.88L480.10 93.20Z M484.44 92.70L484.99 90.25L483.39 90.25L483.94 92.70Z M483.94 93.70L483.39 96.15L484.99 96.15L484.44 93.70Z M483.85 92.75L481.75 91.08L481.03 92.52L483.63 93.20Z M484.75 93.20L487.35 92.52L486.63 91.08L484.52 92.75Z M483.63 93.20L481.03 93.88L481.75 95.32L483.85 93.65Z M484.52 93.65L486.63 95.32L487.35 93.88L484.75 93.20Z M493.73 92.70L494.28 90.25L492.68 90.25L493.23 92.70Z M493.23 93.70L492.68 96.15L494.28 96.15L493.73 93.70Z M493.15 92.75L491.04 91.08L490.32 92.52L492.92 93.20Z M494.04 93.20L496.64 92.52L495.92 91.08L493.82 92.75Z M492.92 93.20L490.32 93.88L491.04 95.32L493.15 93.65Z M493.82 93.65L495.92 95.32L496.64 93.88L494.04 93.20Z M498.38 92.70L498.93 90.25L497.33 90.25L497.88 92.70Z M497.88 93.70L497.33 96.15L498.93 96.15L498.38 93.70Z M497.79 92.75L495.68 91.08L494.97 92.52L497.57 93.20Z M498.69 93.20L501.28 92.52L500.57 91.08L498.46 92.75Z M497.57 93.20L494.97 93.88L495.68 95.32L497.79 93.65Z M498.46 93.65L500.57 95.32L501.28 93.88L498.69 93.20Z M507.67 92.70L508.22 90.25L506.62 90.25L507.17 92.70Z M507.17 93.70L506.62 96.15L508.22 96.15L507.67 93.70Z M507.08 92.75L504.98 91.08L504.26 92.52L506.86 93.20Z M507.98 93.20L510.58 92.52L509.86 91.08L507.75 92.75Z M506.86 93.20L504.26 93.88L504.98 95.32L507.08 93.65Z M507.75 93.65L509.86 95.32L510.58 93.88L507.98 93.20Z M512.31 92.70L512.86 90.25L511.26 90.25L511.81 92.70Z M511.81 93.70L511.26 96.15L512.86 96.15L512.31 93.70Z M511.73 92.75L509.62 91.08L508.91 92.52L511.51 93.20Z M512.62 93.20L515.22 92.52L514.51 91.08L512.40 92.75Z M511.51 93.20L508.91 93.88L509.62 95.32L511.73 93.65Z M512.40 93.65L514.51 95.32L515.22 93.88L512.62 93.20Z M516.96 92.70L517.51 90.25L515.91 90.25L516.46 92.70Z M516.46 93.70L515.91 96.15L517.51 96.15L516.96 93.70Z M516.38 92.75L514.27 91.08L513.55 92.52L516.15 93.20Z M517.27 93.20L519.87 92.52L519.15 91.08L517.05 92.75Z M516.15 93.20L513.55 93.88L514.27 95.32L516.38 93.65Z M517.05 93.65L519.15 95.32L519.87 93.88L517.27 93.20Z M521.61 92.70L522.16 90.25L520.56 90.25L521.11 92.70Z M521.11 93.70L520.56 96.15L522.16 96.15L521.61 93.70Z M521.02 92.75L518.91 91.08L518.20 92.52L520.80 93.20Z M521.92 93.20L524.51 92.52L523.80 91.08L521.69 92.75Z M520.80 93.20L518.20 93.88L518.91 95.32L521.02 93.65Z M521.69 93.65L523.80 95.32L524.51 93.88L521.92 93.20Z M526.25 92.70L526.80 90.25L525.20 90.25L525.75 92.70Z M525.75 93.70L525.20 96.15L526.80 96.15L526.25 93.70Z M525.67 92.75L523.56 91.08L522.84 92.52L525.44 93.20Z M526.56 93.20L529.16 92.52L528.44 91.08L526.34 92.75Z M525.44 93.20L522.84 93.88L523.56 95.32L525.67 93.65Z M526.34 93.65L528.44 95.32L529.16 93.88L526.56 93.20Z M530.90 92.70L531.45 90.25L529.85 90.25L530.40 92.70Z M530.40 93.70L529.85 96.15L531.45 96.15L530.90 93.70Z M530.31 92.75L528.21 91.08L527.49 92.52L530.09 93.20Z M531.21 93.20L533.81 92.52L533.09 91.08L530.98 92.75Z M530.09 93.20L527.49 93.88L528.21 95.32L530.31 93.65Z M530.98 93.65L533.09 95.32L533.81 93.88L531.21 93.20Z M535.54 92.70L536.09 90.25L534.49 90.25L535.04 92.70Z M535.04 93.70L534.49 96.15L536.09 96.15L535.54 93.70Z M534.96 92.75L532.85 91.08L532.14 92.52L534.73 93.20Z M535.85 93.20L538.45 92.52L537.74 91.08L535.63 92.75Z M534.73 93.20L532.14 93.88L532.85 95.32L534.96 93.65Z M535.63 93.65L537.74 95.32L538.45 93.88L535.85 93.20Z M544.84 92.70L545.39 90.25L543.79 90.25L544.34 92.70Z M544.34 93.70L543.79 96.15L545.39 96.15L544.84 93.70Z M544.25 92.75L542.14 91.08L541.43 92.52L544.03 93.20Z M545.14 93.20L547.74 92.52L547.03 91.08L544.92 92.75Z M544.03 93.20L541.43 93.88L542.14 95.32L544.25 93.65Z M544.92 93.65L547.03 95.32L547.74 93.88L545.14 93.20Z M549.48 92.70L550.03 90.25L548.43 90.25L548.98 92.70Z M548.98 93.70L548.43 96.15L550.03 96.15L549.48 93.70Z M548.90 92.75L546.79 91.08L546.07 92.52L548.67 93.20Z M549.79 93.20L552.39 92.52L551.67 91.08L549.57 92.75Z M548.67 93.20L546.07 93.88L546.79 95.32L548.90 93.65Z M549.57 93.65L551.67 95.32L552.39 93.88L549.79 93.20Z M554.13 92.70L554.68 90.25L553.08 90.25L553.63 92.70Z M553.63 93.70L553.08 96.15L554.68 96.15L554.13 93.70Z M553.54 92.75L551.43 91.08L550.72 92.52L553.32 93.20Z M554.44 93.20L557.03 92.52L556.32 91.08L554.21 92.75Z M553.32 93.20L550.72 93.88L551.43 95.32L553.54 93.65Z M554.21 93.65L556.32 95.32L557.03 93.88L554.44 93.20Z M335.77 126.90L336.32 124.45L334.72 124.45L335.27 126.90Z M335.27 127.90L334.72 130.35L336.32 130.35L335.77 127.90Z M335.19 126.95L333.08 125.28L332.37 126.72L334.96 127.40Z M336.08 127.40L338.68 126.72L337.97 125.28L335.86 126.95Z M334.96 127.40L332.37 128.08L333.08 129.52L335.19 127.85Z M335.86 127.85L337.97 129.52L338.68 128.08L336.08 127.40Z M340.42 126.90L340.97 124.45L339.37 124.45L339.92 126.90Z M339.92 127.90L339.37 130.35L340.97 130.35L340.42 127.90Z M339.83 126.95L337.73 125.28L337.01 126.72L339.61 127.40Z M340.73 127.40L343.33 126.72L342.61 125.28L340.50 126.95Z M339.61 127.40L337.01 128.08L337.73 129.52L339.83 127.85Z M340.50 127.85L342.61 129.52L343.33 128.08L340.73 127.40Z M349.71 126.90L350.26 124.45L348.66 124.45L349.21 126.90Z M349.21 127.90L348.66 130.35L350.26 130.35L349.71 127.90Z M349.13 126.95L347.02 125.28L346.30 126.72L348.90 127.40Z M350.02 127.40L352.62 126.72L351.90 125.28L349.80 126.95Z M348.90 127.40L346.30 128.08L347.02 129.52L349.13 127.85Z M349.80 127.85L351.90 129.52L352.62 128.08L350.02 127.40Z M354.36 126.90L354.91 124.45L353.31 124.45L353.86 126.90Z M353.86 127.90L353.31 130.35L354.91 130.35L354.36 127.90Z M353.77 126.95L351.66 125.28L350.95 126.72L353.55 127.40Z M354.67 127.40L357.26 126.72L356.55 125.28L354.44 126.95Z M353.55 127.40L350.95 128.08L351.66 129.52L353.77 127.85Z M354.44 127.85L356.55 129.52L357.26 128.08L354.67 127.40Z M377.59 126.90L378.14 124.45L376.54 124.45L377.09 126.90Z M377.09 127.90L376.54 130.35L378.14 130.35L377.59 127.90Z M377.00 126.95L374.89 125.28L374.18 126.72L376.78 127.40Z M377.89 127.40L380.49 126.72L379.78 125.28L377.67 126.95Z M376.78 127.40L374.18 128.08L374.89 129.52L377.00 127.85Z M377.67 127.85L379.78 129.52L380.49 128.08L377.89 127.40Z M382.23 126.90L382.78 124.45L381.18 124.45L381.73 126.90Z M381.73 127.90L381.18 130.35L382.78 130.35L382.23 127.90Z M381.65 126.95L379.54 125.28L378.82 126.72L381.42 127.40Z M382.54 127.40L385.14 126.72L384.42 125.28L382.32 126.95Z M381.42 127.40L378.82 128.08L379.54 129.52L381.65 127.85Z M382.32 127.85L384.42 129.52L385.14 128.08L382.54 127.40Z M386.88 126.90L387.43 124.45L385.83 124.45L386.38 126.90Z M386.38 127.90L385.83 130.35L387.43 130.35L386.88 127.90Z M386.29 126.95L384.18 125.28L383.47 126.72L386.07 127.40Z M387.19 127.40L389.78 126.72L389.07 125.28L386.96 126.95Z M386.07 127.40L383.47 128.08L384.18 129.52L386.29 127.85Z M386.96 127.85L389.07 129.52L389.78 128.08L387.19 127.40Z M391.52 126.90L392.07 124.45L390.47 124.45L391.02 126.90Z M391.02 127.90L390.47 130.35L392.07 130.35L391.52 127.90Z M390.94 126.95L388.83 125.28L388.12 126.72L390.71 127.40Z M391.83 127.40L394.43 126.72L393.72 125.28L391.61 126.95Z M390.71 127.40L388.12 128.08L388.83 129.52L390.94 127.85Z M391.61 127.85L393.72 129.52L394.43 128.08L391.83 127.40Z M396.17 126.90L396.72 124.45L395.12 124.45L395.67 126.90Z M395.67 127.90L395.12 130.35L396.72 130.35L396.17 127.90Z M395.58 126.95L393.48 125.28L392.76 126.72L395.36 127.40Z M396.48 127.40L399.08 126.72L398.36 125.28L396.25 126.95Z M395.36 127.40L392.76 128.08L393.48 129.52L395.58 127.85Z M396.25 127.85L398.36 129.52L399.08 128.08L396.48 127.40Z M400.81 126.90L401.36 124.45L399.76 124.45L400.31 126.90Z M400.31 127.90L399.76 130.35L401.36 130.35L400.81 127.90Z M400.23 126.95L398.12 125.28L397.41 126.72L400.01 127.40Z M401.12 127.40L403.72 126.72L403.01 125.28L400.90 126.95Z M400.01 127.40L397.41 128.08L398.12 129.52L400.23 127.85Z M400.90 127.85L403.01 129.52L403.72 128.08L401.12 127.40Z M405.46 126.90L406.01 124.45L404.41 124.45L404.96 126.90Z M404.96 127.90L404.41 130.35L406.01 130.35L405.46 127.90Z M404.88 126.95L402.77 125.28L402.05 126.72L404.65 127.40Z M405.77 127.40L408.37 126.72L407.65 125.28L405.55 126.95Z M404.65 127.40L402.05 128.08L402.77 129.52L404.88 127.85Z M405.55 127.85L407.65 129.52L408.37 128.08L405.77 127.40Z M410.11 126.90L410.66 124.45L409.06 124.45L409.61 126.90Z M409.61 127.90L409.06 130.35L410.66 130.35L410.11 127.90Z M409.52 126.95L407.41 125.28L406.70 126.72L409.30 127.40Z M410.42 127.40L413.01 126.72L412.30 125.28L410.19 126.95Z M409.30 127.40L406.70 128.08L407.41 129.52L409.52 127.85Z M410.19 127.85L412.30 129.52L413.01 128.08L410.42 127.40Z M414.75 126.90L415.30 124.45L413.70 124.45L414.25 126.90Z M414.25 127.90L413.70 130.35L415.30 130.35L414.75 127.90Z M414.17 126.95L412.06 125.28L411.34 126.72L413.94 127.40Z M415.06 127.40L417.66 126.72L416.94 125.28L414.84 126.95Z M413.94 127.40L411.34 128.08L412.06 129.52L414.17 127.85Z M414.84 127.85L416.94 129.52L417.66 128.08L415.06 127.40Z M419.40 126.90L419.95 124.45L418.35 124.45L418.90 126.90Z M418.90 127.90L418.35 130.35L419.95 130.35L419.40 127.90Z M418.81 126.95L416.71 125.28L415.99 126.72L418.59 127.40Z M419.71 127.40L422.31 126.72L421.59 125.28L419.48 126.95Z M418.59 127.40L415.99 128.08L416.71 129.52L418.81 127.85Z M419.48 127.85L421.59 129.52L422.31 128.08L419.71 127.40Z M424.04 126.90L424.59 124.45L422.99 124.45L423.54 126.90Z M423.54 127.90L422.99 130.35L424.59 130.35L424.04 127.90Z M423.46 126.95L421.35 125.28L420.64 126.72L423.23 127.40Z M424.35 127.40L426.95 126.72L426.24 125.28L424.13 126.95Z M423.23 127.40L420.64 128.08L421.35 129.52L423.46 127.85Z M424.13 127.85L426.24 129.52L426.95 128.08L424.35 127.40Z M428.69 126.90L429.24 124.45L427.64 124.45L428.19 126.90Z M428.19 127.90L427.64 130.35L429.24 130.35L428.69 127.90Z M428.10 126.95L426.00 125.28L425.28 126.72L427.88 127.40Z M429.00 127.40L431.60 126.72L430.88 125.28L428.77 126.95Z M427.88 127.40L425.28 128.08L426.00 129.52L428.10 127.85Z M428.77 127.85L430.88 129.52L431.60 128.08L429.00 127.40Z M433.34 126.90L433.89 124.45L432.29 124.45L432.84 126.90Z M432.84 127.90L432.29 130.35L433.89 130.35L433.34 127.90Z M432.75 126.95L430.64 125.28L429.93 126.72L432.53 127.40Z M433.64 127.40L436.24 126.72L435.53 125.28L433.42 126.95Z M432.53 127.40L429.93 128.08L430.64 129.52L432.75 127.85Z M433.42 127.85L435.53 129.52L436.24 128.08L433.64 127.40Z M437.98 126.90L438.53 124.45L436.93 124.45L437.48 126.90Z M437.48 127.90L436.93 130.35L438.53 130.35L437.98 127.90Z M437.40 126.95L435.29 125.28L434.57 126.72L437.17 127.40Z M438.29 127.40L440.89 126.72L440.17 125.28L438.07 126.95Z M437.17 127.40L434.57 128.08L435.29 129.52L437.40 127.85Z M438.07 127.85L440.17 129.52L440.89 128.08L438.29 127.40Z M442.63 126.90L443.18 124.45L441.58 124.45L442.13 126.90Z M442.13 127.90L441.58 130.35L443.18 130.35L442.63 127.90Z M442.04 126.95L439.93 125.28L439.22 126.72L441.82 127.40Z M442.94 127.40L445.53 126.72L444.82 125.28L442.71 126.95Z M441.82 127.40L439.22 128.08L439.93 129.52L442.04 127.85Z M442.71 127.85L444.82 129.52L445.53 128.08L442.94 127.40Z M447.27 126.90L447.82 124.45L446.22 124.45L446.77 126.90Z M446.77 127.90L446.22 130.35L447.82 130.35L447.27 127.90Z M446.69 126.95L444.58 125.28L443.87 126.72L446.46 127.40Z M447.58 127.40L450.18 126.72L449.47 125.28L447.36 126.95Z M446.46 127.40L443.87 128.08L444.58 129.52L446.69 127.85Z M447.36 127.85L449.47 129.52L450.18 128.08L447.58 127.40Z M451.92 126.90L452.47 124.45L450.87 124.45L451.42 126.90Z M451.42 127.90L450.87 130.35L452.47 130.35L451.92 127.90Z M451.33 126.95L449.23 125.28L448.51 126.72L451.11 127.40Z M452.23 127.40L454.83 126.72L454.11 125.28L452.00 126.95Z M451.11 127.40L448.51 128.08L449.23 129.52L451.33 127.85Z M452.00 127.85L454.11 129.52L454.83 128.08L452.23 127.40Z M456.56 126.90L457.11 124.45L455.51 124.45L456.06 126.90Z M456.06 127.90L455.51 130.35L457.11 130.35L456.56 127.90Z M455.98 126.95L453.87 125.28L453.16 126.72L455.76 127.40Z M456.87 127.40L459.47 126.72L458.76 125.28L456.65 126.95Z M455.76 127.40L453.16 128.08L453.87 129.52L455.98 127.85Z M456.65 127.85L458.76 129.52L459.47 128.08L456.87 127.40Z M461.21 126.90L461.76 124.45L460.16 124.45L460.71 126.90Z M460.71 127.90L460.16 130.35L461.76 130.35L461.21 127.90Z M460.63 126.95L458.52 125.28L457.80 126.72L460.40 127.40Z M461.52 127.40L464.12 126.72L463.40 125.28L461.30 126.95Z M460.40 127.40L457.80 128.08L458.52 129.52L460.63 127.85Z M461.30 127.85L463.40 129.52L464.12 128.08L461.52 127.40Z M465.86 126.90L466.41 124.45L464.81 124.45L465.36 126.90Z M465.36 127.90L464.81 130.35L466.41 130.35L465.86 127.90Z M465.27 126.95L463.16 125.28L462.45 126.72L465.05 127.40Z M466.17 127.40L468.76 126.72L468.05 125.28L465.94 126.95Z M465.05 127.40L462.45 128.08L463.16 129.52L465.27 127.85Z M465.94 127.85L468.05 129.52L468.76 128.08L466.17 127.40Z M470.50 126.90L471.05 124.45L469.45 124.45L470.00 126.90Z M470.00 127.90L469.45 130.35L471.05 130.35L470.50 127.90Z M469.92 126.95L467.81 125.28L467.09 126.72L469.69 127.40Z M470.81 127.40L473.41 126.72L472.69 125.28L470.59 126.95Z M469.69 127.40L467.09 128.08L467.81 129.52L469.92 127.85Z M470.59 127.85L472.69 129.52L473.41 128.08L470.81 127.40Z M475.15 126.90L475.70 124.45L474.10 124.45L474.65 126.90Z M474.65 127.90L474.10 130.35L475.70 130.35L475.15 127.90Z M474.56 126.95L472.46 125.28L471.74 126.72L474.34 127.40Z M475.46 127.40L478.06 126.72L477.34 125.28L475.23 126.95Z M474.34 127.40L471.74 128.08L472.46 129.52L474.56 127.85Z M475.23 127.85L477.34 129.52L478.06 128.08L475.46 127.40Z M479.79 126.90L480.34 124.45L478.74 124.45L479.29 126.90Z M479.29 127.90L478.74 130.35L480.34 130.35L479.79 127.90Z M479.21 126.95L477.10 125.28L476.39 126.72L478.98 127.40Z M480.10 127.40L482.70 126.72L481.99 125.28L479.88 126.95Z M478.98 127.40L476.39 128.08L477.10 129.52L479.21 127.85Z M479.88 127.85L481.99 129.52L482.70 128.08L480.10 127.40Z M484.44 126.90L484.99 124.45L483.39 124.45L483.94 126.90Z M483.94 127.90L483.39 130.35L484.99 130.35L484.44 127.90Z M483.85 126.95L481.75 125.28L481.03 126.72L483.63 127.40Z M484.75 127.40L487.35 126.72L486.63 125.28L484.52 126.95Z M483.63 127.40L481.03 128.08L481.75 129.52L483.85 127.85Z M484.52 127.85L486.63 129.52L487.35 128.08L484.75 127.40Z M489.09 126.90L489.64 124.45L488.04 124.45L488.59 126.90Z M488.59 127.90L488.04 130.35L489.64 130.35L489.09 127.90Z M488.50 126.95L486.39 125.28L485.68 126.72L488.28 127.40Z M489.39 127.40L491.99 126.72L491.28 125.28L489.17 126.95Z M488.28 127.40L485.68 128.08L486.39 129.52L488.50 127.85Z M489.17 127.85L491.28 129.52L491.99 128.08L489.39 127.40Z M493.73 126.90L494.28 124.45L492.68 124.45L493.23 126.90Z M493.23 127.90L492.68 130.35L494.28 130.35L493.73 127.90Z M493.15 126.95L491.04 125.28L490.32 126.72L492.92 127.40Z M494.04 127.40L496.64 126.72L495.92 125.28L493.82 126.95Z M492.92 127.40L490.32 128.08L491.04 129.52L493.15 127.85Z M493.82 127.85L495.92 129.52L496.64 128.08L494.04 127.40Z M498.38 126.90L498.93 124.45L497.33 124.45L497.88 126.90Z M497.88 127.90L497.33 130.35L498.93 130.35L498.38 127.90Z M497.79 126.95L495.68 125.28L494.97 126.72L497.57 127.40Z M498.69 127.40L501.28 126.72L500.57 125.28L498.46 126.95Z M497.57 127.40L494.97 128.08L495.68 129.52L497.79 127.85Z M498.46 127.85L500.57 129.52L501.28 128.08L498.69 127.40Z M503.02 126.90L503.57 124.45L501.97 124.45L502.52 126.90Z M502.52 127.90L501.97 130.35L503.57 130.35L503.02 127.90Z M502.44 126.95L500.33 125.28L499.62 126.72L502.21 127.40Z M503.33 127.40L505.93 126.72L505.22 125.28L503.11 126.95Z M502.21 127.40L499.62 128.08L500.33 129.52L502.44 127.85Z M503.11 127.85L505.22 129.52L505.93 128.08L503.33 127.40Z M507.67 126.90L508.22 124.45L506.62 124.45L507.17 126.90Z M507.17 127.90L506.62 130.35L508.22 130.35L507.67 127.90Z M507.08 126.95L504.98 125.28L504.26 126.72L506.86 127.40Z M507.98 127.40L510.58 126.72L509.86 125.28L507.75 126.95Z M506.86 127.40L504.26 128.08L504.98 129.52L507.08 127.85Z M507.75 127.85L509.86 129.52L510.58 128.08L507.98 127.40Z M512.31 126.90L512.86 124.45L511.26 124.45L511.81 126.90Z M511.81 127.90L511.26 130.35L512.86 130.35L512.31 127.90Z M511.73 126.95L509.62 125.28L508.91 126.72L511.51 127.40Z M512.62 127.40L515.22 126.72L514.51 125.28L512.40 126.95Z M511.51 127.40L508.91 128.08L509.62 129.52L511.73 127.85Z M512.40 127.85L514.51 129.52L515.22 128.08L512.62 127.40Z M516.96 126.90L517.51 124.45L515.91 124.45L516.46 126.90Z M516.46 127.90L515.91 130.35L517.51 130.35L516.96 127.90Z M516.38 126.95L514.27 125.28L513.55 126.72L516.15 127.40Z M517.27 127.40L519.87 126.72L519.15 125.28L517.05 126.95Z M516.15 127.40L513.55 128.08L514.27 129.52L516.38 127.85Z M517.05 127.85L519.15 129.52L519.87 128.08L517.27 127.40Z M526.25 126.90L526.80 124.45L525.20 124.45L525.75 126.90Z M525.75 127.90L525.20 130.35L526.80 130.35L526.25 127.90Z M525.67 126.95L523.56 125.28L522.84 126.72L525.44 127.40Z M526.56 127.40L529.16 126.72L528.44 125.28L526.34 126.95Z M525.44 127.40L522.84 128.08L523.56 129.52L525.67 127.85Z M526.34 127.85L528.44 129.52L529.16 128.08L526.56 127.40Z M544.84 126.90L545.39 124.45L543.79 124.45L544.34 126.90Z M544.34 127.90L543.79 130.35L545.39 130.35L544.84 127.90Z M544.25 126.95L542.14 125.28L541.43 126.72L544.03 127.40Z M545.14 127.40L547.74 126.72L547.03 125.28L544.92 126.95Z M544.03 127.40L541.43 128.08L542.14 129.52L544.25 127.85Z M544.92 127.85L547.03 129.52L547.74 128.08L545.14 127.40Z M554.13 126.90L554.68 124.45L553.08 124.45L553.63 126.90Z M553.63 127.90L553.08 130.35L554.68 130.35L554.13 127.90Z M553.54 126.95L551.43 125.28L550.72 126.72L553.32 127.40Z M554.44 127.40L557.03 126.72L556.32 125.28L554.21 126.95Z M553.32 127.40L550.72 128.08L551.43 129.52L553.54 127.85Z M554.21 127.85L556.32 129.52L557.03 128.08L554.44 127.40Z M406.86 157.70L407.41 155.25L405.81 155.25L406.36 157.70Z M406.36 158.70L405.81 161.15L407.41 161.15L406.86 158.70Z M406.28 157.75L404.17 156.08L403.45 157.52L406.05 158.20Z M407.17 158.20L409.77 157.52L409.05 156.08L406.95 157.75Z M406.05 158.20L403.45 158.88L404.17 160.32L406.28 158.65Z M406.95 158.65L409.05 160.32L409.77 158.88L407.17 158.20Z M416.15 157.70L416.70 155.25L415.10 155.25L415.65 157.70Z M415.65 158.70L415.10 161.15L416.70 161.15L416.15 158.70Z M415.57 157.75L413.46 156.08L412.74 157.52L415.34 158.20Z M416.46 158.20L419.06 157.52L418.34 156.08L416.24 157.75Z M415.34 158.20L412.74 158.88L413.46 160.32L415.57 158.65Z M416.24 158.65L418.34 160.32L419.06 158.88L416.46 158.20Z M434.74 157.70L435.29 155.25L433.69 155.25L434.24 157.70Z M434.24 158.70L433.69 161.15L435.29 161.15L434.74 158.70Z M434.15 157.75L432.04 156.08L431.33 157.52L433.93 158.20Z M435.04 158.20L437.64 157.52L436.93 156.08L434.82 157.75Z M433.93 158.20L431.33 158.88L432.04 160.32L434.15 158.65Z M434.82 158.65L436.93 160.32L437.64 158.88L435.04 158.20Z M439.38 157.70L439.93 155.25L438.33 155.25L438.88 157.70Z M438.88 158.70L438.33 161.15L439.93 161.15L439.38 158.70Z M438.80 157.75L436.69 156.08L435.97 157.52L438.57 158.20Z M439.69 158.20L442.29 157.52L441.57 156.08L439.47 157.75Z M438.57 158.20L435.97 158.88L436.69 160.32L438.80 158.65Z M439.47 158.65L441.57 160.32L442.29 158.88L439.69 158.20Z M444.03 157.70L444.58 155.25L442.98 155.25L443.53 157.70Z M443.53 158.70L442.98 161.15L444.58 161.15L444.03 158.70Z M443.44 157.75L441.33 156.08L440.62 157.52L443.22 158.20Z M444.34 158.20L446.93 157.52L446.22 156.08L444.11 157.75Z M443.22 158.20L440.62 158.88L441.33 160.32L443.44 158.65Z M444.11 158.65L446.22 160.32L446.93 158.88L444.34 158.20Z M448.67 157.70L449.22 155.25L447.62 155.25L448.17 157.70Z M448.17 158.70L447.62 161.15L449.22 161.15L448.67 158.70Z M448.09 157.75L445.98 156.08L445.27 157.52L447.86 158.20Z M448.98 158.20L451.58 157.52L450.87 156.08L448.76 157.75Z M447.86 158.20L445.27 158.88L445.98 160.32L448.09 158.65Z M448.76 158.65L450.87 160.32L451.58 158.88L448.98 158.20Z M453.32 157.70L453.87 155.25L452.27 155.25L452.82 157.70Z M452.82 158.70L452.27 161.15L453.87 161.15L453.32 158.70Z M452.73 157.75L450.63 156.08L449.91 157.52L452.51 158.20Z M453.63 158.20L456.23 157.52L455.51 156.08L453.40 157.75Z M452.51 158.20L449.91 158.88L450.63 160.32L452.73 158.65Z M453.40 158.65L455.51 160.32L456.23 158.88L453.63 158.20Z M457.96 157.70L458.51 155.25L456.91 155.25L457.46 157.70Z M457.46 158.70L456.91 161.15L458.51 161.15L457.96 158.70Z M457.38 157.75L455.27 156.08L454.56 157.52L457.16 158.20Z M458.27 158.20L460.87 157.52L460.16 156.08L458.05 157.75Z M457.16 158.20L454.56 158.88L455.27 160.32L457.38 158.65Z M458.05 158.65L460.16 160.32L460.87 158.88L458.27 158.20Z M462.61 157.70L463.16 155.25L461.56 155.25L462.11 157.70Z M462.11 158.70L461.56 161.15L463.16 161.15L462.61 158.70Z M462.03 157.75L459.92 156.08L459.20 157.52L461.80 158.20Z M462.92 158.20L465.52 157.52L464.80 156.08L462.70 157.75Z M461.80 158.20L459.20 158.88L459.92 160.32L462.03 158.65Z M462.70 158.65L464.80 160.32L465.52 158.88L462.92 158.20Z M467.26 157.70L467.81 155.25L466.21 155.25L466.76 157.70Z M466.76 158.70L466.21 161.15L467.81 161.15L467.26 158.70Z M466.67 157.75L464.56 156.08L463.85 157.52L466.45 158.20Z M467.57 158.20L470.16 157.52L469.45 156.08L467.34 157.75Z M466.45 158.20L463.85 158.88L464.56 160.32L466.67 158.65Z M467.34 158.65L469.45 160.32L470.16 158.88L467.57 158.20Z M471.90 157.70L472.45 155.25L470.85 155.25L471.40 157.70Z M471.40 158.70L470.85 161.15L472.45 161.15L471.90 158.70Z M471.32 157.75L469.21 156.08L468.49 157.52L471.09 158.20Z M472.21 158.20L474.81 157.52L474.09 156.08L471.99 157.75Z M471.09 158.20L468.49 158.88L469.21 160.32L471.32 158.65Z M471.99 158.65L474.09 160.32L474.81 158.88L472.21 158.20Z M476.55 157.70L477.10 155.25L475.50 155.25L476.05 157.70Z M476.05 158.70L475.50 161.15L477.10 161.15L476.55 158.70Z M475.96 157.75L473.86 156.08L473.14 157.52L475.74 158.20Z M476.86 158.20L479.46 157.52L478.74 156.08L476.63 157.75Z M475.74 158.20L473.14 158.88L473.86 160.32L475.96 158.65Z M476.63 158.65L478.74 160.32L479.46 158.88L476.86 158.20Z M481.19 157.70L481.74 155.25L480.14 155.25L480.69 157.70Z M480.69 158.70L480.14 161.15L481.74 161.15L481.19 158.70Z M480.61 157.75L478.50 156.08L477.79 157.52L480.38 158.20Z M481.50 158.20L484.10 157.52L483.39 156.08L481.28 157.75Z M480.38 158.20L477.79 158.88L478.50 160.32L480.61 158.65Z M481.28 158.65L483.39 160.32L484.10 158.88L481.50 158.20Z M80.77 211.90L81.32 209.45L79.72 209.45L80.27 211.90Z M80.27 212.90L79.72 215.35L81.32 215.35L80.77 212.90Z M80.19 211.95L78.08 210.28L77.37 211.72L79.96 212.40Z M81.08 212.40L83.68 211.72L82.97 210.28L80.86 211.95Z M79.96 212.40L77.37 213.08L78.08 214.52L80.19 212.85Z M80.86 212.85L82.97 214.52L83.68 213.08L81.08 212.40Z M85.42 211.90L85.97 209.45L84.37 209.45L84.92 211.90Z M84.92 212.90L84.37 215.35L85.97 215.35L85.42 212.90Z M84.83 211.95L82.73 210.28L82.01 211.72L84.61 212.40Z M85.73 212.40L88.33 211.72L87.61 210.28L85.50 211.95Z M84.61 212.40L82.01 213.08L82.73 214.52L84.83 212.85Z M85.50 212.85L87.61 214.52L88.33 213.08L85.73 212.40Z M90.06 211.90L90.61 209.45L89.01 209.45L89.56 211.90Z M89.56 212.90L89.01 215.35L90.61 215.35L90.06 212.90Z M89.48 211.95L87.37 210.28L86.66 211.72L89.26 212.40Z M90.37 212.40L92.97 211.72L92.26 210.28L90.15 211.95Z M89.26 212.40L86.66 213.08L87.37 214.52L89.48 212.85Z M90.15 212.85L92.26 214.52L92.97 213.08L90.37 212.40Z M94.71 211.90L95.26 209.45L93.66 209.45L94.21 211.90Z M94.21 212.90L93.66 215.35L95.26 215.35L94.71 212.90Z M94.13 211.95L92.02 210.28L91.30 211.72L93.90 212.40Z M95.02 212.40L97.62 211.72L96.90 210.28L94.80 211.95Z M93.90 212.40L91.30 213.08L92.02 214.52L94.13 212.85Z M94.80 212.85L96.90 214.52L97.62 213.08L95.02 212.40Z M173.69 211.90L174.24 209.45L172.64 209.45L173.19 211.90Z M173.19 212.90L172.64 215.35L174.24 215.35L173.69 212.90Z M173.10 211.95L171.00 210.28L170.28 211.72L172.88 212.40Z M174.00 212.40L176.60 211.72L175.88 210.28L173.77 211.95Z M172.88 212.40L170.28 213.08L171.00 214.52L173.10 212.85Z M173.77 212.85L175.88 214.52L176.60 213.08L174.00 212.40Z M178.34 211.90L178.89 209.45L177.29 209.45L177.84 211.90Z M177.84 212.90L177.29 215.35L178.89 215.35L178.34 212.90Z M177.75 211.95L175.64 210.28L174.93 211.72L177.53 212.40Z M178.64 212.40L181.24 211.72L180.53 210.28L178.42 211.95Z M177.53 212.40L174.93 213.08L175.64 214.52L177.75 212.85Z M178.42 212.85L180.53 214.52L181.24 213.08L178.64 212.40Z M182.98 211.90L183.53 209.45L181.93 209.45L182.48 211.90Z M182.48 212.90L181.93 215.35L183.53 215.35L182.98 212.90Z M182.40 211.95L180.29 210.28L179.57 211.72L182.17 212.40Z M183.29 212.40L185.89 211.72L185.17 210.28L183.07 211.95Z M182.17 212.40L179.57 213.08L180.29 214.52L182.40 212.85Z M183.07 212.85L185.17 214.52L185.89 213.08L183.29 212.40Z M187.63 211.90L188.18 209.45L186.58 209.45L187.13 211.90Z M187.13 212.90L186.58 215.35L188.18 215.35L187.63 212.90Z M187.04 211.95L184.93 210.28L184.22 211.72L186.82 212.40Z M187.94 212.40L190.53 211.72L189.82 210.28L187.71 211.95Z M186.82 212.40L184.22 213.08L184.93 214.52L187.04 212.85Z M187.71 212.85L189.82 214.52L190.53 213.08L187.94 212.40Z M192.27 211.90L192.82 209.45L191.22 209.45L191.77 211.90Z M191.77 212.90L191.22 215.35L192.82 215.35L192.27 212.90Z M191.69 211.95L189.58 210.28L188.87 211.72L191.46 212.40Z M192.58 212.40L195.18 211.72L194.47 210.28L192.36 211.95Z M191.46 212.40L188.87 213.08L189.58 214.52L191.69 212.85Z M192.36 212.85L194.47 214.52L195.18 213.08L192.58 212.40Z M196.92 211.90L197.47 209.45L195.87 209.45L196.42 211.90Z M196.42 212.90L195.87 215.35L197.47 215.35L196.92 212.90Z M196.33 211.95L194.23 210.28L193.51 211.72L196.11 212.40Z M197.23 212.40L199.83 211.72L199.11 210.28L197.00 211.95Z M196.11 212.40L193.51 213.08L194.23 214.52L196.33 212.85Z M197.00 212.85L199.11 214.52L199.83 213.08L197.23 212.40Z M201.56 211.90L202.11 209.45L200.51 209.45L201.06 211.90Z M201.06 212.90L200.51 215.35L202.11 215.35L201.56 212.90Z M200.98 211.95L198.87 210.28L198.16 211.72L200.76 212.40Z M201.87 212.40L204.47 211.72L203.76 210.28L201.65 211.95Z M200.76 212.40L198.16 213.08L198.87 214.52L200.98 212.85Z M201.65 212.85L203.76 214.52L204.47 213.08L201.87 212.40Z M206.21 211.90L206.76 209.45L205.16 209.45L205.71 211.90Z M205.71 212.90L205.16 215.35L206.76 215.35L206.21 212.90Z M205.63 211.95L203.52 210.28L202.80 211.72L205.40 212.40Z M206.52 212.40L209.12 211.72L208.40 210.28L206.30 211.95Z M205.40 212.40L202.80 213.08L203.52 214.52L205.63 212.85Z M206.30 212.85L208.40 214.52L209.12 213.08L206.52 212.40Z M210.86 211.90L211.41 209.45L209.81 209.45L210.36 211.90Z M210.36 212.90L209.81 215.35L211.41 215.35L210.86 212.90Z M210.27 211.95L208.16 210.28L207.45 211.72L210.05 212.40Z M211.17 212.40L213.76 211.72L213.05 210.28L210.94 211.95Z M210.05 212.40L207.45 213.08L208.16 214.52L210.27 212.85Z M210.94 212.85L213.05 214.52L213.76 213.08L211.17 212.40Z M220.15 211.90L220.70 209.45L219.10 209.45L219.65 211.90Z M219.65 212.90L219.10 215.35L220.70 215.35L220.15 212.90Z M219.56 211.95L217.46 210.28L216.74 211.72L219.34 212.40Z M220.46 212.40L223.06 211.72L222.34 210.28L220.23 211.95Z M219.34 212.40L216.74 213.08L217.46 214.52L219.56 212.85Z M220.23 212.85L222.34 214.52L223.06 213.08L220.46 212.40Z M224.79 211.90L225.34 209.45L223.74 209.45L224.29 211.90Z M224.29 212.90L223.74 215.35L225.34 215.35L224.79 212.90Z M224.21 211.95L222.10 210.28L221.39 211.72L223.98 212.40Z M225.10 212.40L227.70 211.72L226.99 210.28L224.88 211.95Z M223.98 212.40L221.39 213.08L222.10 214.52L224.21 212.85Z M224.88 212.85L226.99 214.52L227.70 213.08L225.10 212.40Z M229.44 211.90L229.99 209.45L228.39 209.45L228.94 211.90Z M228.94 212.90L228.39 215.35L229.99 215.35L229.44 212.90Z M228.85 211.95L226.75 210.28L226.03 211.72L228.63 212.40Z M229.75 212.40L232.35 211.72L231.63 210.28L229.52 211.95Z M228.63 212.40L226.03 213.08L226.75 214.52L228.85 212.85Z M229.52 212.85L231.63 214.52L232.35 213.08L229.75 212.40Z M234.09 211.90L234.64 209.45L233.04 209.45L233.59 211.90Z M233.59 212.90L233.04 215.35L234.64 215.35L234.09 212.90Z M233.50 211.95L231.39 210.28L230.68 211.72L233.28 212.40Z M234.39 212.40L236.99 211.72L236.28 210.28L234.17 211.95Z M233.28 212.40L230.68 213.08L231.39 214.52L233.50 212.85Z M234.17 212.85L236.28 214.52L236.99 213.08L234.39 212.40Z M238.73 211.90L239.28 209.45L237.68 209.45L238.23 211.90Z M238.23 212.90L237.68 215.35L239.28 215.35L238.73 212.90Z M238.15 211.95L236.04 210.28L235.32 211.72L237.92 212.40Z M239.04 212.40L241.64 211.72L240.92 210.28L238.82 211.95Z M237.92 212.40L235.32 213.08L236.04 214.52L238.15 212.85Z M238.82 212.85L240.92 214.52L241.64 213.08L239.04 212.40Z M243.38 211.90L243.93 209.45L242.33 209.45L242.88 211.90Z M242.88 212.90L242.33 215.35L243.93 215.35L243.38 212.90Z M242.79 211.95L240.68 210.28L239.97 211.72L242.57 212.40Z M243.69 212.40L246.28 211.72L245.57 210.28L243.46 211.95Z M242.57 212.40L239.97 213.08L240.68 214.52L242.79 212.85Z M243.46 212.85L245.57 214.52L246.28 213.08L243.69 212.40Z M252.67 211.90L253.22 209.45L251.62 209.45L252.17 211.90Z M252.17 212.90L251.62 215.35L253.22 215.35L252.67 212.90Z M252.08 211.95L249.98 210.28L249.26 211.72L251.86 212.40Z M252.98 212.40L255.58 211.72L254.86 210.28L252.75 211.95Z M251.86 212.40L249.26 213.08L249.98 214.52L252.08 212.85Z M252.75 212.85L254.86 214.52L255.58 213.08L252.98 212.40Z M261.96 211.90L262.51 209.45L260.91 209.45L261.46 211.90Z M261.46 212.90L260.91 215.35L262.51 215.35L261.96 212.90Z M261.38 211.95L259.27 210.28L258.55 211.72L261.15 212.40Z M262.27 212.40L264.87 211.72L264.15 210.28L262.05 211.95Z M261.15 212.40L258.55 213.08L259.27 214.52L261.38 212.85Z M262.05 212.85L264.15 214.52L264.87 213.08L262.27 212.40Z M80.77 243.60L81.32 241.15L79.72 241.15L80.27 243.60Z M80.27 244.60L79.72 247.05L81.32 247.05L80.77 244.60Z M80.19 243.65L78.08 241.98L77.37 243.42L79.96 244.10Z M81.08 244.10L83.68 243.42L82.97 241.98L80.86 243.65Z M79.96 244.10L77.37 244.78L78.08 246.22L80.19 244.55Z M80.86 244.55L82.97 246.22L83.68 244.78L81.08 244.10Z M85.42 243.60L85.97 241.15L84.37 241.15L84.92 243.60Z M84.92 244.60L84.37 247.05L85.97 247.05L85.42 244.60Z M84.83 243.65L82.73 241.98L82.01 243.42L84.61 244.10Z M85.73 244.10L88.33 243.42L87.61 241.98L85.50 243.65Z M84.61 244.10L82.01 244.78L82.73 246.22L84.83 244.55Z M85.50 244.55L87.61 246.22L88.33 244.78L85.73 244.10Z M90.06 243.60L90.61 241.15L89.01 241.15L89.56 243.60Z M89.56 244.60L89.01 247.05L90.61 247.05L90.06 244.60Z M89.48 243.65L87.37 241.98L86.66 243.42L89.26 244.10Z M90.37 244.10L92.97 243.42L92.26 241.98L90.15 243.65Z M89.26 244.10L86.66 244.78L87.37 246.22L89.48 244.55Z M90.15 244.55L92.26 246.22L92.97 244.78L90.37 244.10Z M94.71 243.60L95.26 241.15L93.66 241.15L94.21 243.60Z M94.21 244.60L93.66 247.05L95.26 247.05L94.71 244.60Z M94.13 243.65L92.02 241.98L91.30 243.42L93.90 244.10Z M95.02 244.10L97.62 243.42L96.90 241.98L94.80 243.65Z M93.90 244.10L91.30 244.78L92.02 246.22L94.13 244.55Z M94.80 244.55L96.90 246.22L97.62 244.78L95.02 244.10Z M169.04 243.60L169.59 241.15L167.99 241.15L168.54 243.60Z M168.54 244.60L167.99 247.05L169.59 247.05L169.04 244.60Z M168.46 243.65L166.35 241.98L165.64 243.42L168.23 244.10Z M169.35 244.10L171.95 243.42L171.24 241.98L169.13 243.65Z M168.23 244.10L165.64 244.78L166.35 246.22L168.46 244.55Z M169.13 244.55L171.24 246.22L171.95 244.78L169.35 244.10Z M173.69 243.60L174.24 241.15L172.64 241.15L173.19 243.60Z M173.19 244.60L172.64 247.05L174.24 247.05L173.69 244.60Z M173.10 243.65L171.00 241.98L170.28 243.42L172.88 244.10Z M174.00 244.10L176.60 243.42L175.88 241.98L173.77 243.65Z M172.88 244.10L170.28 244.78L171.00 246.22L173.10 244.55Z M173.77 244.55L175.88 246.22L176.60 244.78L174.00 244.10Z M178.34 243.60L178.89 241.15L177.29 241.15L177.84 243.60Z M177.84 244.60L177.29 247.05L178.89 247.05L178.34 244.60Z M177.75 243.65L175.64 241.98L174.93 243.42L177.53 244.10Z M178.64 244.10L181.24 243.42L180.53 241.98L178.42 243.65Z M177.53 244.10L174.93 244.78L175.64 246.22L177.75 244.55Z M178.42 244.55L180.53 246.22L181.24 244.78L178.64 244.10Z M182.98 243.60L183.53 241.15L181.93 241.15L182.48 243.60Z M182.48 244.60L181.93 247.05L183.53 247.05L182.98 244.60Z M182.40 243.65L180.29 241.98L179.57 243.42L182.17 244.10Z M183.29 244.10L185.89 243.42L185.17 241.98L183.07 243.65Z M182.17 244.10L179.57 244.78L180.29 246.22L182.40 244.55Z M183.07 244.55L185.17 246.22L185.89 244.78L183.29 244.10Z M187.63 243.60L188.18 241.15L186.58 241.15L187.13 243.60Z M187.13 244.60L186.58 247.05L188.18 247.05L187.63 244.60Z M187.04 243.65L184.93 241.98L184.22 243.42L186.82 244.10Z M187.94 244.10L190.53 243.42L189.82 241.98L187.71 243.65Z M186.82 244.10L184.22 244.78L184.93 246.22L187.04 244.55Z M187.71 244.55L189.82 246.22L190.53 244.78L187.94 244.10Z M192.27 243.60L192.82 241.15L191.22 241.15L191.77 243.60Z M191.77 244.60L191.22 247.05L192.82 247.05L192.27 244.60Z M191.69 243.65L189.58 241.98L188.87 243.42L191.46 244.10Z M192.58 244.10L195.18 243.42L194.47 241.98L192.36 243.65Z M191.46 244.10L188.87 244.78L189.58 246.22L191.69 244.55Z M192.36 244.55L194.47 246.22L195.18 244.78L192.58 244.10Z M196.92 243.60L197.47 241.15L195.87 241.15L196.42 243.60Z M196.42 244.60L195.87 247.05L197.47 247.05L196.92 244.60Z M196.33 243.65L194.23 241.98L193.51 243.42L196.11 244.10Z M197.23 244.10L199.83 243.42L199.11 241.98L197.00 243.65Z M196.11 244.10L193.51 244.78L194.23 246.22L196.33 244.55Z M197.00 244.55L199.11 246.22L199.83 244.78L197.23 244.10Z M201.56 243.60L202.11 241.15L200.51 241.15L201.06 243.60Z M201.06 244.60L200.51 247.05L202.11 247.05L201.56 244.60Z M200.98 243.65L198.87 241.98L198.16 243.42L200.76 244.10Z M201.87 244.10L204.47 243.42L203.76 241.98L201.65 243.65Z M200.76 244.10L198.16 244.78L198.87 246.22L200.98 244.55Z M201.65 244.55L203.76 246.22L204.47 244.78L201.87 244.10Z M206.21 243.60L206.76 241.15L205.16 241.15L205.71 243.60Z M205.71 244.60L205.16 247.05L206.76 247.05L206.21 244.60Z M205.63 243.65L203.52 241.98L202.80 243.42L205.40 244.10Z M206.52 244.10L209.12 243.42L208.40 241.98L206.30 243.65Z M205.40 244.10L202.80 244.78L203.52 246.22L205.63 244.55Z M206.30 244.55L208.40 246.22L209.12 244.78L206.52 244.10Z M210.86 243.60L211.41 241.15L209.81 241.15L210.36 243.60Z M210.36 244.60L209.81 247.05L211.41 247.05L210.86 244.60Z M210.27 243.65L208.16 241.98L207.45 243.42L210.05 244.10Z M211.17 244.10L213.76 243.42L213.05 241.98L210.94 243.65Z M210.05 244.10L207.45 244.78L208.16 246.22L210.27 244.55Z M210.94 244.55L213.05 246.22L213.76 244.78L211.17 244.10Z M215.50 243.60L216.05 241.15L214.45 241.15L215.00 243.60Z M215.00 244.60L214.45 247.05L216.05 247.05L215.50 244.60Z M214.92 243.65L212.81 241.98L212.09 243.42L214.69 244.10Z M215.81 244.10L218.41 243.42L217.69 241.98L215.59 243.65Z M214.69 244.10L212.09 244.78L212.81 246.22L214.92 244.55Z M215.59 244.55L217.69 246.22L218.41 244.78L215.81 244.10Z M220.15 243.60L220.70 241.15L219.10 241.15L219.65 243.60Z M219.65 244.60L219.10 247.05L220.70 247.05L220.15 244.60Z M219.56 243.65L217.46 241.98L216.74 243.42L219.34 244.10Z M220.46 244.10L223.06 243.42L222.34 241.98L220.23 243.65Z M219.34 244.10L216.74 244.78L217.46 246.22L219.56 244.55Z M220.23 244.55L222.34 246.22L223.06 244.78L220.46 244.10Z M224.79 243.60L225.34 241.15L223.74 241.15L224.29 243.60Z M224.29 244.60L223.74 247.05L225.34 247.05L224.79 244.60Z M224.21 243.65L222.10 241.98L221.39 243.42L223.98 244.10Z M225.10 244.10L227.70 243.42L226.99 241.98L224.88 243.65Z M223.98 244.10L221.39 244.78L222.10 246.22L224.21 244.55Z M224.88 244.55L226.99 246.22L227.70 244.78L225.10 244.10Z M229.44 243.60L229.99 241.15L228.39 241.15L228.94 243.60Z M228.94 244.60L228.39 247.05L229.99 247.05L229.44 244.60Z M228.85 243.65L226.75 241.98L226.03 243.42L228.63 244.10Z M229.75 244.10L232.35 243.42L231.63 241.98L229.52 243.65Z M228.63 244.10L226.03 244.78L226.75 246.22L228.85 244.55Z M229.52 244.55L231.63 246.22L232.35 244.78L229.75 244.10Z M234.09 243.60L234.64 241.15L233.04 241.15L233.59 243.60Z M233.59 244.60L233.04 247.05L234.64 247.05L234.09 244.60Z M233.50 243.65L231.39 241.98L230.68 243.42L233.28 244.10Z M234.39 244.10L236.99 243.42L236.28 241.98L234.17 243.65Z M233.28 244.10L230.68 244.78L231.39 246.22L233.50 244.55Z M234.17 244.55L236.28 246.22L236.99 244.78L234.39 244.10Z M238.73 243.60L239.28 241.15L237.68 241.15L238.23 243.60Z M238.23 244.60L237.68 247.05L239.28 247.05L238.73 244.60Z M238.15 243.65L236.04 241.98L235.32 243.42L237.92 244.10Z M239.04 244.10L241.64 243.42L240.92 241.98L238.82 243.65Z M237.92 244.10L235.32 244.78L236.04 246.22L238.15 244.55Z M238.82 244.55L240.92 246.22L241.64 244.78L239.04 244.10Z M243.38 243.60L243.93 241.15L242.33 241.15L242.88 243.60Z M242.88 244.60L242.33 247.05L243.93 247.05L243.38 244.60Z M242.79 243.65L240.68 241.98L239.97 243.42L242.57 244.10Z M243.69 244.10L246.28 243.42L245.57 241.98L243.46 243.65Z M242.57 244.10L239.97 244.78L240.68 246.22L242.79 244.55Z M243.46 244.55L245.57 246.22L246.28 244.78L243.69 244.10Z M248.02 243.60L248.57 241.15L246.97 241.15L247.52 243.60Z M247.52 244.60L246.97 247.05L248.57 247.05L248.02 244.60Z M247.44 243.65L245.33 241.98L244.62 243.42L247.21 244.10Z M248.33 244.10L250.93 243.42L250.22 241.98L248.11 243.65Z M247.21 244.10L244.62 244.78L245.33 246.22L247.44 244.55Z M248.11 244.55L250.22 246.22L250.93 244.78L248.33 244.10Z M252.67 243.60L253.22 241.15L251.62 241.15L252.17 243.60Z M252.17 244.60L251.62 247.05L253.22 247.05L252.67 244.60Z M252.08 243.65L249.98 241.98L249.26 243.42L251.86 244.10Z M252.98 244.10L255.58 243.42L254.86 241.98L252.75 243.65Z M251.86 244.10L249.26 244.78L249.98 246.22L252.08 244.55Z M252.75 244.55L254.86 246.22L255.58 244.78L252.98 244.10Z M257.31 243.60L257.86 241.15L256.26 241.15L256.81 243.60Z M256.81 244.60L256.26 247.05L257.86 247.05L257.31 244.60Z M256.73 243.65L254.62 241.98L253.91 243.42L256.51 244.10Z M257.62 244.10L260.22 243.42L259.51 241.98L257.40 243.65Z M256.51 244.10L253.91 244.78L254.62 246.22L256.73 244.55Z M257.40 244.55L259.51 246.22L260.22 244.78L257.62 244.10Z M261.96 243.60L262.51 241.15L260.91 241.15L261.46 243.60Z M261.46 244.60L260.91 247.05L262.51 247.05L261.96 244.60Z M261.38 243.65L259.27 241.98L258.55 243.42L261.15 244.10Z M262.27 244.10L264.87 243.42L264.15 241.98L262.05 243.65Z M261.15 244.10L258.55 244.78L259.27 246.22L261.38 244.55Z M262.05 244.55L264.15 246.22L264.87 244.78L262.27 244.10Z M80.77 269.60L81.32 267.15L79.72 267.15L80.27 269.60Z M80.27 270.60L79.72 273.05L81.32 273.05L80.77 270.60Z M80.19 269.65L78.08 267.98L77.37 269.42L79.96 270.10Z M81.08 270.10L83.68 269.42L82.97 267.98L80.86 269.65Z M79.96 270.10L77.37 270.78L78.08 272.22L80.19 270.55Z M80.86 270.55L82.97 272.22L83.68 270.78L81.08 270.10Z M85.42 269.60L85.97 267.15L84.37 267.15L84.92 269.60Z M84.92 270.60L84.37 273.05L85.97 273.05L85.42 270.60Z M84.83 269.65L82.73 267.98L82.01 269.42L84.61 270.10Z M85.73 270.10L88.33 269.42L87.61 267.98L85.50 269.65Z M84.61 270.10L82.01 270.78L82.73 272.22L84.83 270.55Z M85.50 270.55L87.61 272.22L88.33 270.78L85.73 270.10Z M90.06 269.60L90.61 267.15L89.01 267.15L89.56 269.60Z M89.56 270.60L89.01 273.05L90.61 273.05L90.06 270.60Z M89.48 269.65L87.37 267.98L86.66 269.42L89.26 270.10Z M90.37 270.10L92.97 269.42L92.26 267.98L90.15 269.65Z M89.26 270.10L86.66 270.78L87.37 272.22L89.48 270.55Z M90.15 270.55L92.26 272.22L92.97 270.78L90.37 270.10Z M94.71 269.60L95.26 267.15L93.66 267.15L94.21 269.60Z M94.21 270.60L93.66 273.05L95.26 273.05L94.71 270.60Z M94.13 269.65L92.02 267.98L91.30 269.42L93.90 270.10Z M95.02 270.10L97.62 269.42L96.90 267.98L94.80 269.65Z M93.90 270.10L91.30 270.78L92.02 272.22L94.13 270.55Z M94.80 270.55L96.90 272.22L97.62 270.78L95.02 270.10Z M99.36 269.60L99.91 267.15L98.31 267.15L98.86 269.60Z M98.86 270.60L98.31 273.05L99.91 273.05L99.36 270.60Z M98.77 269.65L96.66 267.98L95.95 269.42L98.55 270.10Z M99.67 270.10L102.26 269.42L101.55 267.98L99.44 269.65Z M98.55 270.10L95.95 270.78L96.66 272.22L98.77 270.55Z M99.44 270.55L101.55 272.22L102.26 270.78L99.67 270.10Z M145.81 269.60L146.36 267.15L144.76 267.15L145.31 269.60Z M145.31 270.60L144.76 273.05L146.36 273.05L145.81 270.60Z M145.23 269.65L143.12 267.98L142.41 269.42L145.01 270.10Z M146.12 270.10L148.72 269.42L148.01 267.98L145.90 269.65Z M145.01 270.10L142.41 270.78L143.12 272.22L145.23 270.55Z M145.90 270.55L148.01 272.22L148.72 270.78L146.12 270.10Z M150.46 269.60L151.01 267.15L149.41 267.15L149.96 269.60Z M149.96 270.60L149.41 273.05L151.01 273.05L150.46 270.60Z M149.88 269.65L147.77 267.98L147.05 269.42L149.65 270.10Z M150.77 270.10L153.37 269.42L152.65 267.98L150.55 269.65Z M149.65 270.10L147.05 270.78L147.77 272.22L149.88 270.55Z M150.55 270.55L152.65 272.22L153.37 270.78L150.77 270.10Z M155.11 269.60L155.66 267.15L154.06 267.15L154.61 269.60Z M154.61 270.60L154.06 273.05L155.66 273.05L155.11 270.60Z M154.52 269.65L152.41 267.98L151.70 269.42L154.30 270.10Z M155.42 270.10L158.01 269.42L157.30 267.98L155.19 269.65Z M154.30 270.10L151.70 270.78L152.41 272.22L154.52 270.55Z M155.19 270.55L157.30 272.22L158.01 270.78L155.42 270.10Z M159.75 269.60L160.30 267.15L158.70 267.15L159.25 269.60Z M159.25 270.60L158.70 273.05L160.30 273.05L159.75 270.60Z M159.17 269.65L157.06 267.98L156.34 269.42L158.94 270.10Z M160.06 270.10L162.66 269.42L161.94 267.98L159.84 269.65Z M158.94 270.10L156.34 270.78L157.06 272.22L159.17 270.55Z M159.84 270.55L161.94 272.22L162.66 270.78L160.06 270.10Z M164.40 269.60L164.95 267.15L163.35 267.15L163.90 269.60Z M163.90 270.60L163.35 273.05L164.95 273.05L164.40 270.60Z M163.81 269.65L161.71 267.98L160.99 269.42L163.59 270.10Z M164.71 270.10L167.31 269.42L166.59 267.98L164.48 269.65Z M163.59 270.10L160.99 270.78L161.71 272.22L163.81 270.55Z M164.48 270.55L166.59 272.22L167.31 270.78L164.71 270.10Z M169.04 269.60L169.59 267.15L167.99 267.15L168.54 269.60Z M168.54 270.60L167.99 273.05L169.59 273.05L169.04 270.60Z M168.46 269.65L166.35 267.98L165.64 269.42L168.23 270.10Z M169.35 270.10L171.95 269.42L171.24 267.98L169.13 269.65Z M168.23 270.10L165.64 270.78L166.35 272.22L168.46 270.55Z M169.13 270.55L171.24 272.22L171.95 270.78L169.35 270.10Z M173.69 269.60L174.24 267.15L172.64 267.15L173.19 269.60Z M173.19 270.60L172.64 273.05L174.24 273.05L173.69 270.60Z M173.10 269.65L171.00 267.98L170.28 269.42L172.88 270.10Z M174.00 270.10L176.60 269.42L175.88 267.98L173.77 269.65Z M172.88 270.10L170.28 270.78L171.00 272.22L173.10 270.55Z M173.77 270.55L175.88 272.22L176.60 270.78L174.00 270.10Z M178.34 269.60L178.89 267.15L177.29 267.15L177.84 269.60Z M177.84 270.60L177.29 273.05L178.89 273.05L178.34 270.60Z M177.75 269.65L175.64 267.98L174.93 269.42L177.53 270.10Z M178.64 270.10L181.24 269.42L180.53 267.98L178.42 269.65Z M177.53 270.10L174.93 270.78L175.64 272.22L177.75 270.55Z M178.42 270.55L180.53 272.22L181.24 270.78L178.64 270.10Z M182.98 269.60L183.53 267.15L181.93 267.15L182.48 269.60Z M182.48 270.60L181.93 273.05L183.53 273.05L182.98 270.60Z M182.40 269.65L180.29 267.98L179.57 269.42L182.17 270.10Z M183.29 270.10L185.89 269.42L185.17 267.98L183.07 269.65Z M182.17 270.10L179.57 270.78L180.29 272.22L182.40 270.55Z M183.07 270.55L185.17 272.22L185.89 270.78L183.29 270.10Z M187.63 269.60L188.18 267.15L186.58 267.15L187.13 269.60Z M187.13 270.60L186.58 273.05L188.18 273.05L187.63 270.60Z M187.04 269.65L184.93 267.98L184.22 269.42L186.82 270.10Z M187.94 270.10L190.53 269.42L189.82 267.98L187.71 269.65Z M186.82 270.10L184.22 270.78L184.93 272.22L187.04 270.55Z M187.71 270.55L189.82 272.22L190.53 270.78L187.94 270.10Z M192.27 269.60L192.82 267.15L191.22 267.15L191.77 269.60Z M191.77 270.60L191.22 273.05L192.82 273.05L192.27 270.60Z M191.69 269.65L189.58 267.98L188.87 269.42L191.46 270.10Z M192.58 270.10L195.18 269.42L194.47 267.98L192.36 269.65Z M191.46 270.10L188.87 270.78L189.58 272.22L191.69 270.55Z M192.36 270.55L194.47 272.22L195.18 270.78L192.58 270.10Z M196.92 269.60L197.47 267.15L195.87 267.15L196.42 269.60Z M196.42 270.60L195.87 273.05L197.47 273.05L196.92 270.60Z M196.33 269.65L194.23 267.98L193.51 269.42L196.11 270.10Z M197.23 270.10L199.83 269.42L199.11 267.98L197.00 269.65Z M196.11 270.10L193.51 270.78L194.23 272.22L196.33 270.55Z M197.00 270.55L199.11 272.22L199.83 270.78L197.23 270.10Z M201.56 269.60L202.11 267.15L200.51 267.15L201.06 269.60Z M201.06 270.60L200.51 273.05L202.11 273.05L201.56 270.60Z M200.98 269.65L198.87 267.98L198.16 269.42L200.76 270.10Z M201.87 270.10L204.47 269.42L203.76 267.98L201.65 269.65Z M200.76 270.10L198.16 270.78L198.87 272.22L200.98 270.55Z M201.65 270.55L203.76 272.22L204.47 270.78L201.87 270.10Z M206.21 269.60L206.76 267.15L205.16 267.15L205.71 269.60Z M205.71 270.60L205.16 273.05L206.76 273.05L206.21 270.60Z M205.63 269.65L203.52 267.98L202.80 269.42L205.40 270.10Z M206.52 270.10L209.12 269.42L208.40 267.98L206.30 269.65Z M205.40 270.10L202.80 270.78L203.52 272.22L205.63 270.55Z M206.30 270.55L208.40 272.22L209.12 270.78L206.52 270.10Z M210.86 269.60L211.41 267.15L209.81 267.15L210.36 269.60Z M210.36 270.60L209.81 273.05L211.41 273.05L210.86 270.60Z M210.27 269.65L208.16 267.98L207.45 269.42L210.05 270.10Z M211.17 270.10L213.76 269.42L213.05 267.98L210.94 269.65Z M210.05 270.10L207.45 270.78L208.16 272.22L210.27 270.55Z M210.94 270.55L213.05 272.22L213.76 270.78L211.17 270.10Z M215.50 269.60L216.05 267.15L214.45 267.15L215.00 269.60Z M215.00 270.60L214.45 273.05L216.05 273.05L215.50 270.60Z M214.92 269.65L212.81 267.98L212.09 269.42L214.69 270.10Z M215.81 270.10L218.41 269.42L217.69 267.98L215.59 269.65Z M214.69 270.10L212.09 270.78L212.81 272.22L214.92 270.55Z M215.59 270.55L217.69 272.22L218.41 270.78L215.81 270.10Z M220.15 269.60L220.70 267.15L219.10 267.15L219.65 269.60Z M219.65 270.60L219.10 273.05L220.70 273.05L220.15 270.60Z M219.56 269.65L217.46 267.98L216.74 269.42L219.34 270.10Z M220.46 270.10L223.06 269.42L222.34 267.98L220.23 269.65Z M219.34 270.10L216.74 270.78L217.46 272.22L219.56 270.55Z M220.23 270.55L222.34 272.22L223.06 270.78L220.46 270.10Z M224.79 269.60L225.34 267.15L223.74 267.15L224.29 269.60Z M224.29 270.60L223.74 273.05L225.34 273.05L224.79 270.60Z M224.21 269.65L222.10 267.98L221.39 269.42L223.98 270.10Z M225.10 270.10L227.70 269.42L226.99 267.98L224.88 269.65Z M223.98 270.10L221.39 270.78L222.10 272.22L224.21 270.55Z M224.88 270.55L226.99 272.22L227.70 270.78L225.10 270.10Z M229.44 269.60L229.99 267.15L228.39 267.15L228.94 269.60Z M228.94 270.60L228.39 273.05L229.99 273.05L229.44 270.60Z M228.85 269.65L226.75 267.98L226.03 269.42L228.63 270.10Z M229.75 270.10L232.35 269.42L231.63 267.98L229.52 269.65Z M228.63 270.10L226.03 270.78L226.75 272.22L228.85 270.55Z M229.52 270.55L231.63 272.22L232.35 270.78L229.75 270.10Z M234.09 269.60L234.64 267.15L233.04 267.15L233.59 269.60Z M233.59 270.60L233.04 273.05L234.64 273.05L234.09 270.60Z M233.50 269.65L231.39 267.98L230.68 269.42L233.28 270.10Z M234.39 270.10L236.99 269.42L236.28 267.98L234.17 269.65Z M233.28 270.10L230.68 270.78L231.39 272.22L233.50 270.55Z M234.17 270.55L236.28 272.22L236.99 270.78L234.39 270.10Z M238.73 269.60L239.28 267.15L237.68 267.15L238.23 269.60Z M238.23 270.60L237.68 273.05L239.28 273.05L238.73 270.60Z M238.15 269.65L236.04 267.98L235.32 269.42L237.92 270.10Z M239.04 270.10L241.64 269.42L240.92 267.98L238.82 269.65Z M237.92 270.10L235.32 270.78L236.04 272.22L238.15 270.55Z M238.82 270.55L240.92 272.22L241.64 270.78L239.04 270.10Z M243.38 269.60L243.93 267.15L242.33 267.15L242.88 269.60Z M242.88 270.60L242.33 273.05L243.93 273.05L243.38 270.60Z M242.79 269.65L240.68 267.98L239.97 269.42L242.57 270.10Z M243.69 270.10L246.28 269.42L245.57 267.98L243.46 269.65Z M242.57 270.10L239.97 270.78L240.68 272.22L242.79 270.55Z M243.46 270.55L245.57 272.22L246.28 270.78L243.69 270.10Z M248.02 269.60L248.57 267.15L246.97 267.15L247.52 269.60Z M247.52 270.60L246.97 273.05L248.57 273.05L248.02 270.60Z M247.44 269.65L245.33 267.98L244.62 269.42L247.21 270.10Z M248.33 270.10L250.93 269.42L250.22 267.98L248.11 269.65Z M247.21 270.10L244.62 270.78L245.33 272.22L247.44 270.55Z M248.11 270.55L250.22 272.22L250.93 270.78L248.33 270.10Z M252.67 269.60L253.22 267.15L251.62 267.15L252.17 269.60Z M252.17 270.60L251.62 273.05L253.22 273.05L252.67 270.60Z M252.08 269.65L249.98 267.98L249.26 269.42L251.86 270.10Z M252.98 270.10L255.58 269.42L254.86 267.98L252.75 269.65Z M251.86 270.10L249.26 270.78L249.98 272.22L252.08 270.55Z M252.75 270.55L254.86 272.22L255.58 270.78L252.98 270.10Z M257.31 269.60L257.86 267.15L256.26 267.15L256.81 269.60Z M256.81 270.60L256.26 273.05L257.86 273.05L257.31 270.60Z M256.73 269.65L254.62 267.98L253.91 269.42L256.51 270.10Z M257.62 270.10L260.22 269.42L259.51 267.98L257.40 269.65Z M256.51 270.10L253.91 270.78L254.62 272.22L256.73 270.55Z M257.40 270.55L259.51 272.22L260.22 270.78L257.62 270.10Z M261.96 269.60L262.51 267.15L260.91 267.15L261.46 269.60Z M261.46 270.60L260.91 273.05L262.51 273.05L261.96 270.60Z M261.38 269.65L259.27 267.98L258.55 269.42L261.15 270.10Z M262.27 270.10L264.87 269.42L264.15 267.98L262.05 269.65Z M261.15 270.10L258.55 270.78L259.27 272.22L261.38 270.55Z M262.05 270.55L264.15 272.22L264.87 270.78L262.27 270.10Z M80.77 304.10L81.32 301.65L79.72 301.65L80.27 304.10Z M80.27 305.10L79.72 307.55L81.32 307.55L80.77 305.10Z M80.19 304.15L78.08 302.48L77.37 303.92L79.96 304.60Z M81.08 304.60L83.68 303.92L82.97 302.48L80.86 304.15Z M79.96 304.60L77.37 305.28L78.08 306.72L80.19 305.05Z M80.86 305.05L82.97 306.72L83.68 305.28L81.08 304.60Z M85.42 304.10L85.97 301.65L84.37 301.65L84.92 304.10Z M84.92 305.10L84.37 307.55L85.97 307.55L85.42 305.10Z M84.83 304.15L82.73 302.48L82.01 303.92L84.61 304.60Z M85.73 304.60L88.33 303.92L87.61 302.48L85.50 304.15Z M84.61 304.60L82.01 305.28L82.73 306.72L84.83 305.05Z M85.50 305.05L87.61 306.72L88.33 305.28L85.73 304.60Z M90.06 304.10L90.61 301.65L89.01 301.65L89.56 304.10Z M89.56 305.10L89.01 307.55L90.61 307.55L90.06 305.10Z M89.48 304.15L87.37 302.48L86.66 303.92L89.26 304.60Z M90.37 304.60L92.97 303.92L92.26 302.48L90.15 304.15Z M89.26 304.60L86.66 305.28L87.37 306.72L89.48 305.05Z M90.15 305.05L92.26 306.72L92.97 305.28L90.37 304.60Z M145.81 304.10L146.36 301.65L144.76 301.65L145.31 304.10Z M145.31 305.10L144.76 307.55L146.36 307.55L145.81 305.10Z M145.23 304.15L143.12 302.48L142.41 303.92L145.01 304.60Z M146.12 304.60L148.72 303.92L148.01 302.48L145.90 304.15Z M145.01 304.60L142.41 305.28L143.12 306.72L145.23 305.05Z M145.90 305.05L148.01 306.72L148.72 305.28L146.12 304.60Z M150.46 304.10L151.01 301.65L149.41 301.65L149.96 304.10Z M149.96 305.10L149.41 307.55L151.01 307.55L150.46 305.10Z M149.88 304.15L147.77 302.48L147.05 303.92L149.65 304.60Z M150.77 304.60L153.37 303.92L152.65 302.48L150.55 304.15Z M149.65 304.60L147.05 305.28L147.77 306.72L149.88 305.05Z M150.55 305.05L152.65 306.72L153.37 305.28L150.77 304.60Z M155.11 304.10L155.66 301.65L154.06 301.65L154.61 304.10Z M154.61 305.10L154.06 307.55L155.66 307.55L155.11 305.10Z M154.52 304.15L152.41 302.48L151.70 303.92L154.30 304.60Z M155.42 304.60L158.01 303.92L157.30 302.48L155.19 304.15Z M154.30 304.60L151.70 305.28L152.41 306.72L154.52 305.05Z M155.19 305.05L157.30 306.72L158.01 305.28L155.42 304.60Z M159.75 304.10L160.30 301.65L158.70 301.65L159.25 304.10Z M159.25 305.10L158.70 307.55L160.30 307.55L159.75 305.10Z M159.17 304.15L157.06 302.48L156.34 303.92L158.94 304.60Z M160.06 304.60L162.66 303.92L161.94 302.48L159.84 304.15Z M158.94 304.60L156.34 305.28L157.06 306.72L159.17 305.05Z M159.84 305.05L161.94 306.72L162.66 305.28L160.06 304.60Z M164.40 304.10L164.95 301.65L163.35 301.65L163.90 304.10Z M163.90 305.10L163.35 307.55L164.95 307.55L164.40 305.10Z M163.81 304.15L161.71 302.48L160.99 303.92L163.59 304.60Z M164.71 304.60L167.31 303.92L166.59 302.48L164.48 304.15Z M163.59 304.60L160.99 305.28L161.71 306.72L163.81 305.05Z M164.48 305.05L166.59 306.72L167.31 305.28L164.71 304.60Z M169.04 304.10L169.59 301.65L167.99 301.65L168.54 304.10Z M168.54 305.10L167.99 307.55L169.59 307.55L169.04 305.10Z M168.46 304.15L166.35 302.48L165.64 303.92L168.23 304.60Z M169.35 304.60L171.95 303.92L171.24 302.48L169.13 304.15Z M168.23 304.60L165.64 305.28L166.35 306.72L168.46 305.05Z M169.13 305.05L171.24 306.72L171.95 305.28L169.35 304.60Z M173.69 304.10L174.24 301.65L172.64 301.65L173.19 304.10Z M173.19 305.10L172.64 307.55L174.24 307.55L173.69 305.10Z M173.10 304.15L171.00 302.48L170.28 303.92L172.88 304.60Z M174.00 304.60L176.60 303.92L175.88 302.48L173.77 304.15Z M172.88 304.60L170.28 305.28L171.00 306.72L173.10 305.05Z M173.77 305.05L175.88 306.72L176.60 305.28L174.00 304.60Z M178.34 304.10L178.89 301.65L177.29 301.65L177.84 304.10Z M177.84 305.10L177.29 307.55L178.89 307.55L178.34 305.10Z M177.75 304.15L175.64 302.48L174.93 303.92L177.53 304.60Z M178.64 304.60L181.24 303.92L180.53 302.48L178.42 304.15Z M177.53 304.60L174.93 305.28L175.64 306.72L177.75 305.05Z M178.42 305.05L180.53 306.72L181.24 305.28L178.64 304.60Z M182.98 304.10L183.53 301.65L181.93 301.65L182.48 304.10Z M182.48 305.10L181.93 307.55L183.53 307.55L182.98 305.10Z M182.40 304.15L180.29 302.48L179.57 303.92L182.17 304.60Z M183.29 304.60L185.89 303.92L185.17 302.48L183.07 304.15Z M182.17 304.60L179.57 305.28L180.29 306.72L182.40 305.05Z M183.07 305.05L185.17 306.72L185.89 305.28L183.29 304.60Z M187.63 304.10L188.18 301.65L186.58 301.65L187.13 304.10Z M187.13 305.10L186.58 307.55L188.18 307.55L187.63 305.10Z M187.04 304.15L184.93 302.48L184.22 303.92L186.82 304.60Z M187.94 304.60L190.53 303.92L189.82 302.48L187.71 304.15Z M186.82 304.60L184.22 305.28L184.93 306.72L187.04 305.05Z M187.71 305.05L189.82 306.72L190.53 305.28L187.94 304.60Z M192.27 304.10L192.82 301.65L191.22 301.65L191.77 304.10Z M191.77 305.10L191.22 307.55L192.82 307.55L192.27 305.10Z M191.69 304.15L189.58 302.48L188.87 303.92L191.46 304.60Z M192.58 304.60L195.18 303.92L194.47 302.48L192.36 304.15Z M191.46 304.60L188.87 305.28L189.58 306.72L191.69 305.05Z M192.36 305.05L194.47 306.72L195.18 305.28L192.58 304.60Z M196.92 304.10L197.47 301.65L195.87 301.65L196.42 304.10Z M196.42 305.10L195.87 307.55L197.47 307.55L196.92 305.10Z M196.33 304.15L194.23 302.48L193.51 303.92L196.11 304.60Z M197.23 304.60L199.83 303.92L199.11 302.48L197.00 304.15Z M196.11 304.60L193.51 305.28L194.23 306.72L196.33 305.05Z M197.00 305.05L199.11 306.72L199.83 305.28L197.23 304.60Z M201.56 304.10L202.11 301.65L200.51 301.65L201.06 304.10Z M201.06 305.10L200.51 307.55L202.11 307.55L201.56 305.10Z M200.98 304.15L198.87 302.48L198.16 303.92L200.76 304.60Z M201.87 304.60L204.47 303.92L203.76 302.48L201.65 304.15Z M200.76 304.60L198.16 305.28L198.87 306.72L200.98 305.05Z M201.65 305.05L203.76 306.72L204.47 305.28L201.87 304.60Z M206.21 304.10L206.76 301.65L205.16 301.65L205.71 304.10Z M205.71 305.10L205.16 307.55L206.76 307.55L206.21 305.10Z M205.63 304.15L203.52 302.48L202.80 303.92L205.40 304.60Z M206.52 304.60L209.12 303.92L208.40 302.48L206.30 304.15Z M205.40 304.60L202.80 305.28L203.52 306.72L205.63 305.05Z M206.30 305.05L208.40 306.72L209.12 305.28L206.52 304.60Z M210.86 304.10L211.41 301.65L209.81 301.65L210.36 304.10Z M210.36 305.10L209.81 307.55L211.41 307.55L210.86 305.10Z M210.27 304.15L208.16 302.48L207.45 303.92L210.05 304.60Z M211.17 304.60L213.76 303.92L213.05 302.48L210.94 304.15Z M210.05 304.60L207.45 305.28L208.16 306.72L210.27 305.05Z M210.94 305.05L213.05 306.72L213.76 305.28L211.17 304.60Z M215.50 304.10L216.05 301.65L214.45 301.65L215.00 304.10Z M215.00 305.10L214.45 307.55L216.05 307.55L215.50 305.10Z M214.92 304.15L212.81 302.48L212.09 303.92L214.69 304.60Z M215.81 304.60L218.41 303.92L217.69 302.48L215.59 304.15Z M214.69 304.60L212.09 305.28L212.81 306.72L214.92 305.05Z M215.59 305.05L217.69 306.72L218.41 305.28L215.81 304.60Z M220.15 304.10L220.70 301.65L219.10 301.65L219.65 304.10Z M219.65 305.10L219.10 307.55L220.70 307.55L220.15 305.10Z M219.56 304.15L217.46 302.48L216.74 303.92L219.34 304.60Z M220.46 304.60L223.06 303.92L222.34 302.48L220.23 304.15Z M219.34 304.60L216.74 305.28L217.46 306.72L219.56 305.05Z M220.23 305.05L222.34 306.72L223.06 305.28L220.46 304.60Z M224.79 304.10L225.34 301.65L223.74 301.65L224.29 304.10Z M224.29 305.10L223.74 307.55L225.34 307.55L224.79 305.10Z M224.21 304.15L222.10 302.48L221.39 303.92L223.98 304.60Z M225.10 304.60L227.70 303.92L226.99 302.48L224.88 304.15Z M223.98 304.60L221.39 305.28L222.10 306.72L224.21 305.05Z M224.88 305.05L226.99 306.72L227.70 305.28L225.10 304.60Z M229.44 304.10L229.99 301.65L228.39 301.65L228.94 304.10Z M228.94 305.10L228.39 307.55L229.99 307.55L229.44 305.10Z M228.85 304.15L226.75 302.48L226.03 303.92L228.63 304.60Z M229.75 304.60L232.35 303.92L231.63 302.48L229.52 304.15Z M228.63 304.60L226.03 305.28L226.75 306.72L228.85 305.05Z M229.52 305.05L231.63 306.72L232.35 305.28L229.75 304.60Z M234.09 304.10L234.64 301.65L233.04 301.65L233.59 304.10Z M233.59 305.10L233.04 307.55L234.64 307.55L234.09 305.10Z M233.50 304.15L231.39 302.48L230.68 303.92L233.28 304.60Z M234.39 304.60L236.99 303.92L236.28 302.48L234.17 304.15Z M233.28 304.60L230.68 305.28L231.39 306.72L233.50 305.05Z M234.17 305.05L236.28 306.72L236.99 305.28L234.39 304.60Z M238.73 304.10L239.28 301.65L237.68 301.65L238.23 304.10Z M238.23 305.10L237.68 307.55L239.28 307.55L238.73 305.10Z M238.15 304.15L236.04 302.48L235.32 303.92L237.92 304.60Z M239.04 304.60L241.64 303.92L240.92 302.48L238.82 304.15Z M237.92 304.60L235.32 305.28L236.04 306.72L238.15 305.05Z M238.82 305.05L240.92 306.72L241.64 305.28L239.04 304.60Z M243.38 304.10L243.93 301.65L242.33 301.65L242.88 304.10Z M242.88 305.10L242.33 307.55L243.93 307.55L243.38 305.10Z M242.79 304.15L240.68 302.48L239.97 303.92L242.57 304.60Z M243.69 304.60L246.28 303.92L245.57 302.48L243.46 304.15Z M242.57 304.60L239.97 305.28L240.68 306.72L242.79 305.05Z M243.46 305.05L245.57 306.72L246.28 305.28L243.69 304.60Z M248.02 304.10L248.57 301.65L246.97 301.65L247.52 304.10Z M247.52 305.10L246.97 307.55L248.57 307.55L248.02 305.10Z M247.44 304.15L245.33 302.48L244.62 303.92L247.21 304.60Z M248.33 304.60L250.93 303.92L250.22 302.48L248.11 304.15Z M247.21 304.60L244.62 305.28L245.33 306.72L247.44 305.05Z M248.11 305.05L250.22 306.72L250.93 305.28L248.33 304.60Z M252.67 304.10L253.22 301.65L251.62 301.65L252.17 304.10Z M252.17 305.10L251.62 307.55L253.22 307.55L252.67 305.10Z M252.08 304.15L249.98 302.48L249.26 303.92L251.86 304.60Z M252.98 304.60L255.58 303.92L254.86 302.48L252.75 304.15Z M251.86 304.60L249.26 305.28L249.98 306.72L252.08 305.05Z M252.75 305.05L254.86 306.72L255.58 305.28L252.98 304.60Z M257.31 304.10L257.86 301.65L256.26 301.65L256.81 304.10Z M256.81 305.10L256.26 307.55L257.86 307.55L257.31 305.10Z M256.73 304.15L254.62 302.48L253.91 303.92L256.51 304.60Z M257.62 304.60L260.22 303.92L259.51 302.48L257.40 304.15Z M256.51 304.60L253.91 305.28L254.62 306.72L256.73 305.05Z M257.40 305.05L259.51 306.72L260.22 305.28L257.62 304.60Z M261.96 304.10L262.51 301.65L260.91 301.65L261.46 304.10Z M261.46 305.10L260.91 307.55L262.51 307.55L261.96 305.10Z M261.38 304.15L259.27 302.48L258.55 303.92L261.15 304.60Z M262.27 304.60L264.87 303.92L264.15 302.48L262.05 304.15Z M261.15 304.60L258.55 305.28L259.27 306.72L261.38 305.05Z M262.05 305.05L264.15 306.72L264.87 305.28L262.27 304.60Z M280.54 304.10L281.09 301.65L279.49 301.65L280.04 304.10Z M280.04 305.10L279.49 307.55L281.09 307.55L280.54 305.10Z M279.96 304.15L277.85 302.48L277.14 303.92L279.73 304.60Z M280.85 304.60L283.45 303.92L282.74 302.48L280.63 304.15Z M279.73 304.60L277.14 305.28L277.85 306.72L279.96 305.05Z M280.63 305.05L282.74 306.72L283.45 305.28L280.85 304.60Z M285.19 304.10L285.74 301.65L284.14 301.65L284.69 304.10Z M284.69 305.10L284.14 307.55L285.74 307.55L285.19 305.10Z M284.60 304.15L282.50 302.48L281.78 303.92L284.38 304.60Z M285.50 304.60L288.10 303.92L287.38 302.48L285.27 304.15Z M284.38 304.60L281.78 305.28L282.50 306.72L284.60 305.05Z M285.27 305.05L287.38 306.72L288.10 305.28L285.50 304.60Z M294.48 304.10L295.03 301.65L293.43 301.65L293.98 304.10Z M293.98 305.10L293.43 307.55L295.03 307.55L294.48 305.10Z M293.90 304.15L291.79 302.48L291.07 303.92L293.67 304.60Z M294.79 304.60L297.39 303.92L296.67 302.48L294.57 304.15Z M293.67 304.60L291.07 305.28L291.79 306.72L293.90 305.05Z M294.57 305.05L296.67 306.72L297.39 305.28L294.79 304.60Z M85.42 336.00L85.97 333.55L84.37 333.55L84.92 336.00Z M84.92 337.00L84.37 339.45L85.97 339.45L85.42 337.00Z M84.83 336.05L82.73 334.38L82.01 335.82L84.61 336.50Z M85.73 336.50L88.33 335.82L87.61 334.38L85.50 336.05Z M84.61 336.50L82.01 337.18L82.73 338.62L84.83 336.95Z M85.50 336.95L87.61 338.62L88.33 337.18L85.73 336.50Z M90.06 336.00L90.61 333.55L89.01 333.55L89.56 336.00Z M89.56 337.00L89.01 339.45L90.61 339.45L90.06 337.00Z M89.48 336.05L87.37 334.38L86.66 335.82L89.26 336.50Z M90.37 336.50L92.97 335.82L92.26 334.38L90.15 336.05Z M89.26 336.50L86.66 337.18L87.37 338.62L89.48 336.95Z M90.15 336.95L92.26 338.62L92.97 337.18L90.37 336.50Z M94.71 336.00L95.26 333.55L93.66 333.55L94.21 336.00Z M94.21 337.00L93.66 339.45L95.26 339.45L94.71 337.00Z M94.13 336.05L92.02 334.38L91.30 335.82L93.90 336.50Z M95.02 336.50L97.62 335.82L96.90 334.38L94.80 336.05Z M93.90 336.50L91.30 337.18L92.02 338.62L94.13 336.95Z M94.80 336.95L96.90 338.62L97.62 337.18L95.02 336.50Z M145.81 336.00L146.36 333.55L144.76 333.55L145.31 336.00Z M145.31 337.00L144.76 339.45L146.36 339.45L145.81 337.00Z M145.23 336.05L143.12 334.38L142.41 335.82L145.01 336.50Z M146.12 336.50L148.72 335.82L148.01 334.38L145.90 336.05Z M145.01 336.50L142.41 337.18L143.12 338.62L145.23 336.95Z M145.90 336.95L148.01 338.62L148.72 337.18L146.12 336.50Z M150.46 336.00L151.01 333.55L149.41 333.55L149.96 336.00Z M149.96 337.00L149.41 339.45L151.01 339.45L150.46 337.00Z M149.88 336.05L147.77 334.38L147.05 335.82L149.65 336.50Z M150.77 336.50L153.37 335.82L152.65 334.38L150.55 336.05Z M149.65 336.50L147.05 337.18L147.77 338.62L149.88 336.95Z M150.55 336.95L152.65 338.62L153.37 337.18L150.77 336.50Z M155.11 336.00L155.66 333.55L154.06 333.55L154.61 336.00Z M154.61 337.00L154.06 339.45L155.66 339.45L155.11 337.00Z M154.52 336.05L152.41 334.38L151.70 335.82L154.30 336.50Z M155.42 336.50L158.01 335.82L157.30 334.38L155.19 336.05Z M154.30 336.50L151.70 337.18L152.41 338.62L154.52 336.95Z M155.19 336.95L157.30 338.62L158.01 337.18L155.42 336.50Z M159.75 336.00L160.30 333.55L158.70 333.55L159.25 336.00Z M159.25 337.00L158.70 339.45L160.30 339.45L159.75 337.00Z M159.17 336.05L157.06 334.38L156.34 335.82L158.94 336.50Z M160.06 336.50L162.66 335.82L161.94 334.38L159.84 336.05Z M158.94 336.50L156.34 337.18L157.06 338.62L159.17 336.95Z M159.84 336.95L161.94 338.62L162.66 337.18L160.06 336.50Z M169.04 336.00L169.59 333.55L167.99 333.55L168.54 336.00Z M168.54 337.00L167.99 339.45L169.59 339.45L169.04 337.00Z M168.46 336.05L166.35 334.38L165.64 335.82L168.23 336.50Z M169.35 336.50L171.95 335.82L171.24 334.38L169.13 336.05Z M168.23 336.50L165.64 337.18L166.35 338.62L168.46 336.95Z M169.13 336.95L171.24 338.62L171.95 337.18L169.35 336.50Z M173.69 336.00L174.24 333.55L172.64 333.55L173.19 336.00Z M173.19 337.00L172.64 339.45L174.24 339.45L173.69 337.00Z M173.10 336.05L171.00 334.38L170.28 335.82L172.88 336.50Z M174.00 336.50L176.60 335.82L175.88 334.38L173.77 336.05Z M172.88 336.50L170.28 337.18L171.00 338.62L173.10 336.95Z M173.77 336.95L175.88 338.62L176.60 337.18L174.00 336.50Z M178.34 336.00L178.89 333.55L177.29 333.55L177.84 336.00Z M177.84 337.00L177.29 339.45L178.89 339.45L178.34 337.00Z M177.75 336.05L175.64 334.38L174.93 335.82L177.53 336.50Z M178.64 336.50L181.24 335.82L180.53 334.38L178.42 336.05Z M177.53 336.50L174.93 337.18L175.64 338.62L177.75 336.95Z M178.42 336.95L180.53 338.62L181.24 337.18L178.64 336.50Z M182.98 336.00L183.53 333.55L181.93 333.55L182.48 336.00Z M182.48 337.00L181.93 339.45L183.53 339.45L182.98 337.00Z M182.40 336.05L180.29 334.38L179.57 335.82L182.17 336.50Z M183.29 336.50L185.89 335.82L185.17 334.38L183.07 336.05Z M182.17 336.50L179.57 337.18L180.29 338.62L182.40 336.95Z M183.07 336.95L185.17 338.62L185.89 337.18L183.29 336.50Z M187.63 336.00L188.18 333.55L186.58 333.55L187.13 336.00Z M187.13 337.00L186.58 339.45L188.18 339.45L187.63 337.00Z M187.04 336.05L184.93 334.38L184.22 335.82L186.82 336.50Z M187.94 336.50L190.53 335.82L189.82 334.38L187.71 336.05Z M186.82 336.50L184.22 337.18L184.93 338.62L187.04 336.95Z M187.71 336.95L189.82 338.62L190.53 337.18L187.94 336.50Z M192.27 336.00L192.82 333.55L191.22 333.55L191.77 336.00Z M191.77 337.00L191.22 339.45L192.82 339.45L192.27 337.00Z M191.69 336.05L189.58 334.38L188.87 335.82L191.46 336.50Z M192.58 336.50L195.18 335.82L194.47 334.38L192.36 336.05Z M191.46 336.50L188.87 337.18L189.58 338.62L191.69 336.95Z M192.36 336.95L194.47 338.62L195.18 337.18L192.58 336.50Z M196.92 336.00L197.47 333.55L195.87 333.55L196.42 336.00Z M196.42 337.00L195.87 339.45L197.47 339.45L196.92 337.00Z M196.33 336.05L194.23 334.38L193.51 335.82L196.11 336.50Z M197.23 336.50L199.83 335.82L199.11 334.38L197.00 336.05Z M196.11 336.50L193.51 337.18L194.23 338.62L196.33 336.95Z M197.00 336.95L199.11 338.62L199.83 337.18L197.23 336.50Z M201.56 336.00L202.11 333.55L200.51 333.55L201.06 336.00Z M201.06 337.00L200.51 339.45L202.11 339.45L201.56 337.00Z M200.98 336.05L198.87 334.38L198.16 335.82L200.76 336.50Z M201.87 336.50L204.47 335.82L203.76 334.38L201.65 336.05Z M200.76 336.50L198.16 337.18L198.87 338.62L200.98 336.95Z M201.65 336.95L203.76 338.62L204.47 337.18L201.87 336.50Z M206.21 336.00L206.76 333.55L205.16 333.55L205.71 336.00Z M205.71 337.00L205.16 339.45L206.76 339.45L206.21 337.00Z M205.63 336.05L203.52 334.38L202.80 335.82L205.40 336.50Z M206.52 336.50L209.12 335.82L208.40 334.38L206.30 336.05Z M205.40 336.50L202.80 337.18L203.52 338.62L205.63 336.95Z M206.30 336.95L208.40 338.62L209.12 337.18L206.52 336.50Z M210.86 336.00L211.41 333.55L209.81 333.55L210.36 336.00Z M210.36 337.00L209.81 339.45L211.41 339.45L210.86 337.00Z M210.27 336.05L208.16 334.38L207.45 335.82L210.05 336.50Z M211.17 336.50L213.76 335.82L213.05 334.38L210.94 336.05Z M210.05 336.50L207.45 337.18L208.16 338.62L210.27 336.95Z M210.94 336.95L213.05 338.62L213.76 337.18L211.17 336.50Z M215.50 336.00L216.05 333.55L214.45 333.55L215.00 336.00Z M215.00 337.00L214.45 339.45L216.05 339.45L215.50 337.00Z M214.92 336.05L212.81 334.38L212.09 335.82L214.69 336.50Z M215.81 336.50L218.41 335.82L217.69 334.38L215.59 336.05Z M214.69 336.50L212.09 337.18L212.81 338.62L214.92 336.95Z M215.59 336.95L217.69 338.62L218.41 337.18L215.81 336.50Z M220.15 336.00L220.70 333.55L219.10 333.55L219.65 336.00Z M219.65 337.00L219.10 339.45L220.70 339.45L220.15 337.00Z M219.56 336.05L217.46 334.38L216.74 335.82L219.34 336.50Z M220.46 336.50L223.06 335.82L222.34 334.38L220.23 336.05Z M219.34 336.50L216.74 337.18L217.46 338.62L219.56 336.95Z M220.23 336.95L222.34 338.62L223.06 337.18L220.46 336.50Z M224.79 336.00L225.34 333.55L223.74 333.55L224.29 336.00Z M224.29 337.00L223.74 339.45L225.34 339.45L224.79 337.00Z M224.21 336.05L222.10 334.38L221.39 335.82L223.98 336.50Z M225.10 336.50L227.70 335.82L226.99 334.38L224.88 336.05Z M223.98 336.50L221.39 337.18L222.10 338.62L224.21 336.95Z M224.88 336.95L226.99 338.62L227.70 337.18L225.10 336.50Z M229.44 336.00L229.99 333.55L228.39 333.55L228.94 336.00Z M228.94 337.00L228.39 339.45L229.99 339.45L229.44 337.00Z M228.85 336.05L226.75 334.38L226.03 335.82L228.63 336.50Z M229.75 336.50L232.35 335.82L231.63 334.38L229.52 336.05Z M228.63 336.50L226.03 337.18L226.75 338.62L228.85 336.95Z M229.52 336.95L231.63 338.62L232.35 337.18L229.75 336.50Z M234.09 336.00L234.64 333.55L233.04 333.55L233.59 336.00Z M233.59 337.00L233.04 339.45L234.64 339.45L234.09 337.00Z M233.50 336.05L231.39 334.38L230.68 335.82L233.28 336.50Z M234.39 336.50L236.99 335.82L236.28 334.38L234.17 336.05Z M233.28 336.50L230.68 337.18L231.39 338.62L233.50 336.95Z M234.17 336.95L236.28 338.62L236.99 337.18L234.39 336.50Z M238.73 336.00L239.28 333.55L237.68 333.55L238.23 336.00Z M238.23 337.00L237.68 339.45L239.28 339.45L238.73 337.00Z M238.15 336.05L236.04 334.38L235.32 335.82L237.92 336.50Z M239.04 336.50L241.64 335.82L240.92 334.38L238.82 336.05Z M237.92 336.50L235.32 337.18L236.04 338.62L238.15 336.95Z M238.82 336.95L240.92 338.62L241.64 337.18L239.04 336.50Z M243.38 336.00L243.93 333.55L242.33 333.55L242.88 336.00Z M242.88 337.00L242.33 339.45L243.93 339.45L243.38 337.00Z M242.79 336.05L240.68 334.38L239.97 335.82L242.57 336.50Z M243.69 336.50L246.28 335.82L245.57 334.38L243.46 336.05Z M242.57 336.50L239.97 337.18L240.68 338.62L242.79 336.95Z M243.46 336.95L245.57 338.62L246.28 337.18L243.69 336.50Z M248.02 336.00L248.57 333.55L246.97 333.55L247.52 336.00Z M247.52 337.00L246.97 339.45L248.57 339.45L248.02 337.00Z M247.44 336.05L245.33 334.38L244.62 335.82L247.21 336.50Z M248.33 336.50L250.93 335.82L250.22 334.38L248.11 336.05Z M247.21 336.50L244.62 337.18L245.33 338.62L247.44 336.95Z M248.11 336.95L250.22 338.62L250.93 337.18L248.33 336.50Z M252.67 336.00L253.22 333.55L251.62 333.55L252.17 336.00Z M252.17 337.00L251.62 339.45L253.22 339.45L252.67 337.00Z M252.08 336.05L249.98 334.38L249.26 335.82L251.86 336.50Z M252.98 336.50L255.58 335.82L254.86 334.38L252.75 336.05Z M251.86 336.50L249.26 337.18L249.98 338.62L252.08 336.95Z M252.75 336.95L254.86 338.62L255.58 337.18L252.98 336.50Z M257.31 336.00L257.86 333.55L256.26 333.55L256.81 336.00Z M256.81 337.00L256.26 339.45L257.86 339.45L257.31 337.00Z M256.73 336.05L254.62 334.38L253.91 335.82L256.51 336.50Z M257.62 336.50L260.22 335.82L259.51 334.38L257.40 336.05Z M256.51 336.50L253.91 337.18L254.62 338.62L256.73 336.95Z M257.40 336.95L259.51 338.62L260.22 337.18L257.62 336.50Z M266.61 336.00L267.16 333.55L265.56 333.55L266.11 336.00Z M266.11 337.00L265.56 339.45L267.16 339.45L266.61 337.00Z M266.02 336.05L263.91 334.38L263.20 335.82L265.80 336.50Z M266.92 336.50L269.51 335.82L268.80 334.38L266.69 336.05Z M265.80 336.50L263.20 337.18L263.91 338.62L266.02 336.95Z M266.69 336.95L268.80 338.62L269.51 337.18L266.92 336.50Z M280.54 336.00L281.09 333.55L279.49 333.55L280.04 336.00Z M280.04 337.00L279.49 339.45L281.09 339.45L280.54 337.00Z M279.96 336.05L277.85 334.38L277.14 335.82L279.73 336.50Z M280.85 336.50L283.45 335.82L282.74 334.38L280.63 336.05Z M279.73 336.50L277.14 337.18L277.85 338.62L279.96 336.95Z M280.63 336.95L282.74 338.62L283.45 337.18L280.85 336.50Z M285.19 336.00L285.74 333.55L284.14 333.55L284.69 336.00Z M284.69 337.00L284.14 339.45L285.74 339.45L285.19 337.00Z M284.60 336.05L282.50 334.38L281.78 335.82L284.38 336.50Z M285.50 336.50L288.10 335.82L287.38 334.38L285.27 336.05Z M284.38 336.50L281.78 337.18L282.50 338.62L284.60 336.95Z M285.27 336.95L287.38 338.62L288.10 337.18L285.50 336.50Z M289.84 336.00L290.39 333.55L288.79 333.55L289.34 336.00Z M289.34 337.00L288.79 339.45L290.39 339.45L289.84 337.00Z M289.25 336.05L287.14 334.38L286.43 335.82L289.03 336.50Z M290.14 336.50L292.74 335.82L292.03 334.38L289.92 336.05Z M289.03 336.50L286.43 337.18L287.14 338.62L289.25 336.95Z M289.92 336.95L292.03 338.62L292.74 337.18L290.14 336.50Z M294.48 336.00L295.03 333.55L293.43 333.55L293.98 336.00Z M293.98 337.00L293.43 339.45L295.03 339.45L294.48 337.00Z M293.90 336.05L291.79 334.38L291.07 335.82L293.67 336.50Z M294.79 336.50L297.39 335.82L296.67 334.38L294.57 336.05Z M293.67 336.50L291.07 337.18L291.79 338.62L293.90 336.95Z M294.57 336.95L296.67 338.62L297.39 337.18L294.79 336.50Z M372.94 212.20L373.49 209.75L371.89 209.75L372.44 212.20Z M372.44 213.20L371.89 215.65L373.49 215.65L372.94 213.20Z M372.35 212.25L370.25 210.58L369.53 212.02L372.13 212.70Z M373.25 212.70L375.85 212.02L375.13 210.58L373.02 212.25Z M372.13 212.70L369.53 213.38L370.25 214.82L372.35 213.15Z M373.02 213.15L375.13 214.82L375.85 213.38L373.25 212.70Z M377.59 212.20L378.14 209.75L376.54 209.75L377.09 212.20Z M377.09 213.20L376.54 215.65L378.14 215.65L377.59 213.20Z M377.00 212.25L374.89 210.58L374.18 212.02L376.78 212.70Z M377.89 212.70L380.49 212.02L379.78 210.58L377.67 212.25Z M376.78 212.70L374.18 213.38L374.89 214.82L377.00 213.15Z M377.67 213.15L379.78 214.82L380.49 213.38L377.89 212.70Z M382.23 212.20L382.78 209.75L381.18 209.75L381.73 212.20Z M381.73 213.20L381.18 215.65L382.78 215.65L382.23 213.20Z M381.65 212.25L379.54 210.58L378.82 212.02L381.42 212.70Z M382.54 212.70L385.14 212.02L384.42 210.58L382.32 212.25Z M381.42 212.70L378.82 213.38L379.54 214.82L381.65 213.15Z M382.32 213.15L384.42 214.82L385.14 213.38L382.54 212.70Z M386.88 212.20L387.43 209.75L385.83 209.75L386.38 212.20Z M386.38 213.20L385.83 215.65L387.43 215.65L386.88 213.20Z M386.29 212.25L384.18 210.58L383.47 212.02L386.07 212.70Z M387.19 212.70L389.78 212.02L389.07 210.58L386.96 212.25Z M386.07 212.70L383.47 213.38L384.18 214.82L386.29 213.15Z M386.96 213.15L389.07 214.82L389.78 213.38L387.19 212.70Z M391.52 212.20L392.07 209.75L390.47 209.75L391.02 212.20Z M391.02 213.20L390.47 215.65L392.07 215.65L391.52 213.20Z M390.94 212.25L388.83 210.58L388.12 212.02L390.71 212.70Z M391.83 212.70L394.43 212.02L393.72 210.58L391.61 212.25Z M390.71 212.70L388.12 213.38L388.83 214.82L390.94 213.15Z M391.61 213.15L393.72 214.82L394.43 213.38L391.83 212.70Z M396.17 212.20L396.72 209.75L395.12 209.75L395.67 212.20Z M395.67 213.20L395.12 215.65L396.72 215.65L396.17 213.20Z M395.58 212.25L393.48 210.58L392.76 212.02L395.36 212.70Z M396.48 212.70L399.08 212.02L398.36 210.58L396.25 212.25Z M395.36 212.70L392.76 213.38L393.48 214.82L395.58 213.15Z M396.25 213.15L398.36 214.82L399.08 213.38L396.48 212.70Z M400.81 212.20L401.36 209.75L399.76 209.75L400.31 212.20Z M400.31 213.20L399.76 215.65L401.36 215.65L400.81 213.20Z M400.23 212.25L398.12 210.58L397.41 212.02L400.01 212.70Z M401.12 212.70L403.72 212.02L403.01 210.58L400.90 212.25Z M400.01 212.70L397.41 213.38L398.12 214.82L400.23 213.15Z M400.90 213.15L403.01 214.82L403.72 213.38L401.12 212.70Z M405.46 212.20L406.01 209.75L404.41 209.75L404.96 212.20Z M404.96 213.20L404.41 215.65L406.01 215.65L405.46 213.20Z M404.88 212.25L402.77 210.58L402.05 212.02L404.65 212.70Z M405.77 212.70L408.37 212.02L407.65 210.58L405.55 212.25Z M404.65 212.70L402.05 213.38L402.77 214.82L404.88 213.15Z M405.55 213.15L407.65 214.82L408.37 213.38L405.77 212.70Z M410.11 212.20L410.66 209.75L409.06 209.75L409.61 212.20Z M409.61 213.20L409.06 215.65L410.66 215.65L410.11 213.20Z M409.52 212.25L407.41 210.58L406.70 212.02L409.30 212.70Z M410.42 212.70L413.01 212.02L412.30 210.58L410.19 212.25Z M409.30 212.70L406.70 213.38L407.41 214.82L409.52 213.15Z M410.19 213.15L412.30 214.82L413.01 213.38L410.42 212.70Z M414.75 212.20L415.30 209.75L413.70 209.75L414.25 212.20Z M414.25 213.20L413.70 215.65L415.30 215.65L414.75 213.20Z M414.17 212.25L412.06 210.58L411.34 212.02L413.94 212.70Z M415.06 212.70L417.66 212.02L416.94 210.58L414.84 212.25Z M413.94 212.70L411.34 213.38L412.06 214.82L414.17 213.15Z M414.84 213.15L416.94 214.82L417.66 213.38L415.06 212.70Z M419.40 212.20L419.95 209.75L418.35 209.75L418.90 212.20Z M418.90 213.20L418.35 215.65L419.95 215.65L419.40 213.20Z M418.81 212.25L416.71 210.58L415.99 212.02L418.59 212.70Z M419.71 212.70L422.31 212.02L421.59 210.58L419.48 212.25Z M418.59 212.70L415.99 213.38L416.71 214.82L418.81 213.15Z M419.48 213.15L421.59 214.82L422.31 213.38L419.71 212.70Z M424.04 212.20L424.59 209.75L422.99 209.75L423.54 212.20Z M423.54 213.20L422.99 215.65L424.59 215.65L424.04 213.20Z M423.46 212.25L421.35 210.58L420.64 212.02L423.23 212.70Z M424.35 212.70L426.95 212.02L426.24 210.58L424.13 212.25Z M423.23 212.70L420.64 213.38L421.35 214.82L423.46 213.15Z M424.13 213.15L426.24 214.82L426.95 213.38L424.35 212.70Z M428.69 212.20L429.24 209.75L427.64 209.75L428.19 212.20Z M428.19 213.20L427.64 215.65L429.24 215.65L428.69 213.20Z M428.10 212.25L426.00 210.58L425.28 212.02L427.88 212.70Z M429.00 212.70L431.60 212.02L430.88 210.58L428.77 212.25Z M427.88 212.70L425.28 213.38L426.00 214.82L428.10 213.15Z M428.77 213.15L430.88 214.82L431.60 213.38L429.00 212.70Z M433.34 212.20L433.89 209.75L432.29 209.75L432.84 212.20Z M432.84 213.20L432.29 215.65L433.89 215.65L433.34 213.20Z M432.75 212.25L430.64 210.58L429.93 212.02L432.53 212.70Z M433.64 212.70L436.24 212.02L435.53 210.58L433.42 212.25Z M432.53 212.70L429.93 213.38L430.64 214.82L432.75 213.15Z M433.42 213.15L435.53 214.82L436.24 213.38L433.64 212.70Z M437.98 212.20L438.53 209.75L436.93 209.75L437.48 212.20Z M437.48 213.20L436.93 215.65L438.53 215.65L437.98 213.20Z M437.40 212.25L435.29 210.58L434.57 212.02L437.17 212.70Z M438.29 212.70L440.89 212.02L440.17 210.58L438.07 212.25Z M437.17 212.70L434.57 213.38L435.29 214.82L437.40 213.15Z M438.07 213.15L440.17 214.82L440.89 213.38L438.29 212.70Z M442.63 212.20L443.18 209.75L441.58 209.75L442.13 212.20Z M442.13 213.20L441.58 215.65L443.18 215.65L442.63 213.20Z M442.04 212.25L439.93 210.58L439.22 212.02L441.82 212.70Z M442.94 212.70L445.53 212.02L444.82 210.58L442.71 212.25Z M441.82 212.70L439.22 213.38L439.93 214.82L442.04 213.15Z M442.71 213.15L444.82 214.82L445.53 213.38L442.94 212.70Z M447.27 212.20L447.82 209.75L446.22 209.75L446.77 212.20Z M446.77 213.20L446.22 215.65L447.82 215.65L447.27 213.20Z M446.69 212.25L444.58 210.58L443.87 212.02L446.46 212.70Z M447.58 212.70L450.18 212.02L449.47 210.58L447.36 212.25Z M446.46 212.70L443.87 213.38L444.58 214.82L446.69 213.15Z M447.36 213.15L449.47 214.82L450.18 213.38L447.58 212.70Z M451.92 212.20L452.47 209.75L450.87 209.75L451.42 212.20Z M451.42 213.20L450.87 215.65L452.47 215.65L451.92 213.20Z M451.33 212.25L449.23 210.58L448.51 212.02L451.11 212.70Z M452.23 212.70L454.83 212.02L454.11 210.58L452.00 212.25Z M451.11 212.70L448.51 213.38L449.23 214.82L451.33 213.15Z M452.00 213.15L454.11 214.82L454.83 213.38L452.23 212.70Z M456.56 212.20L457.11 209.75L455.51 209.75L456.06 212.20Z M456.06 213.20L455.51 215.65L457.11 215.65L456.56 213.20Z M455.98 212.25L453.87 210.58L453.16 212.02L455.76 212.70Z M456.87 212.70L459.47 212.02L458.76 210.58L456.65 212.25Z M455.76 212.70L453.16 213.38L453.87 214.82L455.98 213.15Z M456.65 213.15L458.76 214.82L459.47 213.38L456.87 212.70Z M461.21 212.20L461.76 209.75L460.16 209.75L460.71 212.20Z M460.71 213.20L460.16 215.65L461.76 215.65L461.21 213.20Z M460.63 212.25L458.52 210.58L457.80 212.02L460.40 212.70Z M461.52 212.70L464.12 212.02L463.40 210.58L461.30 212.25Z M460.40 212.70L457.80 213.38L458.52 214.82L460.63 213.15Z M461.30 213.15L463.40 214.82L464.12 213.38L461.52 212.70Z M465.86 212.20L466.41 209.75L464.81 209.75L465.36 212.20Z M465.36 213.20L464.81 215.65L466.41 215.65L465.86 213.20Z M465.27 212.25L463.16 210.58L462.45 212.02L465.05 212.70Z M466.17 212.70L468.76 212.02L468.05 210.58L465.94 212.25Z M465.05 212.70L462.45 213.38L463.16 214.82L465.27 213.15Z M465.94 213.15L468.05 214.82L468.76 213.38L466.17 212.70Z M470.50 212.20L471.05 209.75L469.45 209.75L470.00 212.20Z M470.00 213.20L469.45 215.65L471.05 215.65L470.50 213.20Z M469.92 212.25L467.81 210.58L467.09 212.02L469.69 212.70Z M470.81 212.70L473.41 212.02L472.69 210.58L470.59 212.25Z M469.69 212.70L467.09 213.38L467.81 214.82L469.92 213.15Z M470.59 213.15L472.69 214.82L473.41 213.38L470.81 212.70Z M475.15 212.20L475.70 209.75L474.10 209.75L474.65 212.20Z M474.65 213.20L474.10 215.65L475.70 215.65L475.15 213.20Z M474.56 212.25L472.46 210.58L471.74 212.02L474.34 212.70Z M475.46 212.70L478.06 212.02L477.34 210.58L475.23 212.25Z M474.34 212.70L471.74 213.38L472.46 214.82L474.56 213.15Z M475.23 213.15L477.34 214.82L478.06 213.38L475.46 212.70Z M479.79 212.20L480.34 209.75L478.74 209.75L479.29 212.20Z M479.29 213.20L478.74 215.65L480.34 215.65L479.79 213.20Z M479.21 212.25L477.10 210.58L476.39 212.02L478.98 212.70Z M480.10 212.70L482.70 212.02L481.99 210.58L479.88 212.25Z M478.98 212.70L476.39 213.38L477.10 214.82L479.21 213.15Z M479.88 213.15L481.99 214.82L482.70 213.38L480.10 212.70Z M484.44 212.20L484.99 209.75L483.39 209.75L483.94 212.20Z M483.94 213.20L483.39 215.65L484.99 215.65L484.44 213.20Z M483.85 212.25L481.75 210.58L481.03 212.02L483.63 212.70Z M484.75 212.70L487.35 212.02L486.63 210.58L484.52 212.25Z M483.63 212.70L481.03 213.38L481.75 214.82L483.85 213.15Z M484.52 213.15L486.63 214.82L487.35 213.38L484.75 212.70Z M493.73 212.20L494.28 209.75L492.68 209.75L493.23 212.20Z M493.23 213.20L492.68 215.65L494.28 215.65L493.73 213.20Z M493.15 212.25L491.04 210.58L490.32 212.02L492.92 212.70Z M494.04 212.70L496.64 212.02L495.92 210.58L493.82 212.25Z M492.92 212.70L490.32 213.38L491.04 214.82L493.15 213.15Z M493.82 213.15L495.92 214.82L496.64 213.38L494.04 212.70Z M498.38 212.20L498.93 209.75L497.33 209.75L497.88 212.20Z M497.88 213.20L497.33 215.65L498.93 215.65L498.38 213.20Z M497.79 212.25L495.68 210.58L494.97 212.02L497.57 212.70Z M498.69 212.70L501.28 212.02L500.57 210.58L498.46 212.25Z M497.57 212.70L494.97 213.38L495.68 214.82L497.79 213.15Z M498.46 213.15L500.57 214.82L501.28 213.38L498.69 212.70Z M507.67 212.20L508.22 209.75L506.62 209.75L507.17 212.20Z M507.17 213.20L506.62 215.65L508.22 215.65L507.67 213.20Z M507.08 212.25L504.98 210.58L504.26 212.02L506.86 212.70Z M507.98 212.70L510.58 212.02L509.86 210.58L507.75 212.25Z M506.86 212.70L504.26 213.38L504.98 214.82L507.08 213.15Z M507.75 213.15L509.86 214.82L510.58 213.38L507.98 212.70Z M516.96 212.20L517.51 209.75L515.91 209.75L516.46 212.20Z M516.46 213.20L515.91 215.65L517.51 215.65L516.96 213.20Z M516.38 212.25L514.27 210.58L513.55 212.02L516.15 212.70Z M517.27 212.70L519.87 212.02L519.15 210.58L517.05 212.25Z M516.15 212.70L513.55 213.38L514.27 214.82L516.38 213.15Z M517.05 213.15L519.15 214.82L519.87 213.38L517.27 212.70Z M526.25 212.20L526.80 209.75L525.20 209.75L525.75 212.20Z M525.75 213.20L525.20 215.65L526.80 215.65L526.25 213.20Z M525.67 212.25L523.56 210.58L522.84 212.02L525.44 212.70Z M526.56 212.70L529.16 212.02L528.44 210.58L526.34 212.25Z M525.44 212.70L522.84 213.38L523.56 214.82L525.67 213.15Z M526.34 213.15L528.44 214.82L529.16 213.38L526.56 212.70Z M530.90 212.20L531.45 209.75L529.85 209.75L530.40 212.20Z M530.40 213.20L529.85 215.65L531.45 215.65L530.90 213.20Z M530.31 212.25L528.21 210.58L527.49 212.02L530.09 212.70Z M531.21 212.70L533.81 212.02L533.09 210.58L530.98 212.25Z M530.09 212.70L527.49 213.38L528.21 214.82L530.31 213.15Z M530.98 213.15L533.09 214.82L533.81 213.38L531.21 212.70Z M535.54 212.20L536.09 209.75L534.49 209.75L535.04 212.20Z M535.04 213.20L534.49 215.65L536.09 215.65L535.54 213.20Z M534.96 212.25L532.85 210.58L532.14 212.02L534.73 212.70Z M535.85 212.70L538.45 212.02L537.74 210.58L535.63 212.25Z M534.73 212.70L532.14 213.38L532.85 214.82L534.96 213.15Z M535.63 213.15L537.74 214.82L538.45 213.38L535.85 212.70Z M540.19 212.20L540.74 209.75L539.14 209.75L539.69 212.20Z M539.69 213.20L539.14 215.65L540.74 215.65L540.19 213.20Z M539.60 212.25L537.50 210.58L536.78 212.02L539.38 212.70Z M540.50 212.70L543.10 212.02L542.38 210.58L540.27 212.25Z M539.38 212.70L536.78 213.38L537.50 214.82L539.60 213.15Z M540.27 213.15L542.38 214.82L543.10 213.38L540.50 212.70Z M544.84 212.20L545.39 209.75L543.79 209.75L544.34 212.20Z M544.34 213.20L543.79 215.65L545.39 215.65L544.84 213.20Z M544.25 212.25L542.14 210.58L541.43 212.02L544.03 212.70Z M545.14 212.70L547.74 212.02L547.03 210.58L544.92 212.25Z M544.03 212.70L541.43 213.38L542.14 214.82L544.25 213.15Z M544.92 213.15L547.03 214.82L547.74 213.38L545.14 212.70Z M549.48 212.20L550.03 209.75L548.43 209.75L548.98 212.20Z M548.98 213.20L548.43 215.65L550.03 215.65L549.48 213.20Z M548.90 212.25L546.79 210.58L546.07 212.02L548.67 212.70Z M549.79 212.70L552.39 212.02L551.67 210.58L549.57 212.25Z M548.67 212.70L546.07 213.38L546.79 214.82L548.90 213.15Z M549.57 213.15L551.67 214.82L552.39 213.38L549.79 212.70Z M396.17 242.70L396.72 240.25L395.12 240.25L395.67 242.70Z M395.67 243.70L395.12 246.15L396.72 246.15L396.17 243.70Z M395.58 242.75L393.48 241.08L392.76 242.52L395.36 243.20Z M396.48 243.20L399.08 242.52L398.36 241.08L396.25 242.75Z M395.36 243.20L392.76 243.88L393.48 245.32L395.58 243.65Z M396.25 243.65L398.36 245.32L399.08 243.88L396.48 243.20Z M400.81 242.70L401.36 240.25L399.76 240.25L400.31 242.70Z M400.31 243.70L399.76 246.15L401.36 246.15L400.81 243.70Z M400.23 242.75L398.12 241.08L397.41 242.52L400.01 243.20Z M401.12 243.20L403.72 242.52L403.01 241.08L400.90 242.75Z M400.01 243.20L397.41 243.88L398.12 245.32L400.23 243.65Z M400.90 243.65L403.01 245.32L403.72 243.88L401.12 243.20Z M405.46 242.70L406.01 240.25L404.41 240.25L404.96 242.70Z M404.96 243.70L404.41 246.15L406.01 246.15L405.46 243.70Z M404.88 242.75L402.77 241.08L402.05 242.52L404.65 243.20Z M405.77 243.20L408.37 242.52L407.65 241.08L405.55 242.75Z M404.65 243.20L402.05 243.88L402.77 245.32L404.88 243.65Z M405.55 243.65L407.65 245.32L408.37 243.88L405.77 243.20Z M410.11 242.70L410.66 240.25L409.06 240.25L409.61 242.70Z M409.61 243.70L409.06 246.15L410.66 246.15L410.11 243.70Z M409.52 242.75L407.41 241.08L406.70 242.52L409.30 243.20Z M410.42 243.20L413.01 242.52L412.30 241.08L410.19 242.75Z M409.30 243.20L406.70 243.88L407.41 245.32L409.52 243.65Z M410.19 243.65L412.30 245.32L413.01 243.88L410.42 243.20Z M414.75 242.70L415.30 240.25L413.70 240.25L414.25 242.70Z M414.25 243.70L413.70 246.15L415.30 246.15L414.75 243.70Z M414.17 242.75L412.06 241.08L411.34 242.52L413.94 243.20Z M415.06 243.20L417.66 242.52L416.94 241.08L414.84 242.75Z M413.94 243.20L411.34 243.88L412.06 245.32L414.17 243.65Z M414.84 243.65L416.94 245.32L417.66 243.88L415.06 243.20Z M419.40 242.70L419.95 240.25L418.35 240.25L418.90 242.70Z M418.90 243.70L418.35 246.15L419.95 246.15L419.40 243.70Z M418.81 242.75L416.71 241.08L415.99 242.52L418.59 243.20Z M419.71 243.20L422.31 242.52L421.59 241.08L419.48 242.75Z M418.59 243.20L415.99 243.88L416.71 245.32L418.81 243.65Z M419.48 243.65L421.59 245.32L422.31 243.88L419.71 243.20Z M424.04 242.70L424.59 240.25L422.99 240.25L423.54 242.70Z M423.54 243.70L422.99 246.15L424.59 246.15L424.04 243.70Z M423.46 242.75L421.35 241.08L420.64 242.52L423.23 243.20Z M424.35 243.20L426.95 242.52L426.24 241.08L424.13 242.75Z M423.23 243.20L420.64 243.88L421.35 245.32L423.46 243.65Z M424.13 243.65L426.24 245.32L426.95 243.88L424.35 243.20Z M428.69 242.70L429.24 240.25L427.64 240.25L428.19 242.70Z M428.19 243.70L427.64 246.15L429.24 246.15L428.69 243.70Z M428.10 242.75L426.00 241.08L425.28 242.52L427.88 243.20Z M429.00 243.20L431.60 242.52L430.88 241.08L428.77 242.75Z M427.88 243.20L425.28 243.88L426.00 245.32L428.10 243.65Z M428.77 243.65L430.88 245.32L431.60 243.88L429.00 243.20Z M433.34 242.70L433.89 240.25L432.29 240.25L432.84 242.70Z M432.84 243.70L432.29 246.15L433.89 246.15L433.34 243.70Z M432.75 242.75L430.64 241.08L429.93 242.52L432.53 243.20Z M433.64 243.20L436.24 242.52L435.53 241.08L433.42 242.75Z M432.53 243.20L429.93 243.88L430.64 245.32L432.75 243.65Z M433.42 243.65L435.53 245.32L436.24 243.88L433.64 243.20Z M437.98 242.70L438.53 240.25L436.93 240.25L437.48 242.70Z M437.48 243.70L436.93 246.15L438.53 246.15L437.98 243.70Z M437.40 242.75L435.29 241.08L434.57 242.52L437.17 243.20Z M438.29 243.20L440.89 242.52L440.17 241.08L438.07 242.75Z M437.17 243.20L434.57 243.88L435.29 245.32L437.40 243.65Z M438.07 243.65L440.17 245.32L440.89 243.88L438.29 243.20Z M442.63 242.70L443.18 240.25L441.58 240.25L442.13 242.70Z M442.13 243.70L441.58 246.15L443.18 246.15L442.63 243.70Z M442.04 242.75L439.93 241.08L439.22 242.52L441.82 243.20Z M442.94 243.20L445.53 242.52L444.82 241.08L442.71 242.75Z M441.82 243.20L439.22 243.88L439.93 245.32L442.04 243.65Z M442.71 243.65L444.82 245.32L445.53 243.88L442.94 243.20Z M447.27 242.70L447.82 240.25L446.22 240.25L446.77 242.70Z M446.77 243.70L446.22 246.15L447.82 246.15L447.27 243.70Z M446.69 242.75L444.58 241.08L443.87 242.52L446.46 243.20Z M447.58 243.20L450.18 242.52L449.47 241.08L447.36 242.75Z M446.46 243.20L443.87 243.88L444.58 245.32L446.69 243.65Z M447.36 243.65L449.47 245.32L450.18 243.88L447.58 243.20Z M451.92 242.70L452.47 240.25L450.87 240.25L451.42 242.70Z M451.42 243.70L450.87 246.15L452.47 246.15L451.92 243.70Z M451.33 242.75L449.23 241.08L448.51 242.52L451.11 243.20Z M452.23 243.20L454.83 242.52L454.11 241.08L452.00 242.75Z M451.11 243.20L448.51 243.88L449.23 245.32L451.33 243.65Z M452.00 243.65L454.11 245.32L454.83 243.88L452.23 243.20Z M456.56 242.70L457.11 240.25L455.51 240.25L456.06 242.70Z M456.06 243.70L455.51 246.15L457.11 246.15L456.56 243.70Z M455.98 242.75L453.87 241.08L453.16 242.52L455.76 243.20Z M456.87 243.20L459.47 242.52L458.76 241.08L456.65 242.75Z M455.76 243.20L453.16 243.88L453.87 245.32L455.98 243.65Z M456.65 243.65L458.76 245.32L459.47 243.88L456.87 243.20Z M461.21 242.70L461.76 240.25L460.16 240.25L460.71 242.70Z M460.71 243.70L460.16 246.15L461.76 246.15L461.21 243.70Z M460.63 242.75L458.52 241.08L457.80 242.52L460.40 243.20Z M461.52 243.20L464.12 242.52L463.40 241.08L461.30 242.75Z M460.40 243.20L457.80 243.88L458.52 245.32L460.63 243.65Z M461.30 243.65L463.40 245.32L464.12 243.88L461.52 243.20Z M465.86 242.70L466.41 240.25L464.81 240.25L465.36 242.70Z M465.36 243.70L464.81 246.15L466.41 246.15L465.86 243.70Z M465.27 242.75L463.16 241.08L462.45 242.52L465.05 243.20Z M466.17 243.20L468.76 242.52L468.05 241.08L465.94 242.75Z M465.05 243.20L462.45 243.88L463.16 245.32L465.27 243.65Z M465.94 243.65L468.05 245.32L468.76 243.88L466.17 243.20Z M470.50 242.70L471.05 240.25L469.45 240.25L470.00 242.70Z M470.00 243.70L469.45 246.15L471.05 246.15L470.50 243.70Z M469.92 242.75L467.81 241.08L467.09 242.52L469.69 243.20Z M470.81 243.20L473.41 242.52L472.69 241.08L470.59 242.75Z M469.69 243.20L467.09 243.88L467.81 245.32L469.92 243.65Z M470.59 243.65L472.69 245.32L473.41 243.88L470.81 243.20Z M475.15 242.70L475.70 240.25L474.10 240.25L474.65 242.70Z M474.65 243.70L474.10 246.15L475.70 246.15L475.15 243.70Z M474.56 242.75L472.46 241.08L471.74 242.52L474.34 243.20Z M475.46 243.20L478.06 242.52L477.34 241.08L475.23 242.75Z M474.34 243.20L471.74 243.88L472.46 245.32L474.56 243.65Z M475.23 243.65L477.34 245.32L478.06 243.88L475.46 243.20Z M479.79 242.70L480.34 240.25L478.74 240.25L479.29 242.70Z M479.29 243.70L478.74 246.15L480.34 246.15L479.79 243.70Z M479.21 242.75L477.10 241.08L476.39 242.52L478.98 243.20Z M480.10 243.20L482.70 242.52L481.99 241.08L479.88 242.75Z M478.98 243.20L476.39 243.88L477.10 245.32L479.21 243.65Z M479.88 243.65L481.99 245.32L482.70 243.88L480.10 243.20Z M484.44 242.70L484.99 240.25L483.39 240.25L483.94 242.70Z M483.94 243.70L483.39 246.15L484.99 246.15L484.44 243.70Z M483.85 242.75L481.75 241.08L481.03 242.52L483.63 243.20Z M484.75 243.20L487.35 242.52L486.63 241.08L484.52 242.75Z M483.63 243.20L481.03 243.88L481.75 245.32L483.85 243.65Z M484.52 243.65L486.63 245.32L487.35 243.88L484.75 243.20Z M489.09 242.70L489.64 240.25L488.04 240.25L488.59 242.70Z M488.59 243.70L488.04 246.15L489.64 246.15L489.09 243.70Z M488.50 242.75L486.39 241.08L485.68 242.52L488.28 243.20Z M489.39 243.20L491.99 242.52L491.28 241.08L489.17 242.75Z M488.28 243.20L485.68 243.88L486.39 245.32L488.50 243.65Z M489.17 243.65L491.28 245.32L491.99 243.88L489.39 243.20Z M493.73 242.70L494.28 240.25L492.68 240.25L493.23 242.70Z M493.23 243.70L492.68 246.15L494.28 246.15L493.73 243.70Z M493.15 242.75L491.04 241.08L490.32 242.52L492.92 243.20Z M494.04 243.20L496.64 242.52L495.92 241.08L493.82 242.75Z M492.92 243.20L490.32 243.88L491.04 245.32L493.15 243.65Z M493.82 243.65L495.92 245.32L496.64 243.88L494.04 243.20Z M498.38 242.70L498.93 240.25L497.33 240.25L497.88 242.70Z M497.88 243.70L497.33 246.15L498.93 246.15L498.38 243.70Z M497.79 242.75L495.68 241.08L494.97 242.52L497.57 243.20Z M498.69 243.20L501.28 242.52L500.57 241.08L498.46 242.75Z M497.57 243.20L494.97 243.88L495.68 245.32L497.79 243.65Z M498.46 243.65L500.57 245.32L501.28 243.88L498.69 243.20Z M503.02 242.70L503.57 240.25L501.97 240.25L502.52 242.70Z M502.52 243.70L501.97 246.15L503.57 246.15L503.02 243.70Z M502.44 242.75L500.33 241.08L499.62 242.52L502.21 243.20Z M503.33 243.20L505.93 242.52L505.22 241.08L503.11 242.75Z M502.21 243.20L499.62 243.88L500.33 245.32L502.44 243.65Z M503.11 243.65L505.22 245.32L505.93 243.88L503.33 243.20Z M507.67 242.70L508.22 240.25L506.62 240.25L507.17 242.70Z M507.17 243.70L506.62 246.15L508.22 246.15L507.67 243.70Z M507.08 242.75L504.98 241.08L504.26 242.52L506.86 243.20Z M507.98 243.20L510.58 242.52L509.86 241.08L507.75 242.75Z M506.86 243.20L504.26 243.88L504.98 245.32L507.08 243.65Z M507.75 243.65L509.86 245.32L510.58 243.88L507.98 243.20Z M512.31 242.70L512.86 240.25L511.26 240.25L511.81 242.70Z M511.81 243.70L511.26 246.15L512.86 246.15L512.31 243.70Z M511.73 242.75L509.62 241.08L508.91 242.52L511.51 243.20Z M512.62 243.20L515.22 242.52L514.51 241.08L512.40 242.75Z M511.51 243.20L508.91 243.88L509.62 245.32L511.73 243.65Z M512.40 243.65L514.51 245.32L515.22 243.88L512.62 243.20Z M516.96 242.70L517.51 240.25L515.91 240.25L516.46 242.70Z M516.46 243.70L515.91 246.15L517.51 246.15L516.96 243.70Z M516.38 242.75L514.27 241.08L513.55 242.52L516.15 243.20Z M517.27 243.20L519.87 242.52L519.15 241.08L517.05 242.75Z M516.15 243.20L513.55 243.88L514.27 245.32L516.38 243.65Z M517.05 243.65L519.15 245.32L519.87 243.88L517.27 243.20Z M521.61 242.70L522.16 240.25L520.56 240.25L521.11 242.70Z M521.11 243.70L520.56 246.15L522.16 246.15L521.61 243.70Z M521.02 242.75L518.91 241.08L518.20 242.52L520.80 243.20Z M521.92 243.20L524.51 242.52L523.80 241.08L521.69 242.75Z M520.80 243.20L518.20 243.88L518.91 245.32L521.02 243.65Z M521.69 243.65L523.80 245.32L524.51 243.88L521.92 243.20Z M526.25 242.70L526.80 240.25L525.20 240.25L525.75 242.70Z M525.75 243.70L525.20 246.15L526.80 246.15L526.25 243.70Z M525.67 242.75L523.56 241.08L522.84 242.52L525.44 243.20Z M526.56 243.20L529.16 242.52L528.44 241.08L526.34 242.75Z M525.44 243.20L522.84 243.88L523.56 245.32L525.67 243.65Z M526.34 243.65L528.44 245.32L529.16 243.88L526.56 243.20Z M530.90 242.70L531.45 240.25L529.85 240.25L530.40 242.70Z M530.40 243.70L529.85 246.15L531.45 246.15L530.90 243.70Z M530.31 242.75L528.21 241.08L527.49 242.52L530.09 243.20Z M531.21 243.20L533.81 242.52L533.09 241.08L530.98 242.75Z M530.09 243.20L527.49 243.88L528.21 245.32L530.31 243.65Z M530.98 243.65L533.09 245.32L533.81 243.88L531.21 243.20Z M535.54 242.70L536.09 240.25L534.49 240.25L535.04 242.70Z M535.04 243.70L534.49 246.15L536.09 246.15L535.54 243.70Z M534.96 242.75L532.85 241.08L532.14 242.52L534.73 243.20Z M535.85 243.20L538.45 242.52L537.74 241.08L535.63 242.75Z M534.73 243.20L532.14 243.88L532.85 245.32L534.96 243.65Z M535.63 243.65L537.74 245.32L538.45 243.88L535.85 243.20Z M540.19 242.70L540.74 240.25L539.14 240.25L539.69 242.70Z M539.69 243.70L539.14 246.15L540.74 246.15L540.19 243.70Z M539.60 242.75L537.50 241.08L536.78 242.52L539.38 243.20Z M540.50 243.20L543.10 242.52L542.38 241.08L540.27 242.75Z M539.38 243.20L536.78 243.88L537.50 245.32L539.60 243.65Z M540.27 243.65L542.38 245.32L543.10 243.88L540.50 243.20Z M544.84 242.70L545.39 240.25L543.79 240.25L544.34 242.70Z M544.34 243.70L543.79 246.15L545.39 246.15L544.84 243.70Z M544.25 242.75L542.14 241.08L541.43 242.52L544.03 243.20Z M545.14 243.20L547.74 242.52L547.03 241.08L544.92 242.75Z M544.03 243.20L541.43 243.88L542.14 245.32L544.25 243.65Z M544.92 243.65L547.03 245.32L547.74 243.88L545.14 243.20Z M549.48 242.70L550.03 240.25L548.43 240.25L548.98 242.70Z M548.98 243.70L548.43 246.15L550.03 246.15L549.48 243.70Z M548.90 242.75L546.79 241.08L546.07 242.52L548.67 243.20Z M549.79 243.20L552.39 242.52L551.67 241.08L549.57 242.75Z M548.67 243.20L546.07 243.88L546.79 245.32L548.90 243.65Z M549.57 243.65L551.67 245.32L552.39 243.88L549.79 243.20Z M554.13 242.70L554.68 240.25L553.08 240.25L553.63 242.70Z M553.63 243.70L553.08 246.15L554.68 246.15L554.13 243.70Z M553.54 242.75L551.43 241.08L550.72 242.52L553.32 243.20Z M554.44 243.20L557.03 242.52L556.32 241.08L554.21 242.75Z M553.32 243.20L550.72 243.88L551.43 245.32L553.54 243.65Z M554.21 243.65L556.32 245.32L557.03 243.88L554.44 243.20Z M363.65 270.70L364.20 268.25L362.60 268.25L363.15 270.70Z M363.15 271.70L362.60 274.15L364.20 274.15L363.65 271.70Z M363.06 270.75L360.96 269.08L360.24 270.52L362.84 271.20Z M363.96 271.20L366.56 270.52L365.84 269.08L363.73 270.75Z M362.84 271.20L360.24 271.88L360.96 273.32L363.06 271.65Z M363.73 271.65L365.84 273.32L366.56 271.88L363.96 271.20Z M368.29 270.70L368.84 268.25L367.24 268.25L367.79 270.70Z M367.79 271.70L367.24 274.15L368.84 274.15L368.29 271.70Z M367.71 270.75L365.60 269.08L364.89 270.52L367.48 271.20Z M368.60 271.20L371.20 270.52L370.49 269.08L368.38 270.75Z M367.48 271.20L364.89 271.88L365.60 273.32L367.71 271.65Z M368.38 271.65L370.49 273.32L371.20 271.88L368.60 271.20Z M372.94 270.70L373.49 268.25L371.89 268.25L372.44 270.70Z M372.44 271.70L371.89 274.15L373.49 274.15L372.94 271.70Z M372.35 270.75L370.25 269.08L369.53 270.52L372.13 271.20Z M373.25 271.20L375.85 270.52L375.13 269.08L373.02 270.75Z M372.13 271.20L369.53 271.88L370.25 273.32L372.35 271.65Z M373.02 271.65L375.13 273.32L375.85 271.88L373.25 271.20Z M377.59 270.70L378.14 268.25L376.54 268.25L377.09 270.70Z M377.09 271.70L376.54 274.15L378.14 274.15L377.59 271.70Z M377.00 270.75L374.89 269.08L374.18 270.52L376.78 271.20Z M377.89 271.20L380.49 270.52L379.78 269.08L377.67 270.75Z M376.78 271.20L374.18 271.88L374.89 273.32L377.00 271.65Z M377.67 271.65L379.78 273.32L380.49 271.88L377.89 271.20Z M382.23 270.70L382.78 268.25L381.18 268.25L381.73 270.70Z M381.73 271.70L381.18 274.15L382.78 274.15L382.23 271.70Z M381.65 270.75L379.54 269.08L378.82 270.52L381.42 271.20Z M382.54 271.20L385.14 270.52L384.42 269.08L382.32 270.75Z M381.42 271.20L378.82 271.88L379.54 273.32L381.65 271.65Z M382.32 271.65L384.42 273.32L385.14 271.88L382.54 271.20Z M386.88 270.70L387.43 268.25L385.83 268.25L386.38 270.70Z M386.38 271.70L385.83 274.15L387.43 274.15L386.88 271.70Z M386.29 270.75L384.18 269.08L383.47 270.52L386.07 271.20Z M387.19 271.20L389.78 270.52L389.07 269.08L386.96 270.75Z M386.07 271.20L383.47 271.88L384.18 273.32L386.29 271.65Z M386.96 271.65L389.07 273.32L389.78 271.88L387.19 271.20Z M391.52 270.70L392.07 268.25L390.47 268.25L391.02 270.70Z M391.02 271.70L390.47 274.15L392.07 274.15L391.52 271.70Z M390.94 270.75L388.83 269.08L388.12 270.52L390.71 271.20Z M391.83 271.20L394.43 270.52L393.72 269.08L391.61 270.75Z M390.71 271.20L388.12 271.88L388.83 273.32L390.94 271.65Z M391.61 271.65L393.72 273.32L394.43 271.88L391.83 271.20Z M396.17 270.70L396.72 268.25L395.12 268.25L395.67 270.70Z M395.67 271.70L395.12 274.15L396.72 274.15L396.17 271.70Z M395.58 270.75L393.48 269.08L392.76 270.52L395.36 271.20Z M396.48 271.20L399.08 270.52L398.36 269.08L396.25 270.75Z M395.36 271.20L392.76 271.88L393.48 273.32L395.58 271.65Z M396.25 271.65L398.36 273.32L399.08 271.88L396.48 271.20Z M400.81 270.70L401.36 268.25L399.76 268.25L400.31 270.70Z M400.31 271.70L399.76 274.15L401.36 274.15L400.81 271.70Z M400.23 270.75L398.12 269.08L397.41 270.52L400.01 271.20Z M401.12 271.20L403.72 270.52L403.01 269.08L400.90 270.75Z M400.01 271.20L397.41 271.88L398.12 273.32L400.23 271.65Z M400.90 271.65L403.01 273.32L403.72 271.88L401.12 271.20Z M405.46 270.70L406.01 268.25L404.41 268.25L404.96 270.70Z M404.96 271.70L404.41 274.15L406.01 274.15L405.46 271.70Z M404.88 270.75L402.77 269.08L402.05 270.52L404.65 271.20Z M405.77 271.20L408.37 270.52L407.65 269.08L405.55 270.75Z M404.65 271.20L402.05 271.88L402.77 273.32L404.88 271.65Z M405.55 271.65L407.65 273.32L408.37 271.88L405.77 271.20Z M410.11 270.70L410.66 268.25L409.06 268.25L409.61 270.70Z M409.61 271.70L409.06 274.15L410.66 274.15L410.11 271.70Z M409.52 270.75L407.41 269.08L406.70 270.52L409.30 271.20Z M410.42 271.20L413.01 270.52L412.30 269.08L410.19 270.75Z M409.30 271.20L406.70 271.88L407.41 273.32L409.52 271.65Z M410.19 271.65L412.30 273.32L413.01 271.88L410.42 271.20Z M414.75 270.70L415.30 268.25L413.70 268.25L414.25 270.70Z M414.25 271.70L413.70 274.15L415.30 274.15L414.75 271.70Z M414.17 270.75L412.06 269.08L411.34 270.52L413.94 271.20Z M415.06 271.20L417.66 270.52L416.94 269.08L414.84 270.75Z M413.94 271.20L411.34 271.88L412.06 273.32L414.17 271.65Z M414.84 271.65L416.94 273.32L417.66 271.88L415.06 271.20Z M419.40 270.70L419.95 268.25L418.35 268.25L418.90 270.70Z M418.90 271.70L418.35 274.15L419.95 274.15L419.40 271.70Z M418.81 270.75L416.71 269.08L415.99 270.52L418.59 271.20Z M419.71 271.20L422.31 270.52L421.59 269.08L419.48 270.75Z M418.59 271.20L415.99 271.88L416.71 273.32L418.81 271.65Z M419.48 271.65L421.59 273.32L422.31 271.88L419.71 271.20Z M424.04 270.70L424.59 268.25L422.99 268.25L423.54 270.70Z M423.54 271.70L422.99 274.15L424.59 274.15L424.04 271.70Z M423.46 270.75L421.35 269.08L420.64 270.52L423.23 271.20Z M424.35 271.20L426.95 270.52L426.24 269.08L424.13 270.75Z M423.23 271.20L420.64 271.88L421.35 273.32L423.46 271.65Z M424.13 271.65L426.24 273.32L426.95 271.88L424.35 271.20Z M428.69 270.70L429.24 268.25L427.64 268.25L428.19 270.70Z M428.19 271.70L427.64 274.15L429.24 274.15L428.69 271.70Z M428.10 270.75L426.00 269.08L425.28 270.52L427.88 271.20Z M429.00 271.20L431.60 270.52L430.88 269.08L428.77 270.75Z M427.88 271.20L425.28 271.88L426.00 273.32L428.10 271.65Z M428.77 271.65L430.88 273.32L431.60 271.88L429.00 271.20Z M433.34 270.70L433.89 268.25L432.29 268.25L432.84 270.70Z M432.84 271.70L432.29 274.15L433.89 274.15L433.34 271.70Z M432.75 270.75L430.64 269.08L429.93 270.52L432.53 271.20Z M433.64 271.20L436.24 270.52L435.53 269.08L433.42 270.75Z M432.53 271.20L429.93 271.88L430.64 273.32L432.75 271.65Z M433.42 271.65L435.53 273.32L436.24 271.88L433.64 271.20Z M437.98 270.70L438.53 268.25L436.93 268.25L437.48 270.70Z M437.48 271.70L436.93 274.15L438.53 274.15L437.98 271.70Z M437.40 270.75L435.29 269.08L434.57 270.52L437.17 271.20Z M438.29 271.20L440.89 270.52L440.17 269.08L438.07 270.75Z M437.17 271.20L434.57 271.88L435.29 273.32L437.40 271.65Z M438.07 271.65L440.17 273.32L440.89 271.88L438.29 271.20Z M442.63 270.70L443.18 268.25L441.58 268.25L442.13 270.70Z M442.13 271.70L441.58 274.15L443.18 274.15L442.63 271.70Z M442.04 270.75L439.93 269.08L439.22 270.52L441.82 271.20Z M442.94 271.20L445.53 270.52L444.82 269.08L442.71 270.75Z M441.82 271.20L439.22 271.88L439.93 273.32L442.04 271.65Z M442.71 271.65L444.82 273.32L445.53 271.88L442.94 271.20Z M447.27 270.70L447.82 268.25L446.22 268.25L446.77 270.70Z M446.77 271.70L446.22 274.15L447.82 274.15L447.27 271.70Z M446.69 270.75L444.58 269.08L443.87 270.52L446.46 271.20Z M447.58 271.20L450.18 270.52L449.47 269.08L447.36 270.75Z M446.46 271.20L443.87 271.88L444.58 273.32L446.69 271.65Z M447.36 271.65L449.47 273.32L450.18 271.88L447.58 271.20Z M451.92 270.70L452.47 268.25L450.87 268.25L451.42 270.70Z M451.42 271.70L450.87 274.15L452.47 274.15L451.92 271.70Z M451.33 270.75L449.23 269.08L448.51 270.52L451.11 271.20Z M452.23 271.20L454.83 270.52L454.11 269.08L452.00 270.75Z M451.11 271.20L448.51 271.88L449.23 273.32L451.33 271.65Z M452.00 271.65L454.11 273.32L454.83 271.88L452.23 271.20Z M456.56 270.70L457.11 268.25L455.51 268.25L456.06 270.70Z M456.06 271.70L455.51 274.15L457.11 274.15L456.56 271.70Z M455.98 270.75L453.87 269.08L453.16 270.52L455.76 271.20Z M456.87 271.20L459.47 270.52L458.76 269.08L456.65 270.75Z M455.76 271.20L453.16 271.88L453.87 273.32L455.98 271.65Z M456.65 271.65L458.76 273.32L459.47 271.88L456.87 271.20Z M461.21 270.70L461.76 268.25L460.16 268.25L460.71 270.70Z M460.71 271.70L460.16 274.15L461.76 274.15L461.21 271.70Z M460.63 270.75L458.52 269.08L457.80 270.52L460.40 271.20Z M461.52 271.20L464.12 270.52L463.40 269.08L461.30 270.75Z M460.40 271.20L457.80 271.88L458.52 273.32L460.63 271.65Z M461.30 271.65L463.40 273.32L464.12 271.88L461.52 271.20Z M465.86 270.70L466.41 268.25L464.81 268.25L465.36 270.70Z M465.36 271.70L464.81 274.15L466.41 274.15L465.86 271.70Z M465.27 270.75L463.16 269.08L462.45 270.52L465.05 271.20Z M466.17 271.20L468.76 270.52L468.05 269.08L465.94 270.75Z M465.05 271.20L462.45 271.88L463.16 273.32L465.27 271.65Z M465.94 271.65L468.05 273.32L468.76 271.88L466.17 271.20Z M470.50 270.70L471.05 268.25L469.45 268.25L470.00 270.70Z M470.00 271.70L469.45 274.15L471.05 274.15L470.50 271.70Z M469.92 270.75L467.81 269.08L467.09 270.52L469.69 271.20Z M470.81 271.20L473.41 270.52L472.69 269.08L470.59 270.75Z M469.69 271.20L467.09 271.88L467.81 273.32L469.92 271.65Z M470.59 271.65L472.69 273.32L473.41 271.88L470.81 271.20Z M475.15 270.70L475.70 268.25L474.10 268.25L474.65 270.70Z M474.65 271.70L474.10 274.15L475.70 274.15L475.15 271.70Z M474.56 270.75L472.46 269.08L471.74 270.52L474.34 271.20Z M475.46 271.20L478.06 270.52L477.34 269.08L475.23 270.75Z M474.34 271.20L471.74 271.88L472.46 273.32L474.56 271.65Z M475.23 271.65L477.34 273.32L478.06 271.88L475.46 271.20Z M479.79 270.70L480.34 268.25L478.74 268.25L479.29 270.70Z M479.29 271.70L478.74 274.15L480.34 274.15L479.79 271.70Z M479.21 270.75L477.10 269.08L476.39 270.52L478.98 271.20Z M480.10 271.20L482.70 270.52L481.99 269.08L479.88 270.75Z M478.98 271.20L476.39 271.88L477.10 273.32L479.21 271.65Z M479.88 271.65L481.99 273.32L482.70 271.88L480.10 271.20Z M484.44 270.70L484.99 268.25L483.39 268.25L483.94 270.70Z M483.94 271.70L483.39 274.15L484.99 274.15L484.44 271.70Z M483.85 270.75L481.75 269.08L481.03 270.52L483.63 271.20Z M484.75 271.20L487.35 270.52L486.63 269.08L484.52 270.75Z M483.63 271.20L481.03 271.88L481.75 273.32L483.85 271.65Z M484.52 271.65L486.63 273.32L487.35 271.88L484.75 271.20Z M489.09 270.70L489.64 268.25L488.04 268.25L488.59 270.70Z M488.59 271.70L488.04 274.15L489.64 274.15L489.09 271.70Z M488.50 270.75L486.39 269.08L485.68 270.52L488.28 271.20Z M489.39 271.20L491.99 270.52L491.28 269.08L489.17 270.75Z M488.28 271.20L485.68 271.88L486.39 273.32L488.50 271.65Z M489.17 271.65L491.28 273.32L491.99 271.88L489.39 271.20Z M493.73 270.70L494.28 268.25L492.68 268.25L493.23 270.70Z M493.23 271.70L492.68 274.15L494.28 274.15L493.73 271.70Z M493.15 270.75L491.04 269.08L490.32 270.52L492.92 271.20Z M494.04 271.20L496.64 270.52L495.92 269.08L493.82 270.75Z M492.92 271.20L490.32 271.88L491.04 273.32L493.15 271.65Z M493.82 271.65L495.92 273.32L496.64 271.88L494.04 271.20Z M498.38 270.70L498.93 268.25L497.33 268.25L497.88 270.70Z M497.88 271.70L497.33 274.15L498.93 274.15L498.38 271.70Z M497.79 270.75L495.68 269.08L494.97 270.52L497.57 271.20Z M498.69 271.20L501.28 270.52L500.57 269.08L498.46 270.75Z M497.57 271.20L494.97 271.88L495.68 273.32L497.79 271.65Z M498.46 271.65L500.57 273.32L501.28 271.88L498.69 271.20Z M503.02 270.70L503.57 268.25L501.97 268.25L502.52 270.70Z M502.52 271.70L501.97 274.15L503.57 274.15L503.02 271.70Z M502.44 270.75L500.33 269.08L499.62 270.52L502.21 271.20Z M503.33 271.20L505.93 270.52L505.22 269.08L503.11 270.75Z M502.21 271.20L499.62 271.88L500.33 273.32L502.44 271.65Z M503.11 271.65L505.22 273.32L505.93 271.88L503.33 271.20Z M507.67 270.70L508.22 268.25L506.62 268.25L507.17 270.70Z M507.17 271.70L506.62 274.15L508.22 274.15L507.67 271.70Z M507.08 270.75L504.98 269.08L504.26 270.52L506.86 271.20Z M507.98 271.20L510.58 270.52L509.86 269.08L507.75 270.75Z M506.86 271.20L504.26 271.88L504.98 273.32L507.08 271.65Z M507.75 271.65L509.86 273.32L510.58 271.88L507.98 271.20Z M512.31 270.70L512.86 268.25L511.26 268.25L511.81 270.70Z M511.81 271.70L511.26 274.15L512.86 274.15L512.31 271.70Z M511.73 270.75L509.62 269.08L508.91 270.52L511.51 271.20Z M512.62 271.20L515.22 270.52L514.51 269.08L512.40 270.75Z M511.51 271.20L508.91 271.88L509.62 273.32L511.73 271.65Z M512.40 271.65L514.51 273.32L515.22 271.88L512.62 271.20Z M516.96 270.70L517.51 268.25L515.91 268.25L516.46 270.70Z M516.46 271.70L515.91 274.15L517.51 274.15L516.96 271.70Z M516.38 270.75L514.27 269.08L513.55 270.52L516.15 271.20Z M517.27 271.20L519.87 270.52L519.15 269.08L517.05 270.75Z M516.15 271.20L513.55 271.88L514.27 273.32L516.38 271.65Z M517.05 271.65L519.15 273.32L519.87 271.88L517.27 271.20Z M521.61 270.70L522.16 268.25L520.56 268.25L521.11 270.70Z M521.11 271.70L520.56 274.15L522.16 274.15L521.61 271.70Z M521.02 270.75L518.91 269.08L518.20 270.52L520.80 271.20Z M521.92 271.20L524.51 270.52L523.80 269.08L521.69 270.75Z M520.80 271.20L518.20 271.88L518.91 273.32L521.02 271.65Z M521.69 271.65L523.80 273.32L524.51 271.88L521.92 271.20Z M526.25 270.70L526.80 268.25L525.20 268.25L525.75 270.70Z M525.75 271.70L525.20 274.15L526.80 274.15L526.25 271.70Z M525.67 270.75L523.56 269.08L522.84 270.52L525.44 271.20Z M526.56 271.20L529.16 270.52L528.44 269.08L526.34 270.75Z M525.44 271.20L522.84 271.88L523.56 273.32L525.67 271.65Z M526.34 271.65L528.44 273.32L529.16 271.88L526.56 271.20Z M530.90 270.70L531.45 268.25L529.85 268.25L530.40 270.70Z M530.40 271.70L529.85 274.15L531.45 274.15L530.90 271.70Z M530.31 270.75L528.21 269.08L527.49 270.52L530.09 271.20Z M531.21 271.20L533.81 270.52L533.09 269.08L530.98 270.75Z M530.09 271.20L527.49 271.88L528.21 273.32L530.31 271.65Z M530.98 271.65L533.09 273.32L533.81 271.88L531.21 271.20Z M535.54 270.70L536.09 268.25L534.49 268.25L535.04 270.70Z M535.04 271.70L534.49 274.15L536.09 274.15L535.54 271.70Z M534.96 270.75L532.85 269.08L532.14 270.52L534.73 271.20Z M535.85 271.20L538.45 270.52L537.74 269.08L535.63 270.75Z M534.73 271.20L532.14 271.88L532.85 273.32L534.96 271.65Z M535.63 271.65L537.74 273.32L538.45 271.88L535.85 271.20Z M540.19 270.70L540.74 268.25L539.14 268.25L539.69 270.70Z M539.69 271.70L539.14 274.15L540.74 274.15L540.19 271.70Z M539.60 270.75L537.50 269.08L536.78 270.52L539.38 271.20Z M540.50 271.20L543.10 270.52L542.38 269.08L540.27 270.75Z M539.38 271.20L536.78 271.88L537.50 273.32L539.60 271.65Z M540.27 271.65L542.38 273.32L543.10 271.88L540.50 271.20Z M544.84 270.70L545.39 268.25L543.79 268.25L544.34 270.70Z M544.34 271.70L543.79 274.15L545.39 274.15L544.84 271.70Z M544.25 270.75L542.14 269.08L541.43 270.52L544.03 271.20Z M545.14 271.20L547.74 270.52L547.03 269.08L544.92 270.75Z M544.03 271.20L541.43 271.88L542.14 273.32L544.25 271.65Z M544.92 271.65L547.03 273.32L547.74 271.88L545.14 271.20Z M549.48 270.70L550.03 268.25L548.43 268.25L548.98 270.70Z M548.98 271.70L548.43 274.15L550.03 274.15L549.48 271.70Z M548.90 270.75L546.79 269.08L546.07 270.52L548.67 271.20Z M549.79 271.20L552.39 270.52L551.67 269.08L549.57 270.75Z M548.67 271.20L546.07 271.88L546.79 273.32L548.90 271.65Z M549.57 271.65L551.67 273.32L552.39 271.88L549.79 271.20Z M554.13 270.70L554.68 268.25L553.08 268.25L553.63 270.70Z M553.63 271.70L553.08 274.15L554.68 274.15L554.13 271.70Z M553.54 270.75L551.43 269.08L550.72 270.52L553.32 271.20Z M554.44 271.20L557.03 270.52L556.32 269.08L554.21 270.75Z M553.32 271.20L550.72 271.88L551.43 273.32L553.54 271.65Z M554.21 271.65L556.32 273.32L557.03 271.88L554.44 271.20Z M344.56 303.80L345.11 301.35L343.51 301.35L344.06 303.80Z M344.06 304.80L343.51 307.25L345.11 307.25L344.56 304.80Z M343.98 303.85L341.87 302.18L341.16 303.62L343.76 304.30Z M344.87 304.30L347.47 303.62L346.76 302.18L344.65 303.85Z M343.76 304.30L341.16 304.98L341.87 306.42L343.98 304.75Z M344.65 304.75L346.76 306.42L347.47 304.98L344.87 304.30Z M349.21 303.80L349.76 301.35L348.16 301.35L348.71 303.80Z M348.71 304.80L348.16 307.25L349.76 307.25L349.21 304.80Z M348.63 303.85L346.52 302.18L345.80 303.62L348.40 304.30Z M349.52 304.30L352.12 303.62L351.40 302.18L349.30 303.85Z M348.40 304.30L345.80 304.98L346.52 306.42L348.63 304.75Z M349.30 304.75L351.40 306.42L352.12 304.98L349.52 304.30Z M353.86 303.80L354.41 301.35L352.81 301.35L353.36 303.80Z M353.36 304.80L352.81 307.25L354.41 307.25L353.86 304.80Z M353.27 303.85L351.16 302.18L350.45 303.62L353.05 304.30Z M354.17 304.30L356.76 303.62L356.05 302.18L353.94 303.85Z M353.05 304.30L350.45 304.98L351.16 306.42L353.27 304.75Z M353.94 304.75L356.05 306.42L356.76 304.98L354.17 304.30Z M358.50 303.80L359.05 301.35L357.45 301.35L358.00 303.80Z M358.00 304.80L357.45 307.25L359.05 307.25L358.50 304.80Z M357.92 303.85L355.81 302.18L355.09 303.62L357.69 304.30Z M358.81 304.30L361.41 303.62L360.69 302.18L358.59 303.85Z M357.69 304.30L355.09 304.98L355.81 306.42L357.92 304.75Z M358.59 304.75L360.69 306.42L361.41 304.98L358.81 304.30Z M363.15 303.80L363.70 301.35L362.10 301.35L362.65 303.80Z M362.65 304.80L362.10 307.25L363.70 307.25L363.15 304.80Z M362.56 303.85L360.46 302.18L359.74 303.62L362.34 304.30Z M363.46 304.30L366.06 303.62L365.34 302.18L363.23 303.85Z M362.34 304.30L359.74 304.98L360.46 306.42L362.56 304.75Z M363.23 304.75L365.34 306.42L366.06 304.98L363.46 304.30Z M367.79 303.80L368.34 301.35L366.74 301.35L367.29 303.80Z M367.29 304.80L366.74 307.25L368.34 307.25L367.79 304.80Z M367.21 303.85L365.10 302.18L364.39 303.62L366.98 304.30Z M368.10 304.30L370.70 303.62L369.99 302.18L367.88 303.85Z M366.98 304.30L364.39 304.98L365.10 306.42L367.21 304.75Z M367.88 304.75L369.99 306.42L370.70 304.98L368.10 304.30Z M372.44 303.80L372.99 301.35L371.39 301.35L371.94 303.80Z M371.94 304.80L371.39 307.25L372.99 307.25L372.44 304.80Z M371.85 303.85L369.75 302.18L369.03 303.62L371.63 304.30Z M372.75 304.30L375.35 303.62L374.63 302.18L372.52 303.85Z M371.63 304.30L369.03 304.98L369.75 306.42L371.85 304.75Z M372.52 304.75L374.63 306.42L375.35 304.98L372.75 304.30Z M377.09 303.80L377.64 301.35L376.04 301.35L376.59 303.80Z M376.59 304.80L376.04 307.25L377.64 307.25L377.09 304.80Z M376.50 303.85L374.39 302.18L373.68 303.62L376.28 304.30Z M377.39 304.30L379.99 303.62L379.28 302.18L377.17 303.85Z M376.28 304.30L373.68 304.98L374.39 306.42L376.50 304.75Z M377.17 304.75L379.28 306.42L379.99 304.98L377.39 304.30Z M381.73 303.80L382.28 301.35L380.68 301.35L381.23 303.80Z M381.23 304.80L380.68 307.25L382.28 307.25L381.73 304.80Z M381.15 303.85L379.04 302.18L378.32 303.62L380.92 304.30Z M382.04 304.30L384.64 303.62L383.92 302.18L381.82 303.85Z M380.92 304.30L378.32 304.98L379.04 306.42L381.15 304.75Z M381.82 304.75L383.92 306.42L384.64 304.98L382.04 304.30Z M386.38 303.80L386.93 301.35L385.33 301.35L385.88 303.80Z M385.88 304.80L385.33 307.25L386.93 307.25L386.38 304.80Z M385.79 303.85L383.68 302.18L382.97 303.62L385.57 304.30Z M386.69 304.30L389.28 303.62L388.57 302.18L386.46 303.85Z M385.57 304.30L382.97 304.98L383.68 306.42L385.79 304.75Z M386.46 304.75L388.57 306.42L389.28 304.98L386.69 304.30Z M391.02 303.80L391.57 301.35L389.97 301.35L390.52 303.80Z M390.52 304.80L389.97 307.25L391.57 307.25L391.02 304.80Z M390.44 303.85L388.33 302.18L387.62 303.62L390.21 304.30Z M391.33 304.30L393.93 303.62L393.22 302.18L391.11 303.85Z M390.21 304.30L387.62 304.98L388.33 306.42L390.44 304.75Z M391.11 304.75L393.22 306.42L393.93 304.98L391.33 304.30Z M395.67 303.80L396.22 301.35L394.62 301.35L395.17 303.80Z M395.17 304.80L394.62 307.25L396.22 307.25L395.67 304.80Z M395.08 303.85L392.98 302.18L392.26 303.62L394.86 304.30Z M395.98 304.30L398.58 303.62L397.86 302.18L395.75 303.85Z M394.86 304.30L392.26 304.98L392.98 306.42L395.08 304.75Z M395.75 304.75L397.86 306.42L398.58 304.98L395.98 304.30Z M400.31 303.80L400.86 301.35L399.26 301.35L399.81 303.80Z M399.81 304.80L399.26 307.25L400.86 307.25L400.31 304.80Z M399.73 303.85L397.62 302.18L396.91 303.62L399.51 304.30Z M400.62 304.30L403.22 303.62L402.51 302.18L400.40 303.85Z M399.51 304.30L396.91 304.98L397.62 306.42L399.73 304.75Z M400.40 304.75L402.51 306.42L403.22 304.98L400.62 304.30Z M404.96 303.80L405.51 301.35L403.91 301.35L404.46 303.80Z M404.46 304.80L403.91 307.25L405.51 307.25L404.96 304.80Z M404.38 303.85L402.27 302.18L401.55 303.62L404.15 304.30Z M405.27 304.30L407.87 303.62L407.15 302.18L405.05 303.85Z M404.15 304.30L401.55 304.98L402.27 306.42L404.38 304.75Z M405.05 304.75L407.15 306.42L407.87 304.98L405.27 304.30Z M409.61 303.80L410.16 301.35L408.56 301.35L409.11 303.80Z M409.11 304.80L408.56 307.25L410.16 307.25L409.61 304.80Z M409.02 303.85L406.91 302.18L406.20 303.62L408.80 304.30Z M409.92 304.30L412.51 303.62L411.80 302.18L409.69 303.85Z M408.80 304.30L406.20 304.98L406.91 306.42L409.02 304.75Z M409.69 304.75L411.80 306.42L412.51 304.98L409.92 304.30Z M414.25 303.80L414.80 301.35L413.20 301.35L413.75 303.80Z M413.75 304.80L413.20 307.25L414.80 307.25L414.25 304.80Z M413.67 303.85L411.56 302.18L410.84 303.62L413.44 304.30Z M414.56 304.30L417.16 303.62L416.44 302.18L414.34 303.85Z M413.44 304.30L410.84 304.98L411.56 306.42L413.67 304.75Z M414.34 304.75L416.44 306.42L417.16 304.98L414.56 304.30Z M418.90 303.80L419.45 301.35L417.85 301.35L418.40 303.80Z M418.40 304.80L417.85 307.25L419.45 307.25L418.90 304.80Z M418.31 303.85L416.21 302.18L415.49 303.62L418.09 304.30Z M419.21 304.30L421.81 303.62L421.09 302.18L418.98 303.85Z M418.09 304.30L415.49 304.98L416.21 306.42L418.31 304.75Z M418.98 304.75L421.09 306.42L421.81 304.98L419.21 304.30Z M423.54 303.80L424.09 301.35L422.49 301.35L423.04 303.80Z M423.04 304.80L422.49 307.25L424.09 307.25L423.54 304.80Z M422.96 303.85L420.85 302.18L420.14 303.62L422.73 304.30Z M423.85 304.30L426.45 303.62L425.74 302.18L423.63 303.85Z M422.73 304.30L420.14 304.98L420.85 306.42L422.96 304.75Z M423.63 304.75L425.74 306.42L426.45 304.98L423.85 304.30Z M428.19 303.80L428.74 301.35L427.14 301.35L427.69 303.80Z M427.69 304.80L427.14 307.25L428.74 307.25L428.19 304.80Z M427.60 303.85L425.50 302.18L424.78 303.62L427.38 304.30Z M428.50 304.30L431.10 303.62L430.38 302.18L428.27 303.85Z M427.38 304.30L424.78 304.98L425.50 306.42L427.60 304.75Z M428.27 304.75L430.38 306.42L431.10 304.98L428.50 304.30Z M432.84 303.80L433.39 301.35L431.79 301.35L432.34 303.80Z M432.34 304.80L431.79 307.25L433.39 307.25L432.84 304.80Z M432.25 303.85L430.14 302.18L429.43 303.62L432.03 304.30Z M433.14 304.30L435.74 303.62L435.03 302.18L432.92 303.85Z M432.03 304.30L429.43 304.98L430.14 306.42L432.25 304.75Z M432.92 304.75L435.03 306.42L435.74 304.98L433.14 304.30Z M437.48 303.80L438.03 301.35L436.43 301.35L436.98 303.80Z M436.98 304.80L436.43 307.25L438.03 307.25L437.48 304.80Z M436.90 303.85L434.79 302.18L434.07 303.62L436.67 304.30Z M437.79 304.30L440.39 303.62L439.67 302.18L437.57 303.85Z M436.67 304.30L434.07 304.98L434.79 306.42L436.90 304.75Z M437.57 304.75L439.67 306.42L440.39 304.98L437.79 304.30Z M442.13 303.80L442.68 301.35L441.08 301.35L441.63 303.80Z M441.63 304.80L441.08 307.25L442.68 307.25L442.13 304.80Z M441.54 303.85L439.43 302.18L438.72 303.62L441.32 304.30Z M442.44 304.30L445.03 303.62L444.32 302.18L442.21 303.85Z M441.32 304.30L438.72 304.98L439.43 306.42L441.54 304.75Z M442.21 304.75L444.32 306.42L445.03 304.98L442.44 304.30Z M446.77 303.80L447.32 301.35L445.72 301.35L446.27 303.80Z M446.27 304.80L445.72 307.25L447.32 307.25L446.77 304.80Z M446.19 303.85L444.08 302.18L443.37 303.62L445.96 304.30Z M447.08 304.30L449.68 303.62L448.97 302.18L446.86 303.85Z M445.96 304.30L443.37 304.98L444.08 306.42L446.19 304.75Z M446.86 304.75L448.97 306.42L449.68 304.98L447.08 304.30Z M451.42 303.80L451.97 301.35L450.37 301.35L450.92 303.80Z M450.92 304.80L450.37 307.25L451.97 307.25L451.42 304.80Z M450.83 303.85L448.73 302.18L448.01 303.62L450.61 304.30Z M451.73 304.30L454.33 303.62L453.61 302.18L451.50 303.85Z M450.61 304.30L448.01 304.98L448.73 306.42L450.83 304.75Z M451.50 304.75L453.61 306.42L454.33 304.98L451.73 304.30Z M456.06 303.80L456.61 301.35L455.01 301.35L455.56 303.80Z M455.56 304.80L455.01 307.25L456.61 307.25L456.06 304.80Z M455.48 303.85L453.37 302.18L452.66 303.62L455.26 304.30Z M456.37 304.30L458.97 303.62L458.26 302.18L456.15 303.85Z M455.26 304.30L452.66 304.98L453.37 306.42L455.48 304.75Z M456.15 304.75L458.26 306.42L458.97 304.98L456.37 304.30Z M460.71 303.80L461.26 301.35L459.66 301.35L460.21 303.80Z M460.21 304.80L459.66 307.25L461.26 307.25L460.71 304.80Z M460.13 303.85L458.02 302.18L457.30 303.62L459.90 304.30Z M461.02 304.30L463.62 303.62L462.90 302.18L460.80 303.85Z M459.90 304.30L457.30 304.98L458.02 306.42L460.13 304.75Z M460.80 304.75L462.90 306.42L463.62 304.98L461.02 304.30Z M465.36 303.80L465.91 301.35L464.31 301.35L464.86 303.80Z M464.86 304.80L464.31 307.25L465.91 307.25L465.36 304.80Z M464.77 303.85L462.66 302.18L461.95 303.62L464.55 304.30Z M465.67 304.30L468.26 303.62L467.55 302.18L465.44 303.85Z M464.55 304.30L461.95 304.98L462.66 306.42L464.77 304.75Z M465.44 304.75L467.55 306.42L468.26 304.98L465.67 304.30Z M470.00 303.80L470.55 301.35L468.95 301.35L469.50 303.80Z M469.50 304.80L468.95 307.25L470.55 307.25L470.00 304.80Z M469.42 303.85L467.31 302.18L466.59 303.62L469.19 304.30Z M470.31 304.30L472.91 303.62L472.19 302.18L470.09 303.85Z M469.19 304.30L466.59 304.98L467.31 306.42L469.42 304.75Z M470.09 304.75L472.19 306.42L472.91 304.98L470.31 304.30Z M474.65 303.80L475.20 301.35L473.60 301.35L474.15 303.80Z M474.15 304.80L473.60 307.25L475.20 307.25L474.65 304.80Z M474.06 303.85L471.96 302.18L471.24 303.62L473.84 304.30Z M474.96 304.30L477.56 303.62L476.84 302.18L474.73 303.85Z M473.84 304.30L471.24 304.98L471.96 306.42L474.06 304.75Z M474.73 304.75L476.84 306.42L477.56 304.98L474.96 304.30Z M479.29 303.80L479.84 301.35L478.24 301.35L478.79 303.80Z M478.79 304.80L478.24 307.25L479.84 307.25L479.29 304.80Z M478.71 303.85L476.60 302.18L475.89 303.62L478.48 304.30Z M479.60 304.30L482.20 303.62L481.49 302.18L479.38 303.85Z M478.48 304.30L475.89 304.98L476.60 306.42L478.71 304.75Z M479.38 304.75L481.49 306.42L482.20 304.98L479.60 304.30Z M483.94 303.80L484.49 301.35L482.89 301.35L483.44 303.80Z M483.44 304.80L482.89 307.25L484.49 307.25L483.94 304.80Z M483.35 303.85L481.25 302.18L480.53 303.62L483.13 304.30Z M484.25 304.30L486.85 303.62L486.13 302.18L484.02 303.85Z M483.13 304.30L480.53 304.98L481.25 306.42L483.35 304.75Z M484.02 304.75L486.13 306.42L486.85 304.98L484.25 304.30Z M488.59 303.80L489.14 301.35L487.54 301.35L488.09 303.80Z M488.09 304.80L487.54 307.25L489.14 307.25L488.59 304.80Z M488.00 303.85L485.89 302.18L485.18 303.62L487.78 304.30Z M488.89 304.30L491.49 303.62L490.78 302.18L488.67 303.85Z M487.78 304.30L485.18 304.98L485.89 306.42L488.00 304.75Z M488.67 304.75L490.78 306.42L491.49 304.98L488.89 304.30Z M493.23 303.80L493.78 301.35L492.18 301.35L492.73 303.80Z M492.73 304.80L492.18 307.25L493.78 307.25L493.23 304.80Z M492.65 303.85L490.54 302.18L489.82 303.62L492.42 304.30Z M493.54 304.30L496.14 303.62L495.42 302.18L493.32 303.85Z M492.42 304.30L489.82 304.98L490.54 306.42L492.65 304.75Z M493.32 304.75L495.42 306.42L496.14 304.98L493.54 304.30Z M497.88 303.80L498.43 301.35L496.83 301.35L497.38 303.80Z M497.38 304.80L496.83 307.25L498.43 307.25L497.88 304.80Z M497.29 303.85L495.18 302.18L494.47 303.62L497.07 304.30Z M498.19 304.30L500.78 303.62L500.07 302.18L497.96 303.85Z M497.07 304.30L494.47 304.98L495.18 306.42L497.29 304.75Z M497.96 304.75L500.07 306.42L500.78 304.98L498.19 304.30Z M502.52 303.80L503.07 301.35L501.47 301.35L502.02 303.80Z M502.02 304.80L501.47 307.25L503.07 307.25L502.52 304.80Z M501.94 303.85L499.83 302.18L499.12 303.62L501.71 304.30Z M502.83 304.30L505.43 303.62L504.72 302.18L502.61 303.85Z M501.71 304.30L499.12 304.98L499.83 306.42L501.94 304.75Z M502.61 304.75L504.72 306.42L505.43 304.98L502.83 304.30Z M507.17 303.80L507.72 301.35L506.12 301.35L506.67 303.80Z M506.67 304.80L506.12 307.25L507.72 307.25L507.17 304.80Z M506.58 303.85L504.48 302.18L503.76 303.62L506.36 304.30Z M507.48 304.30L510.08 303.62L509.36 302.18L507.25 303.85Z M506.36 304.30L503.76 304.98L504.48 306.42L506.58 304.75Z M507.25 304.75L509.36 306.42L510.08 304.98L507.48 304.30Z M511.81 303.80L512.36 301.35L510.76 301.35L511.31 303.80Z M511.31 304.80L510.76 307.25L512.36 307.25L511.81 304.80Z M511.23 303.85L509.12 302.18L508.41 303.62L511.01 304.30Z M512.12 304.30L514.72 303.62L514.01 302.18L511.90 303.85Z M511.01 304.30L508.41 304.98L509.12 306.42L511.23 304.75Z M511.90 304.75L514.01 306.42L514.72 304.98L512.12 304.30Z M516.46 303.80L517.01 301.35L515.41 301.35L515.96 303.80Z M515.96 304.80L515.41 307.25L517.01 307.25L516.46 304.80Z M515.88 303.85L513.77 302.18L513.05 303.62L515.65 304.30Z M516.77 304.30L519.37 303.62L518.65 302.18L516.55 303.85Z M515.65 304.30L513.05 304.98L513.77 306.42L515.88 304.75Z M516.55 304.75L518.65 306.42L519.37 304.98L516.77 304.30Z M521.11 303.80L521.66 301.35L520.06 301.35L520.61 303.80Z M520.61 304.80L520.06 307.25L521.66 307.25L521.11 304.80Z M520.52 303.85L518.41 302.18L517.70 303.62L520.30 304.30Z M521.42 304.30L524.01 303.62L523.30 302.18L521.19 303.85Z M520.30 304.30L517.70 304.98L518.41 306.42L520.52 304.75Z M521.19 304.75L523.30 306.42L524.01 304.98L521.42 304.30Z M525.75 303.80L526.30 301.35L524.70 301.35L525.25 303.80Z M525.25 304.80L524.70 307.25L526.30 307.25L525.75 304.80Z M525.17 303.85L523.06 302.18L522.34 303.62L524.94 304.30Z M526.06 304.30L528.66 303.62L527.94 302.18L525.84 303.85Z M524.94 304.30L522.34 304.98L523.06 306.42L525.17 304.75Z M525.84 304.75L527.94 306.42L528.66 304.98L526.06 304.30Z M530.40 303.80L530.95 301.35L529.35 301.35L529.90 303.80Z M529.90 304.80L529.35 307.25L530.95 307.25L530.40 304.80Z M529.81 303.85L527.71 302.18L526.99 303.62L529.59 304.30Z M530.71 304.30L533.31 303.62L532.59 302.18L530.48 303.85Z M529.59 304.30L526.99 304.98L527.71 306.42L529.81 304.75Z M530.48 304.75L532.59 306.42L533.31 304.98L530.71 304.30Z M535.04 303.80L535.59 301.35L533.99 301.35L534.54 303.80Z M534.54 304.80L533.99 307.25L535.59 307.25L535.04 304.80Z M534.46 303.85L532.35 302.18L531.64 303.62L534.23 304.30Z M535.35 304.30L537.95 303.62L537.24 302.18L535.13 303.85Z M534.23 304.30L531.64 304.98L532.35 306.42L534.46 304.75Z M535.13 304.75L537.24 306.42L537.95 304.98L535.35 304.30Z M539.69 303.80L540.24 301.35L538.64 301.35L539.19 303.80Z M539.19 304.80L538.64 307.25L540.24 307.25L539.69 304.80Z M539.10 303.85L537.00 302.18L536.28 303.62L538.88 304.30Z M540.00 304.30L542.60 303.62L541.88 302.18L539.77 303.85Z M538.88 304.30L536.28 304.98L537.00 306.42L539.10 304.75Z M539.77 304.75L541.88 306.42L542.60 304.98L540.00 304.30Z M544.34 303.80L544.89 301.35L543.29 301.35L543.84 303.80Z M543.84 304.80L543.29 307.25L544.89 307.25L544.34 304.80Z M543.75 303.85L541.64 302.18L540.93 303.62L543.53 304.30Z M544.64 304.30L547.24 303.62L546.53 302.18L544.42 303.85Z M543.53 304.30L540.93 304.98L541.64 306.42L543.75 304.75Z M544.42 304.75L546.53 306.42L547.24 304.98L544.64 304.30Z M548.98 303.80L549.53 301.35L547.93 301.35L548.48 303.80Z M548.48 304.80L547.93 307.25L549.53 307.25L548.98 304.80Z M548.40 303.85L546.29 302.18L545.57 303.62L548.17 304.30Z M549.29 304.30L551.89 303.62L551.17 302.18L549.07 303.85Z M548.17 304.30L545.57 304.98L546.29 306.42L548.40 304.75Z M549.07 304.75L551.17 306.42L551.89 304.98L549.29 304.30Z M553.63 303.80L554.18 301.35L552.58 301.35L553.13 303.80Z M553.13 304.80L552.58 307.25L554.18 307.25L553.63 304.80Z M553.04 303.85L550.93 302.18L550.22 303.62L552.82 304.30Z M553.94 304.30L556.53 303.62L555.82 302.18L553.71 303.85Z M552.82 304.30L550.22 304.98L550.93 306.42L553.04 304.75Z M553.71 304.75L555.82 306.42L556.53 304.98L553.94 304.30Z M382.23 335.30L382.78 332.85L381.18 332.85L381.73 335.30Z M381.73 336.30L381.18 338.75L382.78 338.75L382.23 336.30Z M381.65 335.35L379.54 333.68L378.82 335.12L381.42 335.80Z M382.54 335.80L385.14 335.12L384.42 333.68L382.32 335.35Z M381.42 335.80L378.82 336.48L379.54 337.92L381.65 336.25Z M382.32 336.25L384.42 337.92L385.14 336.48L382.54 335.80Z M386.88 335.30L387.43 332.85L385.83 332.85L386.38 335.30Z M386.38 336.30L385.83 338.75L387.43 338.75L386.88 336.30Z M386.29 335.35L384.18 333.68L383.47 335.12L386.07 335.80Z M387.19 335.80L389.78 335.12L389.07 333.68L386.96 335.35Z M386.07 335.80L383.47 336.48L384.18 337.92L386.29 336.25Z M386.96 336.25L389.07 337.92L389.78 336.48L387.19 335.80Z M391.52 335.30L392.07 332.85L390.47 332.85L391.02 335.30Z M391.02 336.30L390.47 338.75L392.07 338.75L391.52 336.30Z M390.94 335.35L388.83 333.68L388.12 335.12L390.71 335.80Z M391.83 335.80L394.43 335.12L393.72 333.68L391.61 335.35Z M390.71 335.80L388.12 336.48L388.83 337.92L390.94 336.25Z M391.61 336.25L393.72 337.92L394.43 336.48L391.83 335.80Z M396.17 335.30L396.72 332.85L395.12 332.85L395.67 335.30Z M395.67 336.30L395.12 338.75L396.72 338.75L396.17 336.30Z M395.58 335.35L393.48 333.68L392.76 335.12L395.36 335.80Z M396.48 335.80L399.08 335.12L398.36 333.68L396.25 335.35Z M395.36 335.80L392.76 336.48L393.48 337.92L395.58 336.25Z M396.25 336.25L398.36 337.92L399.08 336.48L396.48 335.80Z M400.81 335.30L401.36 332.85L399.76 332.85L400.31 335.30Z M400.31 336.30L399.76 338.75L401.36 338.75L400.81 336.30Z M400.23 335.35L398.12 333.68L397.41 335.12L400.01 335.80Z M401.12 335.80L403.72 335.12L403.01 333.68L400.90 335.35Z M400.01 335.80L397.41 336.48L398.12 337.92L400.23 336.25Z M400.90 336.25L403.01 337.92L403.72 336.48L401.12 335.80Z M405.46 335.30L406.01 332.85L404.41 332.85L404.96 335.30Z M404.96 336.30L404.41 338.75L406.01 338.75L405.46 336.30Z M404.88 335.35L402.77 333.68L402.05 335.12L404.65 335.80Z M405.77 335.80L408.37 335.12L407.65 333.68L405.55 335.35Z M404.65 335.80L402.05 336.48L402.77 337.92L404.88 336.25Z M405.55 336.25L407.65 337.92L408.37 336.48L405.77 335.80Z M410.11 335.30L410.66 332.85L409.06 332.85L409.61 335.30Z M409.61 336.30L409.06 338.75L410.66 338.75L410.11 336.30Z M409.52 335.35L407.41 333.68L406.70 335.12L409.30 335.80Z M410.42 335.80L413.01 335.12L412.30 333.68L410.19 335.35Z M409.30 335.80L406.70 336.48L407.41 337.92L409.52 336.25Z M410.19 336.25L412.30 337.92L413.01 336.48L410.42 335.80Z M414.75 335.30L415.30 332.85L413.70 332.85L414.25 335.30Z M414.25 336.30L413.70 338.75L415.30 338.75L414.75 336.30Z M414.17 335.35L412.06 333.68L411.34 335.12L413.94 335.80Z M415.06 335.80L417.66 335.12L416.94 333.68L414.84 335.35Z M413.94 335.80L411.34 336.48L412.06 337.92L414.17 336.25Z M414.84 336.25L416.94 337.92L417.66 336.48L415.06 335.80Z M419.40 335.30L419.95 332.85L418.35 332.85L418.90 335.30Z M418.90 336.30L418.35 338.75L419.95 338.75L419.40 336.30Z M418.81 335.35L416.71 333.68L415.99 335.12L418.59 335.80Z M419.71 335.80L422.31 335.12L421.59 333.68L419.48 335.35Z M418.59 335.80L415.99 336.48L416.71 337.92L418.81 336.25Z M419.48 336.25L421.59 337.92L422.31 336.48L419.71 335.80Z M424.04 335.30L424.59 332.85L422.99 332.85L423.54 335.30Z M423.54 336.30L422.99 338.75L424.59 338.75L424.04 336.30Z M423.46 335.35L421.35 333.68L420.64 335.12L423.23 335.80Z M424.35 335.80L426.95 335.12L426.24 333.68L424.13 335.35Z M423.23 335.80L420.64 336.48L421.35 337.92L423.46 336.25Z M424.13 336.25L426.24 337.92L426.95 336.48L424.35 335.80Z M428.69 335.30L429.24 332.85L427.64 332.85L428.19 335.30Z M428.19 336.30L427.64 338.75L429.24 338.75L428.69 336.30Z M428.10 335.35L426.00 333.68L425.28 335.12L427.88 335.80Z M429.00 335.80L431.60 335.12L430.88 333.68L428.77 335.35Z M427.88 335.80L425.28 336.48L426.00 337.92L428.10 336.25Z M428.77 336.25L430.88 337.92L431.60 336.48L429.00 335.80Z M433.34 335.30L433.89 332.85L432.29 332.85L432.84 335.30Z M432.84 336.30L432.29 338.75L433.89 338.75L433.34 336.30Z M432.75 335.35L430.64 333.68L429.93 335.12L432.53 335.80Z M433.64 335.80L436.24 335.12L435.53 333.68L433.42 335.35Z M432.53 335.80L429.93 336.48L430.64 337.92L432.75 336.25Z M433.42 336.25L435.53 337.92L436.24 336.48L433.64 335.80Z M437.98 335.30L438.53 332.85L436.93 332.85L437.48 335.30Z M437.48 336.30L436.93 338.75L438.53 338.75L437.98 336.30Z M437.40 335.35L435.29 333.68L434.57 335.12L437.17 335.80Z M438.29 335.80L440.89 335.12L440.17 333.68L438.07 335.35Z M437.17 335.80L434.57 336.48L435.29 337.92L437.40 336.25Z M438.07 336.25L440.17 337.92L440.89 336.48L438.29 335.80Z M442.63 335.30L443.18 332.85L441.58 332.85L442.13 335.30Z M442.13 336.30L441.58 338.75L443.18 338.75L442.63 336.30Z M442.04 335.35L439.93 333.68L439.22 335.12L441.82 335.80Z M442.94 335.80L445.53 335.12L444.82 333.68L442.71 335.35Z M441.82 335.80L439.22 336.48L439.93 337.92L442.04 336.25Z M442.71 336.25L444.82 337.92L445.53 336.48L442.94 335.80Z M447.27 335.30L447.82 332.85L446.22 332.85L446.77 335.30Z M446.77 336.30L446.22 338.75L447.82 338.75L447.27 336.30Z M446.69 335.35L444.58 333.68L443.87 335.12L446.46 335.80Z M447.58 335.80L450.18 335.12L449.47 333.68L447.36 335.35Z M446.46 335.80L443.87 336.48L444.58 337.92L446.69 336.25Z M447.36 336.25L449.47 337.92L450.18 336.48L447.58 335.80Z M451.92 335.30L452.47 332.85L450.87 332.85L451.42 335.30Z M451.42 336.30L450.87 338.75L452.47 338.75L451.92 336.30Z M451.33 335.35L449.23 333.68L448.51 335.12L451.11 335.80Z M452.23 335.80L454.83 335.12L454.11 333.68L452.00 335.35Z M451.11 335.80L448.51 336.48L449.23 337.92L451.33 336.25Z M452.00 336.25L454.11 337.92L454.83 336.48L452.23 335.80Z M456.56 335.30L457.11 332.85L455.51 332.85L456.06 335.30Z M456.06 336.30L455.51 338.75L457.11 338.75L456.56 336.30Z M455.98 335.35L453.87 333.68L453.16 335.12L455.76 335.80Z M456.87 335.80L459.47 335.12L458.76 333.68L456.65 335.35Z M455.76 335.80L453.16 336.48L453.87 337.92L455.98 336.25Z M456.65 336.25L458.76 337.92L459.47 336.48L456.87 335.80Z M461.21 335.30L461.76 332.85L460.16 332.85L460.71 335.30Z M460.71 336.30L460.16 338.75L461.76 338.75L461.21 336.30Z M460.63 335.35L458.52 333.68L457.80 335.12L460.40 335.80Z M461.52 335.80L464.12 335.12L463.40 333.68L461.30 335.35Z M460.40 335.80L457.80 336.48L458.52 337.92L460.63 336.25Z M461.30 336.25L463.40 337.92L464.12 336.48L461.52 335.80Z M465.86 335.30L466.41 332.85L464.81 332.85L465.36 335.30Z M465.36 336.30L464.81 338.75L466.41 338.75L465.86 336.30Z M465.27 335.35L463.16 333.68L462.45 335.12L465.05 335.80Z M466.17 335.80L468.76 335.12L468.05 333.68L465.94 335.35Z M465.05 335.80L462.45 336.48L463.16 337.92L465.27 336.25Z M465.94 336.25L468.05 337.92L468.76 336.48L466.17 335.80Z M470.50 335.30L471.05 332.85L469.45 332.85L470.00 335.30Z M470.00 336.30L469.45 338.75L471.05 338.75L470.50 336.30Z M469.92 335.35L467.81 333.68L467.09 335.12L469.69 335.80Z M470.81 335.80L473.41 335.12L472.69 333.68L470.59 335.35Z M469.69 335.80L467.09 336.48L467.81 337.92L469.92 336.25Z M470.59 336.25L472.69 337.92L473.41 336.48L470.81 335.80Z M484.44 335.30L484.99 332.85L483.39 332.85L483.94 335.30Z M483.94 336.30L483.39 338.75L484.99 338.75L484.44 336.30Z M483.85 335.35L481.75 333.68L481.03 335.12L483.63 335.80Z M484.75 335.80L487.35 335.12L486.63 333.68L484.52 335.35Z M483.63 335.80L481.03 336.48L481.75 337.92L483.85 336.25Z M484.52 336.25L486.63 337.92L487.35 336.48L484.75 335.80Z M489.09 335.30L489.64 332.85L488.04 332.85L488.59 335.30Z M488.59 336.30L488.04 338.75L489.64 338.75L489.09 336.30Z M488.50 335.35L486.39 333.68L485.68 335.12L488.28 335.80Z M489.39 335.80L491.99 335.12L491.28 333.68L489.17 335.35Z M488.28 335.80L485.68 336.48L486.39 337.92L488.50 336.25Z M489.17 336.25L491.28 337.92L491.99 336.48L489.39 335.80Z M493.73 335.30L494.28 332.85L492.68 332.85L493.23 335.30Z M493.23 336.30L492.68 338.75L494.28 338.75L493.73 336.30Z M493.15 335.35L491.04 333.68L490.32 335.12L492.92 335.80Z M494.04 335.80L496.64 335.12L495.92 333.68L493.82 335.35Z M492.92 335.80L490.32 336.48L491.04 337.92L493.15 336.25Z M493.82 336.25L495.92 337.92L496.64 336.48L494.04 335.80Z M498.38 335.30L498.93 332.85L497.33 332.85L497.88 335.30Z M497.88 336.30L497.33 338.75L498.93 338.75L498.38 336.30Z M497.79 335.35L495.68 333.68L494.97 335.12L497.57 335.80Z M498.69 335.80L501.28 335.12L500.57 333.68L498.46 335.35Z M497.57 335.80L494.97 336.48L495.68 337.92L497.79 336.25Z M498.46 336.25L500.57 337.92L501.28 336.48L498.69 335.80Z M503.02 335.30L503.57 332.85L501.97 332.85L502.52 335.30Z M502.52 336.30L501.97 338.75L503.57 338.75L503.02 336.30Z M502.44 335.35L500.33 333.68L499.62 335.12L502.21 335.80Z M503.33 335.80L505.93 335.12L505.22 333.68L503.11 335.35Z M502.21 335.80L499.62 336.48L500.33 337.92L502.44 336.25Z M503.11 336.25L505.22 337.92L505.93 336.48L503.33 335.80Z M507.67 335.30L508.22 332.85L506.62 332.85L507.17 335.30Z M507.17 336.30L506.62 338.75L508.22 338.75L507.67 336.30Z M507.08 335.35L504.98 333.68L504.26 335.12L506.86 335.80Z M507.98 335.80L510.58 335.12L509.86 333.68L507.75 335.35Z M506.86 335.80L504.26 336.48L504.98 337.92L507.08 336.25Z M507.75 336.25L509.86 337.92L510.58 336.48L507.98 335.80Z M512.31 335.30L512.86 332.85L511.26 332.85L511.81 335.30Z M511.81 336.30L511.26 338.75L512.86 338.75L512.31 336.30Z M511.73 335.35L509.62 333.68L508.91 335.12L511.51 335.80Z M512.62 335.80L515.22 335.12L514.51 333.68L512.40 335.35Z M511.51 335.80L508.91 336.48L509.62 337.92L511.73 336.25Z M512.40 336.25L514.51 337.92L515.22 336.48L512.62 335.80Z M521.61 335.30L522.16 332.85L520.56 332.85L521.11 335.30Z M521.11 336.30L520.56 338.75L522.16 338.75L521.61 336.30Z M521.02 335.35L518.91 333.68L518.20 335.12L520.80 335.80Z M521.92 335.80L524.51 335.12L523.80 333.68L521.69 335.35Z M520.80 335.80L518.20 336.48L518.91 337.92L521.02 336.25Z M521.69 336.25L523.80 337.92L524.51 336.48L521.92 335.80Z M526.25 335.30L526.80 332.85L525.20 332.85L525.75 335.30Z M525.75 336.30L525.20 338.75L526.80 338.75L526.25 336.30Z M525.67 335.35L523.56 333.68L522.84 335.12L525.44 335.80Z M526.56 335.80L529.16 335.12L528.44 333.68L526.34 335.35Z M525.44 335.80L522.84 336.48L523.56 337.92L525.67 336.25Z M526.34 336.25L528.44 337.92L529.16 336.48L526.56 335.80Z M530.90 335.30L531.45 332.85L529.85 332.85L530.40 335.30Z M530.40 336.30L529.85 338.75L531.45 338.75L530.90 336.30Z M530.31 335.35L528.21 333.68L527.49 335.12L530.09 335.80Z M531.21 335.80L533.81 335.12L533.09 333.68L530.98 335.35Z M530.09 335.80L527.49 336.48L528.21 337.92L530.31 336.25Z M530.98 336.25L533.09 337.92L533.81 336.48L531.21 335.80Z M535.54 335.30L536.09 332.85L534.49 332.85L535.04 335.30Z M535.04 336.30L534.49 338.75L536.09 338.75L535.54 336.30Z M534.96 335.35L532.85 333.68L532.14 335.12L534.73 335.80Z M535.85 335.80L538.45 335.12L537.74 333.68L535.63 335.35Z M534.73 335.80L532.14 336.48L532.85 337.92L534.96 336.25Z M535.63 336.25L537.74 337.92L538.45 336.48L535.85 335.80Z M540.19 335.30L540.74 332.85L539.14 332.85L539.69 335.30Z M539.69 336.30L539.14 338.75L540.74 338.75L540.19 336.30Z M539.60 335.35L537.50 333.68L536.78 335.12L539.38 335.80Z M540.50 335.80L543.10 335.12L542.38 333.68L540.27 335.35Z M539.38 335.80L536.78 336.48L537.50 337.92L539.60 336.25Z M540.27 336.25L542.38 337.92L543.10 336.48L540.50 335.80Z M544.84 335.30L545.39 332.85L543.79 332.85L544.34 335.30Z M544.34 336.30L543.79 338.75L545.39 338.75L544.84 336.30Z M544.25 335.35L542.14 333.68L541.43 335.12L544.03 335.80Z M545.14 335.80L547.74 335.12L547.03 333.68L544.92 335.35Z M544.03 335.80L541.43 336.48L542.14 337.92L544.25 336.25Z M544.92 336.25L547.03 337.92L547.74 336.48L545.14 335.80Z M549.48 335.30L550.03 332.85L548.43 332.85L548.98 335.30Z M548.98 336.30L548.43 338.75L550.03 338.75L549.48 336.30Z M548.90 335.35L546.79 333.68L546.07 335.12L548.67 335.80Z M549.79 335.80L552.39 335.12L551.67 333.68L549.57 335.35Z M548.67 335.80L546.07 336.48L546.79 337.92L548.90 336.25Z M549.57 336.25L551.67 337.92L552.39 336.48L549.79 335.80Z M554.13 335.30L554.68 332.85L553.08 332.85L553.63 335.30Z M553.63 336.30L553.08 338.75L554.68 338.75L554.13 336.30Z M553.54 335.35L551.43 333.68L550.72 335.12L553.32 335.80Z M554.44 335.80L557.03 335.12L556.32 333.68L554.21 335.35Z M553.32 335.80L550.72 336.48L551.43 337.92L553.54 336.25Z M554.21 336.25L556.32 337.92L557.03 336.48L554.44 335.80Z" fill="#1a1a1a"/>
<line x1="231.61" y1="15.3" x2="231.61" y2="171" stroke="#6cc64a" stroke-width="3" stroke-dasharray="14.6 13.88"/>
<line x1="486.61" y1="15.3" x2="486.61" y2="171" stroke="#6cc64a" stroke-width="3" stroke-dasharray="14.6 13.88"/>
<line x1="231.61" y1="193.8" x2="231.61" y2="349" stroke="#6cc64a" stroke-width="3" stroke-dasharray="14.6 13.75"/>
<line x1="486.61" y1="193.8" x2="486.61" y2="349" stroke="#6cc64a" stroke-width="3" stroke-dasharray="14.6 13.75"/>
<text transform="translate(28.2 93.5) rotate(-90)" text-anchor="middle" font-size="15" fill="#111">Month</text>
<text transform="translate(28.2 271.5) rotate(-90)" text-anchor="middle" font-size="15" fill="#111">Month</text>
<text transform="translate(84.80 354.1) rotate(-90)" text-anchor="end" font-size="10" fill="#111">1950-1970</text>
<text transform="translate(103.42 354.1) rotate(-90)" text-anchor="end" font-size="10" fill="#111">1954-1974</text>
<text transform="translate(122.03 354.1) rotate(-90)" text-anchor="end" font-size="10" fill="#111">1958-1978</text>
<text transform="translate(140.65 354.1) rotate(-90)" text-anchor="end" font-size="10" fill="#111">1962-1982</text>
<text transform="translate(159.26 354.1) rotate(-90)" text-anchor="end" font-size="10" fill="#111">1966-1986</text>
<text transform="translate(177.88 354.1) rotate(-90)" text-anchor="end" font-size="10" fill="#111">1970-1990</text>
<text transform="translate(196.50 354.1) rotate(-90)" text-anchor="end" font-size="10" fill="#111">1974-1994</text>
<text transform="translate(215.11 354.1) rotate(-90)" text-anchor="end" font-size="10" fill="#111">1978-1998</text>
<text transform="translate(233.73 354.1) rotate(-90)" text-anchor="end" font-size="10" fill="#111">1982-2002</text>
<text transform="translate(252.34 354.1) rotate(-90)" text-anchor="end" font-size="10" fill="#111">1986-2006</text>
<text transform="translate(270.96 354.1) rotate(-90)" text-anchor="end" font-size="10" fill="#111">1990-2010</text>
<text transform="translate(289.58 354.1) rotate(-90)" text-anchor="end" font-size="10" fill="#111">1994-2014</text>
<text x="188.0" y="418" text-anchor="middle" font-size="13.5" fill="#111">Year</text>
<text transform="translate(339.80 354.1) rotate(-90)" text-anchor="end" font-size="10" fill="#111">1950-1970</text>
<text transform="translate(358.42 354.1) rotate(-90)" text-anchor="end" font-size="10" fill="#111">1954-1974</text>
<text transform="translate(377.03 354.1) rotate(-90)" text-anchor="end" font-size="10" fill="#111">1958-1978</text>
<text transform="translate(395.65 354.1) rotate(-90)" text-anchor="end" font-size="10" fill="#111">1962-1982</text>
<text transform="translate(414.26 354.1) rotate(-90)" text-anchor="end" font-size="10" fill="#111">1966-1986</text>
<text transform="translate(432.88 354.1) rotate(-90)" text-anchor="end" font-size="10" fill="#111">1970-1990</text>
<text transform="translate(451.50 354.1) rotate(-90)" text-anchor="end" font-size="10" fill="#111">1974-1994</text>
<text transform="translate(470.11 354.1) rotate(-90)" text-anchor="end" font-size="10" fill="#111">1978-1998</text>
<text transform="translate(488.73 354.1) rotate(-90)" text-anchor="end" font-size="10" fill="#111">1982-2002</text>
<text transform="translate(507.34 354.1) rotate(-90)" text-anchor="end" font-size="10" fill="#111">1986-2006</text>
<text transform="translate(525.96 354.1) rotate(-90)" text-anchor="end" font-size="10" fill="#111">1990-2010</text>
<text transform="translate(544.58 354.1) rotate(-90)" text-anchor="end" font-size="10" fill="#111">1994-2014</text>
<text x="445.8" y="418" text-anchor="middle" font-size="13.5" fill="#111">Year</text>
<rect x="588" y="114.00" width="9" height="2.54" fill="#ff0404"/>
<rect x="588" y="116.44" width="9" height="2.54" fill="#ff0c0c"/>
<rect x="588" y="118.88" width="9" height="2.54" fill="#ff1414"/>
<rect x="588" y="121.31" width="9" height="2.54" fill="#ff1c1c"/>
<rect x="588" y="123.75" width="9" height="2.54" fill="#ff2424"/>
<rect x="588" y="126.19" width="9" height="2.54" fill="#ff2c2c"/>
<rect x="588" y="128.62" width="9" height="2.54" fill="#ff3434"/>
<rect x="588" y="131.06" width="9" height="2.54" fill="#ff3c3c"/>
<rect x="588" y="133.50" width="9" height="2.54" fill="#ff4444"/>
<rect x="588" y="135.94" width="9" height="2.54" fill="#ff4c4c"/>
<rect x="588" y="138.38" width="9" height="2.54" fill="#ff5454"/>
<rect x="588" y="140.81" width="9" height="2.54" fill="#ff5c5c"/>
<rect x="588" y="143.25" width="9" height="2.54" fill="#ff6464"/>
<rect x="588" y="145.69" width="9" height="2.54" fill="#ff6c6c"/>
<rect x="588" y="148.12" width="9" height="2.54" fill="#ff7474"/>
<rect x="588" y="150.56" width="9" height="2.54" fill="#ff7c7c"/>
<rect x="588" y="153.00" width="9" height="2.54" fill="#ff8383"/>
<rect x="588" y="155.44" width="9" height="2.54" fill="#ff8b8b"/>
<rect x="588" y="157.88" width="9" height="2.54" fill="#ff9393"/>
<rect x="588" y="160.31" width="9" height="2.54" fill="#ff9b9b"/>
<rect x="588" y="162.75" width="9" height="2.54" fill="#ffa3a3"/>
<rect x="588" y="165.19" width="9" height="2.54" fill="#ffabab"/>
<rect x="588" y="167.62" width="9" height="2.54" fill="#ffb3b3"/>
<rect x="588" y="170.06" width="9" height="2.54" fill="#ffbbbb"/>
<rect x="588" y="172.50" width="9" height="2.54" fill="#ffc3c3"/>
<rect x="588" y="174.94" width="9" height="2.54" fill="#ffcbcb"/>
<rect x="588" y="177.38" width="9" height="2.54" fill="#ffd3d3"/>
<rect x="588" y="179.81" width="9" height="2.54" fill="#ffdbdb"/>
<rect x="588" y="182.25" width="9" height="2.54" fill="#ffe3e3"/>
<rect x="588" y="184.69" width="9" height="2.54" fill="#ffebeb"/>
<rect x="588" y="187.12" width="9" height="2.54" fill="#fff3f3"/>
<rect x="588" y="189.56" width="9" height="2.54" fill="#fffbfb"/>
<rect x="588" y="192.00" width="9" height="2.54" fill="#fbfbff"/>
<rect x="588" y="194.44" width="9" height="2.54" fill="#f3f3ff"/>
<rect x="588" y="196.88" width="9" height="2.54" fill="#ebebff"/>
<rect x="588" y="199.31" width="9" height="2.54" fill="#e3e3ff"/>
<rect x="588" y="201.75" width="9" height="2.54" fill="#dbdbff"/>
<rect x="588" y="204.19" width="9" height="2.54" fill="#d3d3ff"/>
<rect x="588" y="206.62" width="9" height="2.54" fill="#cbcbff"/>
<rect x="588" y="209.06" width="9" height="2.54" fill="#c3c3ff"/>
<rect x="588" y="211.50" width="9" height="2.54" fill="#bbbbff"/>
<rect x="588" y="213.94" width="9" height="2.54" fill="#b3b3ff"/>
<rect x="588" y="216.38" width="9" height="2.54" fill="#ababff"/>
<rect x="588" y="218.81" width="9" height="2.54" fill="#a3a3ff"/>
<rect x="588" y="221.25" width="9" height="2.54" fill="#9b9bff"/>
<rect x="588" y="223.69" width="9" height="2.54" fill="#9393ff"/>
<rect x="588" y="226.12" width="9" height="2.54" fill="#8b8bff"/>
<rect x="588" y="228.56" width="9" height="2.54" fill="#8383ff"/>
<rect x="588" y="231.00" width="9" height="2.54" fill="#7c7cff"/>
<rect x="588" y="233.44" width="9" height="2.54" fill="#7474ff"/>
<rect x="588" y="235.88" width="9" height="2.54" fill="#6c6cff"/>
<rect x="588" y="238.31" width="9" height="2.54" fill="#6464ff"/>
<rect x="588" y="240.75" width="9" height="2.54" fill="#5c5cff"/>
<rect x="588" y="243.19" width="9" height="2.54" fill="#5454ff"/>
<rect x="588" y="245.62" width="9" height="2.54" fill="#4c4cff"/>
<rect x="588" y="248.06" width="9" height="2.54" fill="#4444ff"/>
<rect x="588" y="250.50" width="9" height="2.54" fill="#3c3cff"/>
<rect x="588" y="252.94" width="9" height="2.54" fill="#3434ff"/>
<rect x="588" y="255.38" width="9" height="2.54" fill="#2c2cff"/>
<rect x="588" y="257.81" width="9" height="2.54" fill="#2424ff"/>
<rect x="588" y="260.25" width="9" height="2.54" fill="#1c1cff"/>
<rect x="588" y="262.69" width="9" height="2.54" fill="#1414ff"/>
<rect x="588" y="265.12" width="9" height="2.54" fill="#0c0cff"/>
<rect x="588" y="267.56" width="9" height="2.54" fill="#0404ff"/>
<rect x="588.3" y="114" width="8.9" height="156" fill="none" stroke="#888" stroke-width="0.6"/>
<path d="M597 114.0 H600 M597 153.0 H600 M597 192.0 H600 M597 231.0 H600 M597 270.0 H600" stroke="#777" stroke-width="0.8"/>
<text transform="translate(602.4 117.7) scale(0.85 1)" font-size="10.4" fill="#111">1</text>
<text transform="translate(602.4 156.7) scale(0.85 1)" font-size="10.4" fill="#111">0.<tspan x="11">5</tspan></text>
<text transform="translate(602.4 195.7) scale(0.85 1)" font-size="10.4" fill="#111">0</text>
<text transform="translate(602.4 234.7) scale(0.85 1)" font-size="10.4" fill="#111">−0.<tspan x="16.5">5</tspan></text>
<text transform="translate(602.4 273.7) scale(0.85 1)" font-size="10.4" fill="#111">−1</text>
<text x="592.6" y="90.7" text-anchor="middle" font-size="9" fill="#111">Correlation</text>
<text x="592.6" y="103.7" text-anchor="middle" font-size="9" fill="#111">coefficient</text>
</svg>
</body></html>
